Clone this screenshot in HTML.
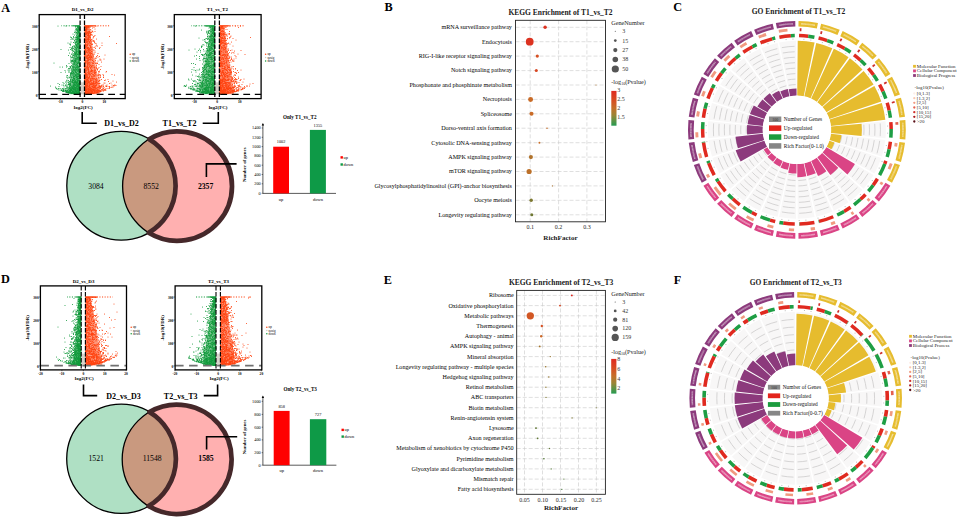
<!DOCTYPE html>
<html><head><meta charset="utf-8"><title>Figure</title>
<style>html,body{margin:0;padding:0;background:#fff}svg{display:block}text{font-family:"Liberation Serif",serif}</style></head>
<body>
<svg width="957" height="517" viewBox="0 0 957 517">
<rect x="0" y="0" width="957" height="517" fill="#fff"/>
<text transform="translate(1.2 12) scale(.93 1)" font-size="13.2" font-weight="bold">A</text>
<text transform="translate(384.4 11.3) scale(.93 1)" font-size="13.2" font-weight="bold">B</text>
<text transform="translate(673.3 11.1) scale(.93 1)" font-size="13.2" font-weight="bold">C</text>
<text transform="translate(0.9 282.7) scale(.93 1)" font-size="13.2" font-weight="bold">D</text>
<text transform="translate(383.8 283.6) scale(.93 1)" font-size="13.2" font-weight="bold">E</text>
<text transform="translate(673.8 283.6) scale(.93 1)" font-size="13.2" font-weight="bold">F</text>
<path transform="scale(.5)" d="M150 112h0M153 164h0M155 80h0M156 94h0M156 56h0M155 52h0M160 185h0M159 73h0M154 120h0M156 52h0M159 146h0M150 134h0M160 131h0M160 125h0M140 186h0M146 128h0M155 184h0M157 174h0M146 165h0M145 160h0M155 79h0M133 154h0M159 106h0M148 183h0M159 173h0M153 57h0M159 70h0M153 155h0M156 60h0M133 131h0M157 52h0M158 157h0M159 186h0M158 72h0M160 143h0M157 181h0M150 174h0M154 99h0M157 170h0M127 181h0M155 54h0M156 88h0M155 63h0M146 132h0M153 110h0M149 178h0M159 68h0M149 129h0M140 164h0M156 167h0M160 63h0M158 161h0M143 98h0M149 162h0M156 63h0M149 187h0M156 72h0M122 178h0M147 179h0M156 54h0M157 187h0M153 188h0M157 157h0M158 103h0M159 57h0M150 186h0M146 183h0M151 85h0M149 65h0M141 178h0M137 137h0M150 125h0M151 166h0M143 147h0M158 115h0M149 141h0M117 177h0M141 182h0M133 183h0M158 121h0M146 185h0M159 117h0M141 146h0M142 154h0M156 110h0M140 185h0M155 134h0M140 180h0M152 132h0M154 179h0M157 124h0M151 171h0M159 52h0M149 181h0M147 165h0M147 175h0M151 179h0M159 101h0M156 105h0M157 65h0M151 142h0M101 172h0M138 156h0M150 168h0M156 56h0M154 95h0M139 185h0M155 185h0M158 53h0M158 126h0M143 178h0M160 52h0M137 164h0M152 186h0M154 52h0M150 103h0M141 120h0M159 87h0M140 133h0M151 84h0M141 179h0M147 157h0M151 143h0M155 52h0M159 84h0M160 154h0M155 185h0M157 114h0M146 111h0M160 173h0M158 52h0M156 177h0M147 136h0M150 183h0M147 187h0M150 136h0M120 177h0M158 123h0M137 176h0M156 77h0M150 171h0M157 172h0M159 127h0M146 116h0M160 88h0M156 103h0M141 168h0M152 163h0M159 63h0M157 179h0M154 175h0M158 102h0M147 160h0M137 184h0M150 160h0M155 170h0M159 175h0M122 181h0M136 174h0M158 179h0M152 178h0M134 183h0M155 187h0M153 64h0M155 147h0M147 155h0M147 181h0M156 80h0M153 112h0M134 184h0M155 56h0M150 81h0M155 165h0M156 164h0M158 185h0M140 182h0M143 121h0M156 133h0M156 72h0M144 101h0M154 79h0M158 53h0M148 185h0M154 182h0M159 82h0M158 64h0M158 185h0M150 158h0M160 186h0M151 123h0M156 63h0M145 159h0M154 79h0M153 104h0M144 185h0M158 168h0M146 184h0M148 153h0M133 162h0M160 178h0M142 176h0M159 71h0M156 132h0M157 175h0M156 156h0M147 178h0M148 168h0M156 75h0M155 52h0M108 126h0M156 172h0M145 182h0M153 154h0M145 112h0M154 157h0M158 92h0M155 156h0M156 187h0M146 143h0M157 76h0M144 179h0M160 81h0M153 187h0M147 181h0M157 76h0M156 114h0M150 170h0M141 74h0M159 103h0M157 93h0M154 139h0M159 146h0M158 112h0M139 106h0M152 149h0M154 164h0M139 184h0M119 169h0M159 173h0M158 170h0M149 165h0M159 170h0M140 169h0M155 171h0M136 86h0M157 133h0M153 65h0M158 145h0M159 65h0M139 173h0M144 178h0M160 117h0M160 180h0M157 98h0M158 78h0M134 176h0M160 175h0M160 182h0M155 77h0M113 177h0M157 55h0M160 66h0M153 140h0M159 161h0M154 150h0M158 147h0M148 171h0M123 180h0M158 186h0M138 169h0M150 158h0M127 170h0M146 129h0M157 150h0M154 177h0M134 175h0M155 53h0M157 141h0M151 174h0M152 118h0M140 95h0M155 166h0M156 179h0M132 177h0M146 121h0M158 69h0M142 186h0M160 179h0M158 114h0M148 186h0M155 153h0M156 184h0M160 75h0M154 185h0M153 52h0M158 178h0M160 52h0M125 183h0M153 52h0M160 184h0M146 178h0M157 105h0M147 170h0M157 108h0M154 135h0M147 181h0M157 167h0M149 178h0M158 70h0M148 139h0M159 52h0M154 91h0M145 186h0M143 187h0M158 144h0M140 184h0M147 173h0M158 170h0M156 165h0M153 166h0M158 152h0M127 180h0M146 148h0M143 97h0M156 157h0M155 188h0M158 177h0M151 166h0M150 187h0M153 93h0M148 186h0M150 186h0M160 144h0M158 111h0M140 164h0M156 173h0M153 103h0M150 157h0M153 145h0M158 181h0M157 185h0M154 52h0M136 184h0M160 112h0M145 143h0M146 94h0M155 76h0M146 138h0M160 116h0M148 176h0M139 185h0M150 123h0M156 70h0M157 135h0M154 166h0M155 75h0M149 92h0M139 181h0M138 185h0M158 171h0M131 171h0M154 52h0M154 188h0M133 184h0M150 182h0M132 172h0M155 136h0M140 186h0M153 155h0M160 52h0M159 171h0M148 184h0M158 148h0M159 52h0M143 123h0M145 175h0M135 151h0M155 74h0M156 188h0M154 147h0M132 52h0M141 88h0M158 75h0M125 134h0M143 145h0M157 181h0M153 139h0M151 145h0M154 164h0M136 165h0M158 181h0M159 182h0M151 161h0M154 109h0M141 159h0M147 168h0M128 182h0M124 170h0M155 67h0M143 173h0M154 127h0M146 172h0M147 185h0M156 61h0M160 53h0M150 134h0M153 105h0M160 60h0M156 119h0M160 155h0M156 115h0M152 179h0M159 122h0M142 114h0M156 168h0M155 152h0M135 181h0M148 108h0M160 69h0M149 187h0M156 171h0M137 185h0M138 186h0M156 94h0M152 182h0M158 76h0M151 120h0M155 173h0M148 150h0M146 136h0M149 127h0M158 58h0M160 97h0M146 155h0M149 158h0M146 148h0M156 181h0M127 182h0M152 146h0M155 53h0M151 100h0M120 134h0M158 105h0M146 164h0M142 170h0M151 89h0M128 178h0M157 186h0M146 116h0M142 172h0M146 187h0M159 188h0M141 112h0M153 168h0M142 133h0M138 183h0M154 182h0M154 73h0M160 188h0M152 177h0M155 59h0M152 183h0M143 181h0M155 127h0M140 181h0M156 187h0M157 177h0M153 52h0M124 181h0M137 183h0M144 146h0M160 187h0M134 160h0M147 168h0M157 75h0M153 101h0M145 183h0M145 186h0M144 109h0M160 54h0M137 161h0M153 129h0M154 165h0M158 114h0M140 182h0M154 179h0M137 184h0M151 121h0M141 162h0M145 161h0M143 181h0M156 73h0M150 123h0M158 184h0M136 154h0M152 130h0M156 55h0M151 164h0M139 155h0M156 143h0M159 84h0M153 185h0M158 173h0M149 94h0M156 90h0M132 184h0M147 187h0M159 176h0M149 153h0M149 116h0M160 83h0M155 161h0M156 138h0M130 141h0M139 174h0M152 175h0M153 107h0M130 180h0M159 72h0M143 164h0M152 177h0M136 178h0M158 55h0M157 167h0M151 58h0M156 52h0M151 95h0M146 176h0M153 52h0M116 52h0M157 109h0M148 75h0M132 181h0M159 117h0M158 127h0M126 180h0M153 184h0M151 151h0M147 183h0M146 115h0M157 156h0M143 181h0M146 136h0M141 161h0M159 173h0M155 52h0M152 188h0M159 57h0M148 140h0M139 182h0M155 59h0M157 138h0M147 181h0M156 175h0M142 84h0M153 188h0M157 62h0M160 149h0M143 126h0M146 136h0M160 52h0M143 186h0M154 186h0M144 187h0M143 138h0M157 150h0M146 175h0M157 139h0M116 167h0M158 166h0M148 168h0M157 141h0M134 184h0M159 126h0M142 123h0M127 178h0M157 157h0M152 131h0M151 122h0M159 142h0M147 156h0M142 79h0M154 79h0M133 182h0M153 64h0M151 174h0M152 146h0M147 103h0M141 181h0M148 111h0M152 122h0M151 170h0M157 118h0M154 95h0M151 141h0M158 57h0M141 183h0M159 116h0M154 155h0M139 185h0M157 59h0M147 177h0M149 179h0M152 60h0M141 175h0M160 181h0M156 152h0M146 100h0M150 130h0M149 181h0M153 167h0M159 87h0M158 95h0M157 188h0M156 52h0M155 133h0M149 108h0M116 178h0M151 180h0M154 128h0M154 127h0M141 162h0M155 68h0M158 81h0M157 87h0M147 97h0M158 158h0M138 166h0M157 172h0M147 144h0M157 76h0M154 84h0M155 155h0M141 170h0M149 165h0M158 121h0M158 66h0M149 169h0M147 116h0M159 163h0M150 168h0M131 181h0M156 52h0M146 151h0M155 186h0M156 153h0M146 185h0M145 93h0M148 159h0M159 111h0M157 158h0M143 142h0M152 75h0M149 167h0M159 69h0M145 183h0M142 155h0M159 52h0M158 107h0M159 52h0M147 183h0M142 149h0M160 181h0M157 52h0M140 152h0M143 146h0M153 104h0M139 180h0M142 116h0M154 188h0M159 104h0M155 95h0M149 127h0M156 63h0M140 184h0M157 153h0M158 179h0M160 170h0M152 60h0M150 165h0M158 96h0M143 173h0M159 52h0M139 163h0M149 112h0M153 90h0M157 188h0M152 177h0M155 184h0M157 60h0M156 137h0M149 177h0M138 183h0M148 184h0M148 93h0M157 166h0M145 177h0M157 52h0M147 182h0M143 176h0M160 111h0M150 185h0M159 87h0M136 169h0M151 52h0M154 188h0M158 63h0M158 187h0M151 166h0M143 174h0M139 177h0M154 187h0M152 175h0M158 138h0M157 184h0M153 93h0M143 180h0M150 87h0M128 172h0M158 52h0M157 57h0M148 161h0M152 151h0M153 71h0M157 181h0M151 174h0M160 52h0M160 102h0M158 166h0M154 61h0M150 180h0M137 168h0M154 161h0M153 185h0M157 96h0M160 52h0M144 95h0M148 187h0M145 175h0M144 187h0M153 68h0M158 55h0M159 102h0M160 172h0M145 181h0M153 80h0M157 120h0M149 134h0M156 52h0M156 168h0M159 106h0M146 149h0M156 52h0M150 149h0M156 169h0M147 139h0M157 161h0M159 65h0M145 183h0M150 170h0M157 59h0M156 80h0M124 170h0M149 174h0M159 164h0M153 89h0M145 185h0M133 181h0M150 106h0M152 83h0M154 56h0M147 181h0M143 181h0M142 136h0M136 182h0M143 180h0M155 171h0M156 158h0M156 177h0M126 165h0M155 185h0M156 187h0M147 145h0M157 140h0M148 110h0M140 176h0M138 180h0M160 100h0M154 97h0M152 91h0M159 81h0M158 52h0M146 147h0M154 162h0M151 79h0M160 180h0M155 108h0M146 178h0M153 175h0M152 185h0M139 186h0M144 77h0M154 187h0M153 124h0M144 184h0M146 126h0M150 178h0M138 169h0M154 181h0M143 186h0M152 173h0M146 187h0M156 80h0M158 88h0M138 140h0M158 63h0M153 60h0M118 173h0M158 74h0M154 119h0M125 180h0M141 184h0M155 184h0M159 134h0M153 187h0M146 187h0M157 188h0M155 117h0M150 121h0M151 74h0M150 96h0M158 76h0M145 164h0M156 52h0M152 135h0M148 122h0M151 150h0M160 82h0M160 167h0M154 185h0M130 183h0M137 169h0M143 180h0M159 61h0M160 158h0M146 141h0M150 185h0M159 52h0M151 161h0M158 56h0M159 86h0M150 98h0M150 169h0M160 58h0M157 72h0M153 74h0M154 52h0M157 53h0M157 98h0M148 147h0M157 126h0M139 186h0M148 179h0M151 52h0M155 89h0M151 169h0M156 64h0M152 77h0M142 185h0M144 185h0M150 108h0M152 66h0M158 52h0M146 183h0M153 183h0M158 79h0M144 162h0M158 177h0M147 175h0M157 83h0M160 70h0M158 74h0M141 167h0M154 126h0M157 117h0M156 185h0M146 145h0M150 62h0M155 177h0M157 172h0M159 185h0M123 181h0M150 96h0M144 162h0M158 176h0M148 162h0M132 183h0M154 186h0M153 104h0M134 184h0M153 146h0M155 52h0M157 182h0M155 89h0M138 127h0M141 181h0M127 183h0M151 181h0M158 104h0M154 179h0M160 157h0M156 52h0M148 91h0M152 177h0M154 177h0M148 139h0M153 136h0M154 185h0M148 124h0M145 173h0M157 75h0M149 185h0M145 78h0M159 78h0M158 188h0M142 179h0M148 85h0M135 180h0M152 120h0M144 178h0M155 87h0M147 161h0M154 186h0M159 179h0M152 105h0M147 156h0M154 102h0M159 59h0M144 187h0M118 180h0M157 52h0M158 86h0M160 149h0M156 66h0M160 109h0M135 185h0M145 162h0M144 140h0M151 54h0M142 145h0M143 155h0M133 184h0M146 114h0M159 112h0M127 183h0M152 118h0M151 161h0M154 185h0M147 166h0M150 105h0M157 94h0M145 104h0M150 150h0M149 164h0M145 121h0M160 186h0M149 81h0M154 114h0M149 177h0M145 123h0M147 140h0M133 166h0M159 177h0M159 128h0M150 167h0M147 175h0M155 80h0M153 152h0M149 183h0M145 184h0M159 106h0M151 79h0M156 114h0M155 95h0M150 153h0M152 117h0M160 58h0M158 52h0M152 151h0M158 186h0M157 52h0M158 100h0M158 64h0M150 174h0M134 162h0M159 177h0M156 176h0M155 86h0M151 86h0M155 170h0M155 52h0M151 162h0M139 168h0M160 93h0M159 155h0M153 164h0M139 137h0M155 83h0M139 186h0M136 140h0M140 184h0M158 180h0M155 130h0M145 175h0M142 183h0M154 171h0M124 181h0M159 52h0M160 183h0M157 84h0M153 79h0M148 185h0M151 126h0M146 155h0M156 54h0M139 155h0M147 155h0M149 156h0M158 67h0M153 102h0M157 78h0M137 100h0M147 132h0M158 52h0M153 58h0M114 178h0M153 97h0M133 176h0M158 77h0M136 184h0M143 131h0M151 164h0M146 107h0M156 125h0M153 103h0M149 125h0M132 169h0M154 147h0M150 150h0M154 134h0M152 165h0M147 181h0M156 187h0M156 55h0M147 73h0M141 180h0M134 171h0M159 122h0M155 169h0M153 132h0M145 182h0M158 97h0M157 182h0M142 176h0M155 183h0M157 52h0M140 167h0M146 177h0M117 177h0M158 179h0M123 181h0M151 106h0M138 170h0M151 187h0M157 150h0M140 186h0M146 68h0M150 175h0M154 133h0M148 177h0M159 182h0M153 52h0M153 83h0M157 186h0M157 174h0M128 178h0M149 105h0M159 185h0M137 184h0M145 134h0M156 126h0M149 186h0M148 134h0M154 125h0M141 147h0M149 173h0M145 160h0M145 165h0M153 52h0M143 184h0M160 161h0M159 132h0M159 165h0M156 56h0M159 178h0M145 120h0M147 128h0M142 152h0M143 142h0M158 112h0M152 166h0M145 181h0M138 145h0M156 81h0M151 178h0M152 52h0M142 187h0M151 117h0M144 186h0M159 151h0M155 164h0M147 116h0M157 80h0M150 186h0M141 136h0M146 182h0M160 152h0M158 162h0M112 176h0M156 188h0M155 60h0M154 119h0M158 111h0M154 149h0M160 52h0M153 159h0M156 134h0M153 172h0M137 179h0M133 185h0M157 115h0M139 182h0M155 165h0M141 159h0M150 178h0M159 101h0M160 172h0M159 78h0M142 182h0M149 157h0M154 188h0M157 169h0M148 188h0M149 187h0M149 142h0M149 164h0M155 164h0M153 166h0M148 78h0M150 87h0M154 107h0M146 148h0M149 146h0M139 168h0M154 168h0M160 105h0M157 53h0M155 78h0M157 185h0M131 177h0M143 108h0M141 149h0M150 149h0M128 176h0M160 58h0M147 184h0M138 186h0M157 54h0M146 78h0M156 142h0M140 181h0M148 185h0M158 112h0M158 89h0M147 182h0M153 170h0M155 63h0M151 107h0M157 58h0M148 158h0M153 187h0M155 162h0M147 171h0M146 178h0M158 62h0M150 139h0M151 179h0M151 109h0M146 166h0M151 182h0M159 184h0M154 95h0M152 185h0M159 188h0M159 52h0M153 182h0M150 174h0M158 91h0M145 120h0M159 52h0M149 70h0M160 105h0M155 131h0M153 52h0M144 162h0M158 74h0M152 165h0M148 185h0M158 181h0M132 179h0M135 181h0M152 154h0M152 144h0M158 171h0M155 140h0M135 182h0M154 59h0M151 185h0M138 143h0M155 92h0M156 102h0M153 177h0M151 64h0M125 177h0M148 175h0M151 175h0M155 102h0M158 105h0M157 133h0M158 146h0M160 148h0M154 142h0M149 171h0M154 125h0M160 70h0M149 187h0M159 68h0M142 152h0M156 60h0M142 182h0M149 187h0M142 125h0M156 181h0M141 99h0M138 183h0M160 103h0M157 183h0M136 176h0M160 97h0M157 52h0M159 52h0M155 159h0M133 134h0M152 150h0M158 62h0M156 65h0M158 81h0M137 111h0M143 123h0M111 174h0M159 52h0M155 80h0M157 174h0M156 53h0M156 87h0M153 75h0M158 52h0M147 85h0M154 170h0M154 156h0M128 167h0M149 184h0M122 145h0M153 173h0M135 156h0M159 184h0M156 52h0M159 71h0M158 140h0M143 131h0M152 94h0M150 163h0M141 134h0M143 138h0M153 58h0M160 165h0M159 96h0M152 129h0M158 56h0M128 181h0M116 178h0M154 186h0M148 133h0M160 183h0M134 173h0M157 104h0M155 165h0M147 153h0M146 186h0M158 108h0M160 138h0M142 158h0M154 64h0M141 149h0M143 75h0M151 108h0M154 75h0M131 164h0M144 120h0M140 136h0M147 176h0M159 183h0M145 174h0M147 135h0M160 161h0M131 144h0M155 172h0M155 115h0M158 82h0M146 101h0M155 178h0M150 177h0M160 168h0M136 185h0M154 155h0M157 175h0M159 129h0M158 138h0M144 181h0M158 125h0M146 110h0M151 137h0M151 179h0M154 175h0M147 179h0M155 60h0M145 98h0M132 180h0M147 74h0M159 167h0M144 147h0M131 184h0M145 176h0M153 99h0M152 184h0M156 54h0M138 176h0M160 108h0M154 146h0M160 87h0M158 167h0M143 147h0M155 94h0M155 187h0M157 184h0M152 68h0M153 52h0M145 133h0M160 107h0M148 119h0M158 118h0M157 107h0M156 123h0M153 114h0M151 112h0M157 178h0M136 181h0M157 146h0M158 149h0M156 52h0M159 94h0M141 151h0M160 73h0M146 123h0M134 133h0M149 82h0M122 99h0M156 56h0M153 182h0M157 169h0M149 99h0M139 182h0M141 90h0M160 84h0M159 184h0M154 133h0M157 141h0M146 165h0M148 172h0M154 134h0M151 171h0M144 186h0M160 86h0M145 170h0M156 149h0M155 188h0M153 183h0M159 184h0M142 178h0M144 162h0M134 151h0M154 64h0M150 116h0M152 76h0M158 90h0M155 52h0M159 133h0M143 123h0M156 86h0M156 52h0M153 181h0M140 179h0M156 90h0M136 186h0M145 134h0M149 177h0M152 109h0M154 185h0M156 70h0M157 64h0M145 96h0M140 140h0M153 154h0M153 183h0M156 162h0M122 181h0M142 164h0M159 183h0M139 88h0M140 171h0M159 119h0M154 79h0M149 125h0M155 176h0M158 73h0M154 134h0M159 53h0M139 182h0M155 181h0M158 113h0M152 139h0M160 103h0M144 115h0M157 178h0M158 184h0M156 183h0M153 91h0M157 52h0M157 186h0M151 177h0M142 176h0M156 148h0M149 121h0M154 57h0M159 79h0M150 186h0M151 183h0M156 160h0M159 95h0M149 184h0M144 179h0M151 119h0M160 185h0M152 186h0M158 99h0M152 111h0M156 171h0M135 184h0M156 52h0M141 185h0M155 109h0M160 52h0M157 101h0M159 152h0M158 174h0M158 185h0M157 52h0M158 143h0M153 85h0M156 103h0M160 125h0M152 154h0M159 100h0M151 126h0M152 155h0M159 71h0M154 179h0M150 175h0M153 117h0M154 58h0" stroke="#129a3c" stroke-width="2.1" stroke-linecap="round" fill="none"/>
<polygon points="80.1,25.8 78.1,25.8 68.2,92.8 69.1,94.3 80.1,94.3" fill="#129a3c" opacity="0.55"/>
<path d="M80.1 25.8H72.4" stroke="#129a3c" stroke-width="1.1" fill="none"/>
<path d="M72.4 25.8H61.4" stroke="#129a3c" stroke-width="1.0" stroke-dasharray="1.1 1.5" fill="none"/>
<path transform="scale(.5)" d="M171 176h0M179 99h0M187 100h0M175 90h0M183 179h0M171 185h0M189 167h0M182 180h0M177 82h0M176 186h0M170 141h0M175 183h0M193 113h0M175 52h0M188 124h0M219 167h0M184 186h0M171 173h0M184 185h0M176 114h0M191 171h0M188 100h0M170 91h0M172 188h0M170 128h0M173 181h0M174 52h0M171 178h0M175 161h0M205 179h0M170 57h0M198 170h0M188 168h0M190 152h0M174 58h0M200 167h0M172 67h0M191 121h0M183 152h0M174 85h0M177 53h0M181 135h0M186 171h0M198 167h0M178 140h0M170 78h0M183 113h0M193 126h0M176 184h0M185 183h0M186 145h0M178 187h0M171 52h0M184 111h0M173 183h0M193 186h0M173 57h0M175 150h0M184 182h0M171 89h0M187 181h0M169 52h0M212 177h0M175 128h0M174 173h0M171 62h0M181 93h0M171 59h0M208 175h0M188 181h0M180 98h0M175 52h0M172 89h0M177 104h0M174 185h0M189 140h0M194 52h0M175 71h0M180 52h0M205 180h0M174 94h0M176 116h0M170 186h0M184 152h0M170 60h0M187 186h0M192 159h0M170 62h0M178 164h0M171 186h0M182 81h0M169 179h0M182 178h0M170 98h0M175 177h0M170 63h0M174 186h0M180 54h0M170 112h0M191 52h0M176 185h0M172 150h0M175 136h0M181 94h0M170 54h0M171 52h0M177 95h0M180 79h0M184 103h0M179 165h0M176 56h0M182 106h0M184 114h0M174 77h0M176 188h0M172 85h0M182 140h0M170 172h0M182 165h0M170 109h0M170 98h0M190 52h0M184 157h0M172 188h0M172 186h0M179 172h0M193 182h0M185 166h0M192 159h0M175 118h0M175 111h0M172 52h0M172 157h0M172 183h0M173 159h0M170 145h0M188 152h0M178 186h0M175 52h0M170 166h0M176 108h0M199 113h0M191 116h0M175 132h0M170 61h0M178 66h0M178 112h0M183 184h0M189 147h0M180 91h0M173 52h0M196 114h0M180 73h0M198 145h0M173 66h0M176 181h0M190 134h0M182 141h0M172 172h0M178 110h0M200 177h0M176 167h0M175 129h0M170 52h0M177 103h0M192 165h0M214 170h0M174 188h0M171 116h0M173 163h0M188 83h0M172 171h0M181 107h0M172 55h0M192 174h0M226 162h0M184 172h0M175 65h0M187 127h0M171 185h0M175 177h0M174 141h0M171 186h0M193 78h0M182 134h0M173 178h0M172 147h0M170 102h0M181 76h0M182 141h0M209 180h0M169 161h0M172 52h0M185 180h0M173 154h0M175 188h0M180 63h0M172 85h0M185 167h0M171 175h0M179 52h0M183 98h0M169 180h0M198 154h0M178 79h0M179 85h0M178 145h0M170 185h0M176 99h0M196 168h0M227 171h0M172 184h0M177 99h0M189 72h0M181 116h0M198 143h0M173 146h0M173 151h0M174 86h0M181 81h0M184 177h0M181 68h0M176 152h0M170 153h0M189 185h0M228 171h0M170 107h0M174 54h0M174 171h0M184 136h0M198 155h0M189 181h0M170 182h0M176 71h0M173 81h0M186 109h0M188 164h0M178 67h0M175 117h0M171 137h0M208 118h0M197 181h0M184 112h0M179 114h0M180 125h0M188 183h0M172 180h0M184 184h0M179 155h0M181 181h0M175 129h0M172 102h0M198 149h0M177 115h0M192 176h0M177 155h0M169 67h0M188 176h0M185 157h0M184 175h0M175 184h0M176 119h0M183 143h0M200 172h0M180 102h0M183 187h0M171 52h0M171 95h0M176 128h0M188 181h0M174 56h0M178 166h0M177 164h0M193 144h0M176 95h0M174 124h0M190 169h0M200 184h0M182 183h0M200 181h0M175 126h0M182 180h0M178 145h0M176 101h0M172 187h0M219 173h0M172 52h0M203 159h0M171 163h0M171 130h0M180 180h0M173 183h0M177 55h0M172 133h0M207 151h0M186 120h0M177 180h0M180 174h0M173 167h0M203 173h0M169 111h0M180 176h0M199 161h0M181 184h0M177 136h0M184 183h0M190 86h0M212 180h0M229 170h0M176 151h0M170 148h0M169 160h0M172 66h0M186 180h0M175 52h0M187 166h0M176 145h0M197 163h0M182 144h0M177 69h0M175 122h0M198 160h0M233 87h0M191 172h0M187 81h0M200 118h0M184 52h0M203 171h0M172 160h0M170 93h0M172 164h0M181 184h0M185 187h0M179 188h0M169 52h0M179 168h0M173 177h0M180 163h0M181 131h0M174 92h0M171 107h0M190 183h0M184 106h0M188 182h0M195 181h0M181 114h0M179 144h0M179 64h0M190 174h0M204 182h0M179 179h0M186 160h0M179 155h0M184 130h0M184 63h0M172 89h0M172 140h0M184 184h0M191 186h0M189 184h0M180 177h0M193 160h0M195 176h0M181 52h0M192 87h0M177 80h0M181 161h0M184 186h0M185 141h0M179 75h0M184 107h0M179 182h0M173 183h0M173 79h0M179 64h0M181 186h0M178 170h0M169 174h0M173 102h0M170 81h0M173 187h0M189 136h0M180 124h0M189 179h0M176 110h0M174 95h0M174 138h0M182 71h0M173 52h0M175 78h0M184 186h0M184 88h0M172 133h0M193 184h0M169 77h0M181 163h0M189 180h0M195 183h0M173 183h0M172 99h0M180 62h0M173 55h0M190 172h0M170 156h0M170 111h0M183 186h0M184 133h0M184 175h0M192 181h0M180 116h0M192 92h0M176 62h0M196 179h0M177 78h0M183 69h0M177 73h0M198 173h0M183 185h0M181 186h0M190 171h0M178 86h0M191 178h0M200 120h0M190 159h0M181 178h0M173 182h0M172 75h0M187 179h0M200 95h0M170 107h0M196 152h0M181 101h0M185 173h0M183 180h0M197 175h0M184 182h0M193 126h0M177 177h0M183 141h0M189 175h0M191 145h0M194 162h0M180 86h0M180 184h0M170 102h0M192 182h0M174 65h0M178 147h0M172 133h0M186 143h0M171 171h0M180 110h0M195 126h0M170 180h0M171 82h0M171 52h0M170 162h0M175 159h0M180 84h0M174 161h0M170 123h0M180 120h0M176 139h0M180 176h0M177 74h0M183 107h0M179 185h0M201 155h0M175 135h0M219 177h0M171 144h0M175 172h0M186 76h0M188 171h0M174 155h0M172 54h0M200 183h0M191 167h0M188 186h0M177 156h0M183 114h0M191 183h0M179 153h0M177 182h0M181 80h0M194 138h0M179 175h0M178 158h0M170 69h0M171 148h0M174 175h0M195 138h0M199 166h0M179 90h0M181 187h0M170 181h0M170 181h0M182 172h0M184 186h0M201 183h0M177 109h0M179 85h0M193 177h0M182 160h0M170 52h0M173 64h0M185 80h0M171 155h0M190 86h0M172 91h0M172 166h0M187 158h0M181 69h0M171 154h0M188 153h0M171 95h0M208 178h0M169 97h0M177 173h0M182 169h0M208 166h0M181 159h0M174 187h0M171 91h0M188 171h0M170 52h0M199 162h0M169 94h0M197 180h0M174 52h0M179 152h0M177 127h0M188 135h0M183 84h0M179 101h0M172 175h0M182 168h0M190 105h0M177 67h0M178 186h0M178 112h0M198 181h0M171 165h0M172 161h0M178 52h0M176 182h0M178 86h0M170 152h0M184 165h0M185 184h0M174 165h0M183 182h0M180 117h0M174 73h0M186 178h0M172 108h0M174 54h0M176 87h0M169 100h0M170 157h0M186 154h0M201 175h0M177 130h0M232 171h0M179 76h0M176 64h0M177 134h0M187 74h0M173 64h0M179 184h0M176 122h0M170 147h0M191 127h0M183 184h0M169 157h0M187 150h0M183 140h0M197 143h0M170 108h0M172 61h0M180 71h0M211 180h0M179 58h0M191 172h0M224 174h0M177 161h0M184 183h0M187 186h0M176 52h0M183 167h0M171 177h0M190 58h0M207 177h0M171 142h0M171 179h0M180 97h0M176 178h0M179 125h0M179 52h0M183 185h0M175 127h0M170 184h0M181 163h0M200 160h0M176 176h0M172 175h0M180 80h0M226 174h0M193 116h0M173 67h0M187 170h0M193 165h0M180 126h0M173 182h0M212 180h0M216 159h0M176 188h0M185 166h0M177 138h0M177 63h0M219 73h0M183 179h0M185 182h0M179 178h0M175 136h0M187 149h0M182 185h0M190 118h0M200 175h0M195 175h0M180 114h0M177 176h0M170 107h0M186 168h0M173 168h0M179 119h0M178 143h0M199 178h0M185 116h0M171 52h0M173 112h0M176 155h0M176 162h0M177 178h0M182 113h0M181 179h0M180 160h0M171 73h0M179 62h0M173 184h0M172 114h0M186 186h0M176 76h0M176 138h0M186 52h0M182 157h0M170 179h0M174 172h0M171 141h0M171 168h0M196 181h0M184 130h0M172 69h0M192 179h0M177 120h0M171 185h0M224 170h0M179 52h0M211 179h0M198 150h0M188 187h0M172 186h0M185 62h0M172 173h0M171 55h0M173 66h0M187 167h0M184 186h0M189 135h0M207 154h0M211 160h0M172 52h0M176 157h0M173 52h0M178 180h0M170 77h0M186 126h0M198 176h0M204 170h0M171 108h0M192 178h0M192 167h0M179 174h0M173 59h0M169 175h0M171 170h0M176 179h0M171 58h0M181 120h0M170 64h0M175 171h0M191 171h0M171 126h0M179 102h0M191 148h0M174 84h0M184 169h0M206 180h0M184 107h0M185 70h0M170 154h0M185 187h0M179 52h0M181 52h0M171 188h0M186 160h0M169 52h0M190 71h0M172 188h0M176 188h0M196 185h0M196 166h0M173 52h0M178 72h0M172 116h0M183 186h0M206 149h0M201 139h0M195 140h0M171 146h0M171 188h0M177 118h0M190 146h0M171 125h0M175 52h0M180 99h0M172 62h0M181 180h0M181 65h0M195 185h0M170 169h0M182 95h0M178 176h0M172 85h0M179 90h0M186 182h0M172 188h0M169 142h0M183 103h0M178 64h0M180 63h0M189 82h0M174 68h0M187 186h0M172 67h0M193 135h0M171 179h0M175 96h0M181 149h0M183 187h0M172 52h0M172 182h0M190 173h0M188 150h0M210 181h0M169 185h0M173 182h0M178 68h0M177 173h0M169 113h0M186 144h0M178 149h0M180 65h0M176 84h0M171 79h0M173 183h0M195 127h0M183 184h0M181 109h0M171 187h0M170 155h0M187 162h0M170 57h0M169 118h0M193 184h0M171 88h0M170 147h0M189 146h0M174 180h0M173 52h0M170 169h0M184 120h0M181 186h0M177 143h0M170 52h0M177 66h0M177 188h0M173 59h0M169 188h0M180 97h0M175 52h0M184 99h0M183 139h0M185 56h0M178 188h0M175 153h0M191 165h0M189 172h0M175 162h0M177 186h0M170 52h0M171 67h0M185 183h0M177 77h0M207 182h0M195 92h0M190 139h0M171 181h0M174 180h0M175 90h0M181 183h0M192 158h0M191 144h0M212 144h0M179 115h0M183 69h0M177 125h0M189 140h0M199 170h0M194 185h0M174 75h0M198 172h0M193 90h0M170 169h0M175 130h0M181 143h0M188 166h0M188 178h0M169 188h0M178 182h0M180 167h0M186 172h0M213 173h0M172 139h0M207 181h0M175 182h0M183 79h0M190 102h0M197 181h0M178 185h0M188 55h0M176 80h0M171 74h0M178 187h0M201 181h0M173 52h0M200 184h0M181 52h0M189 186h0M180 175h0M201 173h0M211 172h0M189 185h0M183 115h0M172 164h0M176 134h0M189 186h0M175 82h0M171 181h0M199 173h0M202 183h0M193 181h0M176 170h0M172 179h0M184 173h0M175 161h0M175 170h0M169 135h0M183 52h0M175 54h0M169 158h0M197 181h0M175 158h0M184 142h0M198 183h0M190 162h0M182 65h0M169 187h0M183 162h0M170 184h0M174 156h0M186 131h0M194 166h0M174 186h0M182 66h0M181 160h0M175 112h0M174 70h0M172 180h0M175 52h0M174 83h0M170 138h0M186 169h0M177 184h0M170 179h0M176 188h0M186 64h0M171 156h0M228 172h0M172 165h0M185 62h0M188 183h0M186 185h0M171 182h0M206 170h0M172 52h0M176 159h0M185 173h0M173 112h0M173 53h0M230 170h0M172 112h0M183 132h0M174 149h0M173 52h0M172 52h0M179 101h0M171 65h0M177 147h0M169 52h0M191 141h0M193 137h0M176 157h0M170 135h0M196 181h0M171 73h0M181 59h0M207 173h0M177 52h0M197 180h0M202 133h0M185 116h0M173 179h0M173 122h0M172 80h0M173 178h0M188 132h0M180 85h0M177 139h0M172 188h0M209 179h0M172 152h0M194 160h0M171 181h0M192 182h0M192 162h0M177 55h0M171 80h0M180 187h0M183 52h0M186 187h0M172 72h0M175 172h0M176 148h0M203 124h0M174 52h0M175 52h0M171 124h0M180 55h0M173 134h0M175 100h0M188 179h0M174 52h0M204 91h0M174 159h0M178 97h0M183 140h0M183 118h0M186 149h0M171 180h0M173 170h0M178 73h0M190 158h0M184 187h0M183 118h0M177 52h0M205 180h0M197 184h0M176 124h0M180 52h0M191 176h0M190 162h0M176 161h0M181 175h0M175 127h0M175 164h0M170 52h0M174 146h0M196 122h0M169 185h0M178 185h0M193 164h0M171 157h0M184 152h0M213 172h0M176 163h0M177 186h0M188 174h0M180 167h0M183 65h0M200 149h0M181 90h0M179 52h0M196 184h0M169 52h0M177 79h0M188 186h0M188 180h0M169 129h0M205 176h0M199 142h0M229 150h0M171 162h0M188 182h0M210 110h0M185 174h0M209 161h0M185 180h0M177 165h0M173 153h0M181 137h0M186 187h0M169 126h0M172 104h0M180 151h0M178 63h0M171 60h0M181 111h0M172 171h0M170 52h0M189 157h0M178 71h0M175 188h0M175 91h0M197 180h0M194 181h0M180 150h0M175 169h0M171 122h0M222 175h0M175 188h0M191 185h0M171 188h0M172 54h0M181 180h0M193 130h0M197 183h0M180 130h0M184 108h0M182 181h0M176 168h0M180 132h0M211 172h0M185 156h0M173 175h0M184 94h0M191 97h0M170 99h0M173 180h0M199 97h0M186 149h0M173 163h0M184 177h0M170 167h0M186 179h0M174 111h0M180 115h0M169 173h0M177 141h0M172 102h0M178 54h0M201 182h0M170 169h0M172 78h0M189 144h0M174 116h0M219 175h0M198 135h0M173 159h0M170 59h0M171 130h0M172 125h0M177 111h0M195 139h0M169 116h0M179 114h0M206 173h0M178 130h0M174 58h0M214 173h0M178 163h0M174 95h0M182 82h0M175 112h0M187 175h0M183 181h0M171 59h0M184 159h0M183 133h0M171 182h0M183 184h0M181 87h0M197 148h0M180 120h0M207 170h0M177 115h0M175 133h0M184 153h0M171 101h0M173 149h0M184 179h0M190 150h0M170 112h0M183 142h0M190 94h0M175 52h0M171 98h0M173 161h0M194 150h0M195 111h0M181 69h0M181 68h0M193 157h0M171 169h0M184 135h0M192 185h0M180 85h0M174 138h0M173 162h0M171 93h0M177 78h0M169 188h0M192 171h0M174 52h0M204 86h0M188 176h0M183 187h0M183 182h0M175 64h0M173 56h0M187 100h0M179 187h0M203 174h0M178 184h0M183 52h0M184 161h0M198 129h0M183 186h0M177 139h0M175 78h0M182 147h0M172 178h0M197 184h0M176 177h0M172 158h0M192 127h0M188 151h0M179 128h0M201 152h0M170 158h0M170 72h0M180 126h0M186 174h0M171 94h0M185 121h0M202 183h0M172 155h0M180 102h0M193 171h0M184 172h0M179 148h0M172 58h0M179 174h0M192 180h0M171 179h0M176 68h0M173 136h0M169 172h0M171 95h0M176 144h0M195 182h0M224 149h0M202 120h0M189 108h0M181 187h0M178 180h0M174 117h0M173 154h0M177 109h0M170 104h0M176 89h0M176 97h0M185 148h0M222 166h0M179 147h0M172 94h0M184 100h0M208 179h0M195 166h0M172 185h0M197 155h0M176 174h0M188 180h0M180 96h0M172 54h0M218 173h0M191 176h0M175 177h0M175 182h0M177 134h0M187 157h0M194 184h0M192 162h0M172 166h0M184 183h0M184 161h0M190 145h0M213 143h0M181 135h0M183 181h0M186 52h0M183 182h0M192 181h0M210 166h0M185 178h0M182 60h0M192 160h0M180 170h0M177 66h0M194 165h0M180 157h0M190 63h0M178 72h0M191 124h0M171 163h0M177 98h0M175 121h0M190 174h0M189 182h0M201 177h0M192 184h0M169 91h0M191 144h0M179 133h0M187 123h0M186 186h0M181 52h0M190 117h0M172 161h0M198 160h0M179 171h0M193 157h0M170 134h0M183 147h0M169 52h0M194 166h0M174 154h0M188 186h0M170 52h0M183 154h0M173 62h0M179 107h0M189 174h0M178 176h0M196 148h0M174 83h0M179 83h0M200 182h0M175 97h0M181 75h0M179 105h0M173 56h0M178 176h0M170 171h0M196 137h0M184 87h0M189 142h0M196 107h0M172 186h0M171 157h0M175 179h0M171 138h0M201 151h0M180 175h0M172 100h0M174 114h0M193 169h0M174 89h0M198 175h0M174 121h0M205 180h0M182 52h0M190 152h0M173 92h0M184 132h0M188 124h0M171 52h0M176 187h0M182 177h0M174 77h0M179 171h0M171 90h0M170 184h0M198 182h0M175 52h0M172 169h0M171 86h0M177 76h0M198 167h0M199 181h0M176 170h0M213 172h0M193 164h0M201 183h0M172 179h0M180 112h0M181 52h0M180 144h0M195 183h0M198 151h0M173 83h0M171 181h0M182 144h0M181 178h0M172 97h0M185 127h0M170 182h0M180 118h0M190 163h0M181 187h0M175 67h0M186 160h0M176 55h0M201 172h0M195 181h0M184 180h0M180 66h0M176 162h0M193 132h0M172 127h0M173 171h0M187 163h0M176 52h0M180 188h0M197 166h0M185 169h0M233 164h0M190 52h0M172 164h0M176 128h0M174 91h0M172 52h0M174 96h0M173 52h0M203 179h0M170 177h0M177 187h0M176 157h0M216 177h0M181 118h0M172 183h0M171 73h0M189 176h0M170 164h0M195 179h0M176 106h0M176 107h0M175 105h0M197 162h0M172 132h0M207 155h0M171 152h0M178 172h0M171 150h0M195 184h0M186 141h0M173 52h0M172 100h0M171 105h0M178 135h0M188 180h0M170 82h0M187 112h0M173 187h0M176 104h0M177 80h0M188 185h0M183 89h0M178 74h0M187 164h0M173 142h0M188 185h0M174 103h0M171 69h0M217 163h0M171 149h0M187 178h0M175 187h0M176 183h0M181 168h0M180 104h0M172 52h0M177 161h0M184 177h0M200 178h0M182 167h0M180 128h0M188 172h0M173 61h0M180 182h0M203 180h0M170 111h0M198 175h0M188 168h0M177 101h0M170 109h0M172 186h0M171 120h0M178 79h0M177 69h0M179 187h0M182 187h0M184 181h0M181 105h0M170 171h0M170 59h0M183 168h0M192 185h0M181 187h0M172 61h0M185 184h0M172 69h0M174 58h0M174 83h0M179 52h0M174 67h0M188 95h0M182 114h0M185 185h0M175 79h0M196 151h0M196 158h0M186 83h0M189 85h0M173 172h0M183 160h0M184 125h0M185 141h0M179 110h0M192 181h0M185 89h0M188 182h0M173 62h0M188 167h0M173 105h0M180 157h0M176 152h0M206 180h0M182 83h0M174 52h0M177 121h0M176 59h0M187 73h0M183 177h0M180 187h0M178 179h0M171 184h0M171 133h0M191 181h0M172 58h0M178 74h0M171 133h0M175 166h0M184 98h0M198 157h0M177 117h0M174 70h0M170 188h0M170 92h0M174 52h0M170 164h0M177 71h0M170 91h0M184 185h0M173 159h0M170 174h0M201 175h0M174 167h0M178 180h0M181 169h0" stroke="#ff4310" stroke-width="2.1" stroke-linecap="round" fill="none"/>
<polygon points="84.5,25.8 89.1,25.8 100.0,92.8 99.2,94.3 84.5,94.3" fill="#ff4310" opacity="0.55"/>
<path d="M84.5 25.8H95.0" stroke="#ff4310" stroke-width="1.1" fill="none"/>
<path d="M95.0 25.8H110.0" stroke="#ff4310" stroke-width="1.0" stroke-dasharray="1.1 1.5" fill="none"/>
<rect x="80.1" y="82.3" width="4.4" height="12" fill="#d8d4cc"/>
<path d="M39.2 94.3H125.2" stroke="#000" stroke-width="1.25"  stroke-dasharray="6.8 4.7" fill="none"/>
<path d="M80.1 14.6V98.6M84.5 14.6V98.6" stroke="#000" stroke-width="1.25" stroke-dasharray="4.5 1.5" fill="none"/>
<rect x="39.2" y="14.6" width="86.0" height="84.0" fill="none" stroke="#000" stroke-width="1.3"/>
<text x="82.60" y="11.20" font-size="5.0" font-weight="bold" text-anchor="middle" fill="#000">D1_vs_D2</text>
<text x="83.30" y="109.00" font-size="5.0" font-weight="bold" text-anchor="middle" fill="#000">log2(FC)</text>
<text x="28.60" y="56.60" font-size="4.8" font-weight="bold" text-anchor="middle" fill="#000" transform="rotate(-90 28.60 56.60)">-log10(FDR)</text>
<text x="37.50" y="96.70" font-size="3.6" font-weight="bold" text-anchor="end" fill="#000">0</text>
<path d="M37.7 94.6h1.5" stroke="#000" stroke-width=".5"/>
<text x="37.50" y="73.77" font-size="3.6" font-weight="bold" text-anchor="end" fill="#000">100</text>
<path d="M37.7 71.7h1.5" stroke="#000" stroke-width=".5"/>
<text x="37.50" y="50.83" font-size="3.6" font-weight="bold" text-anchor="end" fill="#000">200</text>
<path d="M37.7 48.7h1.5" stroke="#000" stroke-width=".5"/>
<text x="37.50" y="27.90" font-size="3.6" font-weight="bold" text-anchor="end" fill="#000">300</text>
<path d="M37.7 25.8h1.5" stroke="#000" stroke-width=".5"/>
<text x="60.30" y="103.30" font-size="3.6" font-weight="bold" text-anchor="middle" fill="#000">-10</text>
<path d="M60.3 98.6v1.3" stroke="#000" stroke-width=".5"/>
<text x="82.30" y="103.30" font-size="3.6" font-weight="bold" text-anchor="middle" fill="#000">0</text>
<path d="M82.3 98.6v1.3" stroke="#000" stroke-width=".5"/>
<text x="104.30" y="103.30" font-size="3.6" font-weight="bold" text-anchor="middle" fill="#000">10</text>
<path d="M104.3 98.6v1.3" stroke="#000" stroke-width=".5"/>
<circle cx="130.2" cy="54.3" r=".75" fill="#ff4310"/>
<text x="132.00" y="55.30" font-size="3.2" text-anchor="start" fill="#000">up</text>
<circle cx="130.2" cy="57.6" r=".75" fill="#cfcac0"/>
<text x="132.00" y="58.60" font-size="3.2" text-anchor="start" fill="#000">nosig</text>
<circle cx="130.2" cy="60.9" r=".75" fill="#129a3c"/>
<text x="132.00" y="61.90" font-size="3.2" text-anchor="start" fill="#000">down</text>
<path transform="scale(.5)" d="M409 183h0M424 106h0M419 169h0M426 158h0M426 143h0M408 177h0M420 174h0M425 167h0M421 186h0M416 124h0M427 52h0M388 140h0M424 96h0M425 78h0M427 52h0M410 179h0M418 175h0M429 52h0M409 171h0M422 177h0M422 58h0M392 164h0M429 52h0M393 181h0M428 52h0M430 75h0M402 175h0M428 66h0M422 151h0M405 92h0M416 184h0M408 131h0M421 54h0M425 85h0M427 65h0M405 165h0M426 52h0M414 64h0M418 137h0M424 94h0M400 172h0M423 180h0M415 170h0M424 98h0M406 184h0M428 184h0M418 187h0M419 143h0M404 167h0M424 178h0M400 158h0M425 98h0M419 96h0M409 140h0M414 185h0M426 150h0M406 136h0M400 170h0M419 81h0M415 180h0M424 159h0M422 117h0M426 69h0M411 186h0M427 160h0M429 52h0M426 166h0M419 153h0M409 168h0M427 79h0M420 125h0M422 91h0M416 122h0M412 130h0M427 85h0M420 188h0M430 52h0M426 56h0M425 59h0M427 161h0M426 114h0M425 58h0M426 61h0M417 185h0M425 85h0M418 122h0M423 115h0M419 172h0M430 87h0M417 102h0M419 107h0M426 79h0M423 126h0M411 181h0M417 148h0M415 100h0M430 175h0M395 166h0M428 155h0M421 108h0M416 126h0M422 166h0M426 176h0M417 91h0M400 178h0M408 168h0M429 146h0M407 186h0M414 156h0M414 169h0M421 64h0M421 145h0M429 80h0M405 172h0M403 184h0M416 143h0M421 73h0M418 138h0M428 52h0M408 159h0M413 86h0M427 100h0M425 188h0M426 172h0M419 116h0M399 158h0M405 150h0M423 86h0M428 130h0M426 187h0M406 182h0M426 65h0M424 146h0M428 98h0M422 187h0M429 76h0M410 82h0M417 130h0M427 123h0M416 177h0M423 118h0M423 54h0M423 108h0M409 185h0M402 171h0M391 129h0M411 129h0M415 175h0M423 173h0M425 67h0M411 138h0M416 119h0M426 169h0M408 153h0M389 180h0M426 52h0M391 182h0M413 187h0M385 178h0M412 186h0M423 63h0M427 188h0M428 153h0M420 173h0M415 129h0M429 52h0M419 167h0M419 188h0M416 140h0M395 167h0M421 176h0M426 87h0M429 183h0M423 180h0M425 165h0M405 185h0M415 187h0M424 141h0M429 77h0M422 95h0M422 160h0M429 104h0M417 164h0M411 177h0M420 186h0M426 182h0M424 92h0M426 188h0M421 52h0M427 148h0M421 109h0M418 114h0M410 108h0M418 157h0M424 89h0M425 166h0M426 130h0M404 165h0M410 112h0M429 186h0M427 135h0M419 127h0M429 99h0M429 70h0M416 169h0M390 172h0M394 182h0M421 135h0M427 101h0M403 184h0M396 177h0M424 103h0M399 174h0M415 180h0M422 97h0M425 173h0M428 185h0M413 124h0M378 100h0M423 106h0M429 176h0M424 73h0M413 158h0M411 175h0M398 155h0M405 163h0M404 183h0M402 166h0M425 168h0M408 109h0M385 174h0M416 96h0M404 179h0M422 72h0M421 153h0M388 178h0M398 164h0M414 103h0M419 81h0M418 88h0M417 77h0M418 145h0M412 148h0M413 165h0M421 142h0M429 139h0M428 104h0M423 147h0M417 180h0M424 130h0M419 187h0M420 105h0M416 173h0M414 130h0M409 171h0M429 184h0M399 148h0M414 157h0M421 58h0M381 178h0M412 176h0M398 140h0M424 65h0M422 52h0M423 52h0M418 176h0M412 185h0M422 52h0M428 117h0M421 78h0M388 135h0M409 139h0M399 183h0M416 172h0M421 162h0M428 52h0M414 109h0M398 155h0M425 103h0M408 166h0M409 177h0M408 116h0M414 104h0M428 157h0M418 149h0M406 185h0M407 184h0M421 181h0M368 172h0M412 144h0M408 172h0M429 65h0M415 187h0M404 184h0M428 161h0M410 183h0M407 124h0M423 95h0M427 145h0M423 81h0M406 173h0M429 177h0M413 184h0M429 62h0M423 69h0M423 71h0M415 180h0M412 173h0M425 145h0M426 92h0M420 141h0M413 143h0M403 172h0M386 179h0M401 173h0M424 58h0M422 180h0M422 170h0M409 183h0M403 176h0M423 98h0M430 119h0M427 75h0M415 176h0M426 52h0M426 71h0M429 148h0M410 117h0M429 61h0M409 182h0M407 186h0M423 164h0M423 143h0M429 162h0M393 182h0M429 85h0M427 181h0M425 118h0M429 145h0M399 168h0M428 145h0M406 183h0M425 86h0M423 88h0M405 185h0M394 171h0M417 181h0M427 184h0M419 123h0M408 182h0M423 112h0M417 183h0M405 143h0M399 168h0M424 158h0M428 173h0M425 52h0M419 185h0M393 118h0M399 183h0M397 160h0M414 169h0M430 52h0M426 77h0M412 155h0M423 152h0M425 142h0M418 52h0M424 54h0M390 161h0M429 112h0M405 170h0M429 52h0M412 149h0M423 185h0M412 185h0M414 181h0M426 60h0M422 185h0M427 138h0M411 186h0M422 57h0M428 137h0M401 155h0M429 59h0M396 174h0M429 175h0M398 181h0M399 117h0M415 183h0M427 52h0M413 175h0M416 128h0M405 171h0M420 170h0M424 157h0M398 182h0M413 160h0M421 158h0M423 180h0M424 83h0M422 134h0M417 156h0M424 67h0M403 176h0M383 178h0M422 68h0M418 137h0M425 132h0M415 182h0M400 179h0M405 183h0M420 73h0M427 68h0M428 82h0M427 143h0M427 129h0M403 60h0M415 161h0M413 90h0M425 107h0M425 145h0M424 144h0M419 152h0M419 98h0M400 172h0M422 72h0M420 74h0M408 178h0M427 62h0M426 52h0M370 172h0M425 56h0M421 131h0M413 111h0M429 52h0M420 134h0M424 177h0M418 56h0M424 160h0M421 140h0M421 170h0M416 183h0M423 52h0M424 177h0M421 182h0M427 83h0M401 180h0M426 187h0M418 162h0M426 90h0M419 185h0M428 179h0M423 52h0M416 127h0M410 186h0M418 143h0M428 67h0M406 161h0M410 186h0M419 73h0M420 156h0M420 83h0M412 184h0M429 52h0M408 183h0M422 184h0M410 181h0M413 176h0M411 186h0M406 168h0M429 188h0M419 175h0M426 52h0M426 167h0M398 172h0M404 156h0M419 74h0M426 162h0M425 111h0M408 145h0M415 133h0M404 185h0M405 138h0M403 109h0M413 187h0M418 180h0M430 170h0M415 156h0M418 100h0M430 94h0M412 128h0M406 89h0M395 168h0M420 183h0M424 185h0M413 180h0M418 153h0M423 117h0M383 158h0M419 149h0M405 135h0M426 76h0M427 66h0M392 182h0M423 185h0M427 185h0M421 180h0M414 87h0M425 111h0M419 88h0M410 168h0M427 158h0M416 182h0M407 161h0M415 174h0M409 154h0M395 177h0M418 164h0M428 59h0M420 97h0M406 111h0M416 172h0M424 178h0M421 176h0M429 52h0M414 187h0M406 171h0M425 61h0M428 102h0M413 136h0M422 84h0M428 141h0M426 157h0M428 88h0M407 186h0M421 55h0M407 141h0M416 144h0M418 61h0M428 75h0M399 184h0M416 100h0M417 94h0M421 188h0M426 52h0M421 180h0M422 71h0M426 63h0M427 169h0M417 167h0M421 161h0M424 134h0M418 62h0M426 52h0M393 111h0M427 69h0M428 188h0M413 147h0M414 170h0M427 93h0M408 155h0M414 77h0M418 175h0M402 184h0M422 72h0M406 128h0M424 153h0M383 127h0M404 169h0M409 185h0M425 173h0M426 91h0M423 72h0M385 167h0M414 116h0M391 169h0M419 111h0M426 90h0M418 83h0M420 132h0M428 59h0M409 186h0M428 171h0M428 187h0M410 152h0M425 61h0M405 184h0M421 164h0M430 164h0M421 183h0M424 185h0M426 155h0M421 180h0M417 149h0M419 186h0M429 82h0M412 184h0M427 52h0M421 88h0M413 127h0M416 112h0M417 92h0M427 54h0M420 52h0M414 171h0M415 85h0M405 181h0M417 62h0M414 87h0M416 154h0M422 153h0M401 178h0M426 188h0M428 107h0M427 161h0M424 107h0M428 144h0M413 178h0M413 168h0M425 54h0M428 140h0M400 165h0M429 104h0M424 52h0M429 114h0M425 103h0M392 168h0M424 124h0M429 70h0M417 131h0M408 112h0M416 52h0M399 98h0M420 165h0M413 64h0M426 52h0M380 177h0M422 74h0M425 52h0M409 134h0M411 155h0M427 183h0M408 90h0M420 83h0M425 71h0M406 80h0M423 175h0M423 139h0M422 60h0M387 163h0M411 183h0M429 79h0M414 97h0M425 123h0M427 167h0M412 181h0M428 84h0M425 180h0M423 157h0M423 188h0M389 112h0M424 172h0M422 79h0M420 135h0M429 159h0M423 152h0M424 88h0M414 132h0M413 135h0M412 183h0M427 128h0M429 171h0M423 153h0M429 72h0M422 97h0M423 188h0M420 134h0M427 142h0M423 89h0M425 186h0M425 97h0M403 145h0M422 114h0M419 144h0M421 153h0M386 180h0M416 175h0M419 184h0M425 156h0M422 81h0M424 159h0M429 65h0M412 129h0M412 102h0M412 186h0M420 174h0M415 129h0M418 162h0M410 79h0M422 85h0M420 114h0M409 79h0M409 150h0M429 52h0M397 183h0M429 52h0M429 52h0M428 124h0M427 175h0M425 60h0M428 179h0M419 96h0M384 139h0M408 140h0M383 144h0M421 105h0M419 170h0M399 171h0M426 153h0M411 161h0M411 149h0M422 188h0M423 71h0M413 123h0M425 175h0M427 129h0M407 160h0M417 184h0M427 81h0M424 114h0M421 188h0M427 52h0M423 78h0M420 135h0M427 160h0M426 76h0M427 52h0M410 178h0M412 165h0M410 185h0M413 140h0M408 102h0M421 179h0M427 181h0M418 129h0M422 74h0M420 119h0M423 155h0M390 178h0M412 123h0M411 139h0M405 150h0M428 52h0M413 186h0M387 176h0M429 70h0M424 138h0M417 151h0M427 59h0M426 163h0M399 177h0M426 88h0M418 187h0M425 52h0M412 185h0M411 180h0M417 114h0M426 52h0M426 80h0M395 159h0M428 110h0M428 94h0M430 188h0M404 168h0M419 100h0M417 110h0M428 59h0M427 52h0M419 142h0M422 175h0M424 52h0M425 59h0M426 188h0M426 162h0M425 57h0M416 185h0M420 100h0M407 99h0M413 179h0M426 82h0M419 159h0M411 168h0M420 81h0M418 160h0M420 73h0M421 164h0M402 184h0M429 82h0M429 161h0M424 52h0M409 117h0M425 138h0M422 144h0M419 132h0M419 133h0M420 52h0M410 175h0M395 153h0M425 53h0M411 107h0M410 182h0M417 111h0M429 78h0M401 164h0M402 184h0M412 52h0M408 144h0M429 144h0M424 52h0M425 183h0M422 123h0M411 186h0M429 52h0M410 134h0M429 76h0M414 52h0M417 177h0M403 92h0M392 182h0M416 121h0M428 186h0M421 185h0M415 171h0M426 102h0M428 167h0M422 185h0M415 119h0M422 153h0M425 146h0M422 186h0M408 133h0M428 52h0M426 169h0M425 149h0M417 64h0M414 116h0M411 185h0M425 119h0M422 81h0M422 76h0M427 61h0M420 70h0M427 179h0M426 52h0M410 122h0M418 64h0M418 123h0M423 119h0M423 168h0M426 52h0M421 115h0M425 179h0M414 129h0M386 172h0M422 94h0M422 169h0M422 108h0M406 178h0M425 81h0M428 144h0M425 82h0M428 90h0M417 150h0M426 183h0M429 146h0M410 177h0M398 179h0M407 149h0M430 53h0M404 174h0M408 115h0M419 166h0M410 130h0M404 155h0M421 170h0M411 176h0M426 52h0M423 158h0M429 127h0M423 78h0M410 83h0M419 167h0M377 176h0M425 145h0M426 52h0M430 69h0M428 57h0M413 178h0M413 159h0M418 86h0M429 140h0M396 182h0M429 177h0M414 185h0M426 52h0M418 108h0M426 62h0M388 180h0M406 186h0M420 182h0M417 177h0M428 180h0M425 172h0M419 110h0M419 167h0M421 174h0M426 78h0M415 149h0M424 73h0M422 106h0M429 87h0M422 119h0M411 164h0M424 188h0M425 76h0M414 187h0M397 101h0M425 52h0M421 153h0M418 78h0M423 181h0M414 101h0M427 131h0M429 78h0M429 145h0M403 167h0M424 152h0M419 169h0M417 114h0M415 146h0M411 106h0M422 187h0M394 176h0M429 186h0M414 62h0M396 183h0M413 187h0M429 52h0M426 116h0M417 162h0M420 127h0M420 150h0M428 102h0M421 156h0M413 144h0M406 119h0M410 182h0M419 187h0M426 57h0M425 52h0M422 175h0M425 181h0M423 183h0M421 188h0M427 187h0M377 158h0M412 160h0M412 77h0M406 140h0M420 97h0M413 176h0M411 85h0M427 187h0M385 178h0M428 174h0M424 52h0M409 183h0M417 133h0M423 187h0M418 104h0M427 52h0M413 158h0M419 136h0M415 119h0M420 84h0M410 162h0M418 187h0M416 52h0M424 183h0M415 187h0M425 184h0M427 144h0M428 64h0M408 118h0M427 157h0M429 163h0M414 143h0M417 141h0M425 157h0M369 171h0M427 52h0M426 85h0M426 62h0M413 183h0M420 165h0M424 52h0M420 183h0M409 131h0M425 170h0M424 129h0M381 178h0M424 136h0M418 128h0M430 113h0M382 174h0M429 73h0M398 153h0M415 72h0M427 116h0M393 173h0M420 168h0M396 172h0M423 87h0M413 154h0M428 185h0M411 159h0M419 98h0M410 109h0M403 152h0M410 162h0M428 171h0M429 113h0M429 53h0M424 161h0M425 188h0M401 101h0M424 121h0M424 174h0M425 183h0M414 182h0M413 134h0M429 186h0M418 170h0M428 164h0M429 186h0M394 104h0M427 166h0M413 142h0M421 176h0M417 116h0M420 83h0M425 143h0M407 143h0M420 158h0M415 79h0M383 178h0M423 133h0M417 156h0M420 182h0M406 176h0M411 149h0M422 136h0M414 184h0M430 135h0M410 136h0M416 150h0M404 179h0M412 161h0M414 106h0M427 54h0M428 75h0M428 100h0M424 72h0M424 153h0M405 128h0M421 110h0M429 185h0M399 138h0M418 176h0M411 123h0M414 119h0M400 184h0M427 180h0M423 118h0M429 126h0M426 88h0M415 146h0M428 98h0M421 188h0M429 178h0M406 180h0M415 118h0M390 98h0M415 181h0M428 60h0M407 185h0M428 76h0M419 108h0M372 172h0M413 147h0M418 141h0M418 93h0M429 153h0M427 52h0M378 160h0M406 135h0M418 151h0M428 76h0M420 110h0M414 187h0M422 162h0M411 158h0M400 152h0M391 52h0M416 183h0M420 175h0M387 179h0M410 186h0M424 94h0M415 101h0M422 131h0M398 168h0M428 177h0M427 52h0M426 66h0M405 173h0M389 178h0M427 52h0M419 54h0M416 88h0M392 172h0M429 179h0M413 85h0M387 127h0M415 73h0M428 164h0M392 144h0M400 182h0M421 156h0M416 120h0M429 184h0M392 182h0M406 179h0M425 154h0M416 179h0M413 97h0M409 179h0M428 127h0M392 173h0M429 178h0M425 181h0M407 157h0M414 122h0M416 127h0M413 173h0M406 180h0M419 79h0M422 101h0M416 160h0M405 183h0M412 160h0M417 109h0M420 107h0M412 178h0M429 123h0M420 178h0M412 122h0M430 180h0M405 109h0M425 155h0M429 89h0M409 155h0M428 65h0M414 119h0M386 161h0M412 173h0M417 126h0M413 166h0M429 61h0M422 169h0M378 174h0M404 154h0M392 163h0M423 149h0M409 134h0M416 76h0M416 111h0M422 52h0M427 121h0M403 185h0M412 175h0M418 111h0M426 160h0M423 179h0M417 182h0M407 160h0M429 168h0M414 93h0M428 122h0M371 173h0M429 60h0M428 99h0M428 136h0M426 67h0M418 184h0M422 160h0M402 168h0M427 111h0M395 178h0M415 163h0M426 183h0M420 175h0M388 177h0M415 126h0M426 61h0M389 162h0M417 90h0M426 177h0M401 181h0M423 104h0M425 143h0M401 161h0M423 76h0M406 140h0M421 153h0M428 91h0M428 171h0M417 65h0M419 93h0M429 188h0M426 63h0M428 157h0M416 146h0M422 156h0M412 121h0M401 104h0M422 76h0M403 93h0M422 181h0M427 73h0M405 185h0M422 105h0M423 169h0M410 132h0M420 165h0M426 73h0M425 170h0M424 91h0M420 94h0M417 183h0M427 126h0M429 52h0M409 135h0M381 173h0M408 152h0M418 130h0M397 167h0M422 147h0M410 134h0M395 181h0M429 174h0M426 183h0M425 171h0M430 153h0M421 92h0M420 125h0M417 90h0M409 139h0M424 186h0M406 174h0M422 119h0M423 72h0M428 157h0M409 179h0M429 66h0M427 90h0M406 153h0M426 164h0M426 177h0M425 185h0M417 72h0M406 166h0M430 66h0M428 171h0M428 52h0M421 135h0M425 153h0M397 152h0M428 169h0M428 67h0M427 79h0M429 104h0M400 121h0M429 174h0M422 153h0M429 119h0M418 180h0M422 148h0M420 163h0M385 178h0M421 98h0M409 171h0M424 173h0M416 180h0M422 176h0M394 178h0M405 111h0M406 146h0M416 162h0M406 181h0M417 179h0M381 177h0M400 160h0M406 170h0M423 178h0M399 113h0M406 120h0M424 156h0M424 72h0M427 68h0M422 84h0M425 52h0M413 116h0M427 170h0M421 101h0M425 78h0M383 177h0M423 154h0M400 171h0M388 178h0M422 74h0M423 187h0M423 168h0M413 174h0M419 186h0M423 184h0M407 137h0M413 159h0M429 61h0M427 74h0M417 66h0M404 185h0M424 97h0M422 61h0M424 52h0M416 75h0M392 152h0M423 52h0M428 162h0M384 172h0M427 123h0M424 168h0M427 60h0M422 176h0M399 161h0M424 52h0M430 108h0M414 110h0M424 97h0M429 185h0M403 95h0M419 61h0M423 52h0M428 102h0M373 170h0M427 52h0M430 52h0M413 149h0M424 52h0M413 163h0M414 178h0M418 138h0M410 164h0M420 186h0M426 79h0M426 52h0M417 94h0M423 183h0M428 52h0M415 175h0M421 62h0M429 101h0M410 185h0M408 122h0M419 67h0M427 182h0M416 67h0M427 78h0M425 146h0M427 103h0M423 182h0M428 181h0M424 171h0M422 170h0M397 177h0M425 178h0M427 54h0M414 153h0M429 158h0M419 67h0M428 185h0M418 181h0M425 159h0M414 166h0M429 128h0M430 71h0M428 134h0M427 133h0M428 112h0M411 187h0M423 52h0M417 141h0M415 187h0M424 64h0M385 150h0M422 175h0M391 141h0M428 52h0M422 185h0M420 184h0M412 179h0M405 148h0M417 175h0M414 66h0M412 171h0M407 117h0M412 117h0M423 185h0M422 112h0M420 157h0M418 144h0M422 162h0M424 122h0M421 140h0M426 151h0M412 175h0M414 182h0M429 52h0M427 171h0M402 174h0M422 184h0M426 136h0M427 74h0M398 76h0M429 188h0M429 183h0M384 178h0M409 176h0M427 170h0M422 58h0M393 182h0M429 118h0M413 109h0M418 172h0M411 171h0M422 166h0M422 108h0M418 183h0M389 169h0M430 105h0M411 187h0M414 98h0M423 187h0M418 184h0M415 69h0M408 182h0M410 186h0M423 91h0M424 99h0M411 179h0M400 178h0M426 179h0M427 52h0M422 61h0M421 182h0M429 92h0M414 186h0M413 141h0M429 166h0M409 140h0M428 186h0M425 66h0M426 175h0M392 180h0M418 183h0M421 167h0M422 162h0M414 168h0M417 174h0M394 140h0M422 94h0M403 185h0M427 63h0M403 149h0M408 134h0M400 182h0M419 102h0M394 183h0M417 78h0" stroke="#129a3c" stroke-width="2.1" stroke-linecap="round" fill="none"/>
<polygon points="214.8,25.8 211.5,25.8 199.0,92.8 199.9,94.3 214.8,94.3" fill="#129a3c" opacity="0.55"/>
<path d="M214.8 25.8H204.9" stroke="#129a3c" stroke-width="1.1" fill="none"/>
<path d="M204.9 25.8H191.3" stroke="#129a3c" stroke-width="1.0" stroke-dasharray="1.1 1.5" fill="none"/>
<path transform="scale(.5)" d="M444 67h0M451 187h0M449 187h0M450 149h0M455 174h0M440 69h0M445 188h0M448 179h0M450 154h0M443 184h0M469 159h0M462 179h0M477 179h0M468 106h0M459 178h0M442 74h0M458 67h0M450 132h0M444 53h0M447 118h0M465 185h0M461 180h0M455 182h0M458 145h0M441 167h0M442 75h0M458 181h0M444 144h0M443 52h0M439 79h0M440 52h0M466 181h0M442 104h0M446 76h0M444 110h0M441 116h0M490 109h0M449 66h0M456 178h0M440 82h0M443 87h0M448 91h0M459 176h0M439 182h0M449 98h0M440 105h0M447 163h0M442 84h0M448 167h0M464 180h0M473 146h0M446 144h0M444 52h0M450 80h0M445 168h0M469 155h0M440 126h0M446 161h0M449 84h0M466 160h0M443 176h0M443 52h0M461 185h0M483 179h0M442 123h0M441 173h0M448 73h0M443 53h0M444 177h0M448 182h0M467 152h0M453 165h0M452 176h0M458 159h0M452 162h0M447 185h0M451 66h0M450 69h0M455 133h0M457 158h0M459 184h0M447 181h0M478 171h0M458 146h0M441 151h0M453 92h0M469 167h0M439 141h0M454 166h0M446 170h0M455 178h0M441 109h0M442 151h0M455 103h0M442 146h0M445 141h0M440 90h0M442 66h0M439 109h0M444 80h0M440 172h0M451 187h0M454 124h0M458 184h0M476 108h0M452 69h0M449 122h0M445 85h0M444 188h0M465 163h0M486 178h0M463 156h0M440 52h0M454 130h0M457 122h0M442 144h0M444 75h0M448 187h0M448 129h0M468 175h0M455 110h0M452 55h0M482 180h0M442 52h0M484 178h0M442 78h0M449 182h0M444 97h0M442 97h0M465 185h0M462 146h0M451 152h0M461 180h0M463 161h0M464 154h0M441 181h0M459 114h0M454 170h0M457 107h0M458 112h0M447 166h0M460 178h0M440 187h0M448 140h0M446 188h0M444 161h0M445 187h0M474 166h0M452 112h0M450 116h0M449 81h0M441 106h0M459 185h0M447 86h0M448 98h0M449 185h0M446 116h0M439 98h0M441 64h0M456 111h0M459 166h0M448 177h0M450 82h0M441 83h0M440 101h0M442 188h0M439 52h0M456 187h0M439 54h0M441 52h0M464 133h0M473 183h0M444 185h0M446 172h0M445 53h0M485 177h0M448 139h0M443 149h0M439 117h0M451 138h0M453 146h0M441 73h0M441 64h0M439 150h0M439 174h0M454 122h0M460 176h0M457 167h0M466 157h0M446 120h0M445 144h0M453 170h0M473 167h0M441 59h0M440 180h0M449 150h0M480 161h0M447 163h0M447 52h0M444 187h0M457 172h0M466 121h0M440 73h0M448 137h0M439 133h0M466 77h0M475 141h0M449 184h0M439 138h0M442 52h0M459 150h0M448 140h0M450 75h0M450 99h0M445 110h0M443 178h0M469 179h0M446 168h0M462 185h0M446 124h0M443 151h0M447 148h0M449 151h0M472 162h0M448 110h0M446 173h0M463 117h0M458 134h0M445 52h0M457 168h0M445 133h0M445 64h0M448 183h0M445 136h0M444 103h0M443 181h0M448 66h0M457 168h0M439 84h0M449 90h0M439 52h0M450 111h0M457 168h0M451 182h0M445 185h0M456 160h0M442 187h0M446 155h0M485 177h0M442 74h0M462 181h0M450 52h0M441 143h0M449 133h0M451 172h0M440 164h0M445 161h0M443 162h0M461 183h0M454 186h0M462 145h0M442 103h0M459 158h0M445 52h0M440 177h0M455 140h0M449 185h0M482 180h0M440 171h0M470 149h0M443 88h0M446 174h0M444 142h0M439 184h0M442 69h0M466 181h0M450 89h0M442 166h0M447 174h0M444 110h0M449 81h0M448 122h0M457 176h0M456 121h0M459 105h0M450 187h0M452 172h0M446 85h0M446 109h0M465 183h0M441 115h0M453 177h0M446 68h0M447 58h0M471 52h0M439 106h0M451 160h0M448 179h0M440 171h0M488 158h0M445 171h0M443 171h0M439 165h0M447 146h0M446 183h0M445 165h0M450 87h0M448 67h0M448 186h0M444 154h0M469 175h0M445 63h0M443 175h0M443 81h0M450 149h0M443 52h0M441 81h0M455 77h0M443 126h0M441 52h0M447 158h0M450 178h0M442 74h0M446 69h0M448 184h0M444 168h0M452 167h0M446 137h0M450 117h0M446 168h0M451 52h0M450 187h0M447 158h0M440 116h0M451 87h0M458 144h0M445 52h0M447 182h0M449 87h0M456 187h0M482 140h0M441 126h0M477 182h0M441 58h0M442 147h0M442 107h0M444 60h0M463 177h0M456 154h0M469 183h0M462 185h0M452 126h0M441 84h0M447 149h0M445 95h0M459 186h0M455 137h0M450 174h0M444 56h0M453 169h0M440 183h0M440 52h0M443 76h0M443 76h0M453 70h0M468 167h0M450 164h0M439 54h0M453 104h0M476 171h0M463 160h0M441 52h0M445 171h0M444 160h0M447 178h0M444 52h0M448 182h0M440 72h0M451 185h0M473 176h0M448 176h0M440 52h0M449 108h0M451 185h0M445 187h0M439 92h0M451 112h0M441 100h0M458 176h0M451 149h0M452 85h0M454 78h0M443 179h0M449 56h0M455 72h0M456 150h0M440 153h0M446 187h0M440 176h0M471 137h0M441 57h0M453 161h0M443 151h0M454 154h0M449 126h0M448 171h0M443 52h0M459 175h0M449 164h0M440 111h0M444 143h0M447 148h0M459 165h0M457 86h0M482 159h0M481 160h0M442 167h0M466 180h0M445 170h0M451 97h0M449 180h0M448 160h0M440 112h0M454 179h0M440 163h0M461 175h0M443 88h0M454 186h0M441 184h0M453 52h0M448 83h0M441 52h0M444 173h0M451 179h0M447 71h0M482 180h0M448 102h0M445 141h0M440 52h0M455 52h0M446 109h0M441 172h0M465 163h0M445 159h0M440 171h0M449 162h0M449 127h0M447 180h0M459 130h0M442 183h0M441 178h0M465 158h0M445 146h0M451 102h0M444 118h0M461 177h0M445 145h0M477 154h0M456 165h0M450 77h0M471 163h0M444 184h0M456 179h0M477 55h0M446 182h0M447 160h0M442 110h0M443 116h0M447 111h0M441 65h0M443 182h0M448 186h0M470 182h0M448 127h0M456 185h0M452 125h0M441 183h0M444 71h0M456 175h0M441 182h0M450 81h0M446 77h0M460 88h0M455 151h0M442 112h0M468 178h0M459 63h0M467 184h0M449 187h0M457 161h0M447 144h0M453 148h0M444 76h0M445 140h0M469 150h0M486 164h0M446 108h0M455 134h0M448 168h0M444 123h0M442 139h0M453 81h0M448 52h0M469 170h0M453 185h0M453 125h0M459 68h0M457 175h0M442 133h0M443 52h0M445 161h0M442 62h0M440 186h0M468 180h0M448 98h0M458 185h0M446 180h0M445 181h0M448 79h0M460 166h0M451 52h0M446 108h0M443 63h0M449 181h0M462 148h0M463 145h0M469 102h0M450 54h0M454 52h0M455 151h0M440 85h0M470 184h0M455 185h0M440 172h0M445 162h0M446 183h0M452 167h0M451 76h0M451 164h0M456 132h0M450 124h0M440 52h0M470 111h0M443 82h0M452 131h0M451 145h0M456 133h0M457 168h0M442 161h0M450 187h0M450 59h0M444 182h0M477 172h0M441 177h0M441 142h0M448 175h0M442 58h0M440 52h0M471 138h0M473 183h0M469 173h0M447 187h0M449 136h0M448 151h0M445 69h0M452 181h0M461 168h0M455 159h0M474 179h0M440 181h0M453 116h0M461 178h0M443 131h0M449 174h0M440 85h0M461 101h0M440 129h0M473 183h0M452 185h0M445 74h0M442 147h0M449 177h0M442 159h0M444 57h0M442 184h0M451 158h0M461 180h0M461 141h0M463 114h0M465 183h0M460 114h0M440 59h0M446 111h0M439 187h0M439 73h0M450 171h0M439 60h0M443 66h0M441 67h0M454 171h0M452 167h0M452 148h0M446 157h0M457 135h0M447 123h0M442 85h0M448 52h0M439 153h0M451 165h0M441 69h0M452 153h0M442 88h0M459 140h0M444 52h0M450 166h0M459 168h0M446 119h0M446 184h0M444 52h0M445 145h0M446 155h0M454 147h0M464 176h0M499 172h0M461 160h0M459 141h0M455 153h0M468 118h0M445 188h0M441 162h0M442 63h0M484 169h0M452 102h0M452 179h0M442 161h0M466 183h0M448 158h0M440 125h0M451 172h0M441 188h0M473 164h0M449 178h0M444 52h0M449 147h0M459 165h0M467 138h0M451 166h0M460 169h0M451 183h0M462 185h0M443 70h0M455 165h0M474 159h0M447 184h0M447 52h0M447 52h0M445 188h0M452 116h0M459 166h0M446 57h0M460 172h0M440 176h0M450 161h0M444 63h0M445 52h0M473 181h0M439 109h0M449 179h0M447 172h0M447 81h0M441 159h0M466 174h0M451 178h0M444 112h0M453 167h0M448 57h0M447 188h0M453 174h0M442 112h0M446 176h0M444 74h0M457 187h0M445 188h0M446 100h0M446 162h0M462 153h0M448 182h0M466 183h0M472 163h0M470 183h0M456 182h0M452 168h0M443 103h0M462 172h0M444 52h0M450 137h0M444 154h0M445 146h0M454 171h0M478 180h0M447 52h0M450 167h0M446 181h0M458 177h0M448 168h0M444 62h0M445 172h0M446 187h0M444 117h0M477 145h0M443 93h0M446 52h0M468 122h0M442 126h0M439 164h0M445 181h0M452 109h0M444 57h0M455 144h0M446 180h0M477 157h0M477 179h0M441 131h0M442 170h0M450 109h0M444 52h0M460 138h0M477 145h0M445 182h0M455 143h0M468 163h0M460 121h0M439 92h0M447 147h0M458 178h0M448 149h0M443 56h0M454 155h0M439 126h0M453 176h0M444 69h0M442 55h0M446 159h0M445 188h0M487 176h0M449 113h0M442 170h0M456 185h0M449 92h0M455 187h0M449 180h0M445 172h0M441 176h0M463 184h0M441 64h0M452 126h0M443 54h0M444 179h0M442 110h0M444 180h0M463 163h0M461 184h0M444 86h0M450 175h0M457 150h0M442 145h0M441 169h0M442 162h0M440 188h0M443 136h0M473 159h0M443 136h0M440 161h0M454 165h0M447 183h0M444 184h0M506 167h0M441 183h0M456 154h0M446 187h0M457 184h0M454 59h0M440 83h0M452 183h0M461 180h0M445 86h0M459 125h0M442 167h0M471 163h0M447 188h0M449 162h0M445 128h0M495 172h0M473 147h0M445 77h0M463 84h0M442 180h0M443 95h0M447 117h0M439 107h0M460 146h0M441 73h0M442 144h0M452 153h0M448 181h0M442 103h0M446 91h0M441 171h0M442 98h0M446 126h0M450 52h0M456 134h0M477 180h0M457 108h0M446 167h0M446 75h0M440 142h0M449 159h0M440 188h0M445 84h0M471 151h0M440 52h0M444 180h0M480 173h0M439 88h0M443 78h0M455 104h0M451 182h0M441 174h0M440 133h0M439 69h0M452 141h0M446 172h0M448 52h0M441 165h0M444 54h0M450 187h0M465 169h0M462 176h0M445 186h0M441 87h0M441 127h0M468 181h0M454 87h0M450 186h0M442 71h0M459 149h0M456 87h0M441 132h0M451 105h0M469 182h0M443 53h0M444 158h0M444 127h0M445 151h0M442 94h0M448 154h0M454 119h0M442 106h0M449 178h0M484 179h0M462 171h0M456 130h0M452 187h0M444 183h0M450 52h0M450 88h0M448 175h0M444 83h0M454 128h0M468 165h0M460 149h0M450 187h0M467 163h0M443 70h0M441 121h0M444 76h0M457 179h0M448 94h0M444 180h0M459 116h0M441 126h0M441 66h0M440 131h0M443 52h0M462 139h0M460 130h0M452 103h0M451 159h0M454 136h0M441 89h0M443 81h0M478 173h0M440 134h0M472 176h0M446 67h0M459 135h0M470 171h0M457 101h0M474 164h0M459 177h0M442 82h0M440 118h0M473 176h0M448 178h0M461 141h0M452 101h0M457 159h0M446 154h0M439 183h0M439 143h0M444 142h0M442 158h0M447 157h0M442 161h0M462 176h0M449 183h0M440 167h0M442 140h0M444 164h0M442 128h0M441 133h0M456 132h0M443 125h0M482 180h0M440 52h0M444 57h0M451 135h0M461 186h0M446 105h0M445 153h0M442 180h0M444 164h0M500 168h0M445 61h0M449 62h0M457 168h0M442 160h0M458 153h0M463 156h0M456 145h0M454 112h0M455 161h0M447 145h0M450 128h0M453 126h0M444 171h0M450 72h0M471 159h0M440 188h0M453 186h0M457 98h0M441 175h0M444 52h0M468 167h0M440 187h0M452 96h0M452 168h0M442 52h0M444 115h0M447 137h0M452 106h0M458 185h0M440 68h0M451 77h0M446 98h0M467 175h0M443 168h0M453 114h0M446 187h0M469 180h0M443 132h0M456 173h0M442 186h0M439 170h0M455 186h0M448 181h0M442 164h0M455 116h0M464 136h0M447 117h0M462 139h0M449 126h0M446 77h0M457 121h0M466 172h0M447 85h0M470 183h0M439 52h0M460 186h0M452 86h0M489 173h0M441 132h0M445 86h0M448 188h0M442 81h0M455 151h0M451 96h0M443 151h0M452 72h0M445 185h0M454 92h0M440 169h0M443 130h0M441 61h0M446 84h0M448 157h0M467 184h0M449 137h0M466 175h0M458 182h0M445 116h0M452 173h0M482 174h0M448 62h0M449 180h0M448 184h0M447 62h0M445 171h0M458 69h0M442 177h0M441 180h0M441 57h0M454 170h0M440 134h0M443 84h0M454 174h0M462 186h0M463 184h0M441 127h0M445 187h0M456 187h0M442 52h0M445 183h0M440 168h0M447 108h0M446 163h0M453 120h0M463 142h0M456 150h0M457 173h0M441 175h0M448 68h0M442 133h0M468 174h0M446 156h0M439 97h0M442 152h0M446 181h0M474 179h0M469 160h0M474 175h0M461 164h0M464 159h0M459 134h0M443 165h0M450 138h0M458 117h0M446 181h0M475 180h0M473 176h0M443 63h0M458 172h0M454 167h0M441 102h0M454 172h0M442 83h0M442 86h0M450 88h0M440 115h0M445 132h0M453 126h0M439 52h0M446 93h0M446 186h0M458 117h0M457 168h0M475 180h0M467 161h0M478 178h0M448 104h0M441 124h0M451 153h0M457 185h0M441 52h0M462 183h0M479 170h0M445 184h0M441 52h0M474 175h0M464 100h0M467 183h0M445 137h0M440 142h0M450 179h0M452 151h0M461 175h0M465 175h0M444 57h0M449 163h0M443 67h0M443 132h0M446 142h0M461 177h0M440 52h0M461 186h0M474 182h0M459 76h0M440 158h0M451 170h0M459 75h0M441 188h0M441 55h0M442 178h0M454 185h0M501 75h0M455 143h0M448 144h0M439 120h0M448 95h0M467 133h0M471 162h0M461 74h0M441 90h0M454 68h0M443 78h0M449 95h0M449 175h0M452 165h0M460 52h0M454 151h0M488 176h0M450 185h0M442 52h0M452 132h0M449 134h0M446 56h0M464 177h0M442 55h0M455 187h0M442 52h0M465 155h0M450 159h0M448 178h0M456 156h0M459 185h0M439 52h0M476 175h0M441 67h0M469 179h0M440 67h0M471 173h0M441 187h0M460 154h0M446 143h0M458 181h0M464 154h0M442 174h0M442 146h0M447 186h0M446 52h0M440 174h0M441 187h0M443 119h0M439 135h0M442 74h0M440 173h0M459 181h0M440 166h0M457 171h0M446 186h0M445 181h0M462 136h0M456 117h0M457 139h0M451 182h0M445 64h0M447 63h0M445 165h0M450 188h0M449 178h0M442 120h0M440 88h0M439 52h0M440 152h0M448 90h0M446 157h0M455 153h0M484 178h0M481 52h0M446 179h0M463 148h0M467 176h0M457 165h0M439 135h0M468 163h0M439 52h0M450 117h0M448 56h0M452 168h0M441 174h0M444 146h0M459 177h0M470 184h0M445 150h0M441 188h0M478 165h0M482 101h0M444 142h0M443 174h0M453 52h0M439 66h0M482 179h0M440 174h0M466 184h0M443 52h0M471 164h0M453 170h0M440 120h0M472 178h0M445 52h0M441 66h0M439 59h0M439 82h0M467 181h0M443 182h0M440 102h0M448 184h0M449 186h0M458 135h0M445 52h0M442 172h0M447 141h0M443 150h0M453 175h0M441 160h0M464 183h0M452 158h0M441 91h0M444 143h0M447 160h0M454 140h0M442 80h0M465 181h0M448 182h0M445 158h0M448 115h0M446 57h0M480 176h0M451 180h0M440 52h0M464 175h0M444 95h0M456 177h0M440 116h0M442 185h0M442 171h0M461 164h0M454 89h0M444 102h0M454 110h0M452 159h0M440 52h0M443 52h0M441 52h0M460 149h0M449 163h0M441 59h0M489 177h0M439 166h0M443 146h0M439 123h0M439 52h0M462 124h0M490 175h0M451 82h0M450 188h0M445 131h0M454 161h0M446 128h0M461 184h0M471 145h0M462 160h0M442 182h0M443 52h0M466 123h0M449 152h0M470 184h0M442 152h0M455 52h0M448 100h0M463 106h0M451 111h0M453 139h0M452 117h0M459 171h0M450 152h0M472 158h0M464 179h0M445 160h0M454 177h0M448 188h0M441 52h0M444 175h0M465 185h0M447 145h0M442 127h0M439 81h0M448 181h0M460 186h0M456 183h0M447 66h0M448 166h0M450 155h0M440 188h0M440 75h0M445 81h0M459 67h0M439 185h0M443 102h0M463 144h0M447 119h0M443 129h0M439 55h0M457 165h0M460 175h0M441 140h0M451 185h0M444 55h0M454 172h0M443 148h0M473 183h0M449 180h0M453 186h0M475 181h0M462 185h0M465 120h0M442 177h0M487 176h0M472 116h0M443 171h0M451 179h0M450 144h0M494 172h0M493 172h0M443 182h0M455 170h0M449 174h0M466 92h0M450 82h0M452 184h0M462 72h0M453 182h0M445 168h0M441 92h0M446 84h0M441 170h0M461 144h0M442 161h0M440 184h0M456 183h0M448 183h0M453 141h0M445 126h0M455 147h0M477 176h0M442 133h0M442 52h0M471 183h0M444 52h0M440 189h0M451 139h0M440 159h0M439 52h0M446 90h0M460 140h0M440 166h0M483 179h0M440 170h0M456 152h0M449 164h0M455 176h0M455 165h0M441 172h0M463 119h0M442 184h0M440 85h0M480 176h0M446 170h0M439 168h0M447 96h0M449 76h0M458 177h0M440 78h0M447 52h0M456 98h0M454 141h0M445 163h0M466 174h0M451 98h0M451 76h0M455 181h0M465 157h0M455 108h0M485 178h0M454 174h0M441 108h0M446 145h0M449 157h0M449 95h0M439 124h0M449 164h0M446 180h0M442 188h0M468 183h0M470 145h0M449 182h0M439 129h0M452 184h0M443 136h0M453 180h0M441 73h0M446 87h0M451 169h0M466 105h0M442 69h0M439 131h0M447 172h0M451 120h0M469 164h0M476 180h0M447 146h0M452 147h0M471 157h0M445 188h0M450 187h0M462 142h0M456 165h0M443 52h0M440 188h0M444 166h0M454 174h0M441 78h0M447 132h0M443 98h0M446 55h0M445 111h0M449 154h0M452 89h0M451 94h0M455 169h0M440 177h0M445 74h0M461 120h0M449 74h0M450 65h0M444 62h0M442 186h0M472 113h0M440 188h0M443 52h0M464 181h0M448 69h0M455 151h0M485 176h0M459 177h0M442 128h0M449 133h0M447 77h0M445 145h0M455 183h0M448 56h0M451 144h0M463 184h0M453 52h0M440 91h0M450 181h0M467 143h0M453 123h0M442 103h0M440 131h0M452 168h0M447 63h0M449 52h0M472 80h0M449 140h0M450 120h0M458 185h0M439 160h0M474 183h0M440 89h0M444 130h0M448 73h0M441 74h0M445 115h0M452 69h0M441 89h0M451 187h0M451 81h0M444 154h0" stroke="#ff4310" stroke-width="2.1" stroke-linecap="round" fill="none"/>
<polygon points="219.4,25.8 223.7,25.8 234.3,92.8 233.4,94.3 219.4,94.3" fill="#ff4310" opacity="0.55"/>
<path d="M219.4 25.8H229.5" stroke="#ff4310" stroke-width="1.1" fill="none"/>
<path d="M229.5 25.8H244.2" stroke="#ff4310" stroke-width="1.0" stroke-dasharray="1.1 1.5" fill="none"/>
<rect x="214.8" y="82.3" width="4.5" height="12" fill="#d8d4cc"/>
<path d="M174.3 94.3H261.1" stroke="#000" stroke-width="1.25"  stroke-dasharray="6.8 4.7" fill="none"/>
<path d="M214.8 14.6V98.6M219.4 14.6V98.6" stroke="#000" stroke-width="1.25" stroke-dasharray="4.5 1.5" fill="none"/>
<rect x="174.3" y="14.6" width="86.8" height="84.0" fill="none" stroke="#000" stroke-width="1.3"/>
<text x="217.40" y="11.20" font-size="5.0" font-weight="bold" text-anchor="middle" fill="#000">T1_vs_T2</text>
<text x="218.10" y="109.00" font-size="5.0" font-weight="bold" text-anchor="middle" fill="#000">log2(FC)</text>
<text x="163.60" y="56.60" font-size="4.8" font-weight="bold" text-anchor="middle" fill="#000" transform="rotate(-90 163.60 56.60)">-log10(FDR)</text>
<text x="172.60" y="96.70" font-size="3.6" font-weight="bold" text-anchor="end" fill="#000">0</text>
<path d="M172.8 94.6h1.5" stroke="#000" stroke-width=".5"/>
<text x="172.60" y="73.77" font-size="3.6" font-weight="bold" text-anchor="end" fill="#000">100</text>
<path d="M172.8 71.7h1.5" stroke="#000" stroke-width=".5"/>
<text x="172.60" y="50.83" font-size="3.6" font-weight="bold" text-anchor="end" fill="#000">200</text>
<path d="M172.8 48.7h1.5" stroke="#000" stroke-width=".5"/>
<text x="172.60" y="27.90" font-size="3.6" font-weight="bold" text-anchor="end" fill="#000">300</text>
<path d="M172.8 25.8h1.5" stroke="#000" stroke-width=".5"/>
<text x="194.50" y="103.30" font-size="3.6" font-weight="bold" text-anchor="middle" fill="#000">-10</text>
<path d="M194.5 98.6v1.3" stroke="#000" stroke-width=".5"/>
<text x="217.10" y="103.30" font-size="3.6" font-weight="bold" text-anchor="middle" fill="#000">0</text>
<path d="M217.1 98.6v1.3" stroke="#000" stroke-width=".5"/>
<text x="239.70" y="103.30" font-size="3.6" font-weight="bold" text-anchor="middle" fill="#000">10</text>
<path d="M239.7 98.6v1.3" stroke="#000" stroke-width=".5"/>
<circle cx="265.6" cy="54.3" r=".75" fill="#ff4310"/>
<text x="267.40" y="55.30" font-size="3.2" text-anchor="start" fill="#000">up</text>
<circle cx="265.6" cy="57.6" r=".75" fill="#cfcac0"/>
<text x="267.40" y="58.60" font-size="3.2" text-anchor="start" fill="#000">nosig</text>
<circle cx="265.6" cy="60.9" r=".75" fill="#129a3c"/>
<text x="267.40" y="61.90" font-size="3.2" text-anchor="start" fill="#000">down</text>
<circle cx="121.2" cy="185.8" r="54.4" fill="#afe0c4"/>
<circle cx="177.3" cy="186.1" r="54.7" fill="#ffb0b0"/>
<clipPath id="clip121_185"><circle cx="121.2" cy="185.8" r="54.4"/></clipPath>
<circle cx="177.3" cy="186.1" r="54.7" fill="#c9997f" clip-path="url(#clip121_185)"/>
<circle cx="121.2" cy="185.8" r="54.4" fill="none" stroke="#000" stroke-width="1.3"/>
<circle cx="177.3" cy="186.1" r="54.7" fill="none" stroke="#000" stroke-width="1.3"/>
<path d="M149.21 139.16A54.7 54.7 0 1 1 148.71 232.73A54.4 54.4 0 0 0 149.21 139.16Z" fill="none" stroke="#45282a" stroke-width="4.7" stroke-linejoin="round"/>
<text x="121.50" y="126.20" font-size="8" font-weight="bold" text-anchor="middle" fill="#000">D1_vs_D2</text>
<text x="179.50" y="126.20" font-size="8" font-weight="bold" text-anchor="middle" fill="#000">T1_vs_T2</text>
<text x="96.00" y="188.80" font-size="7.7" text-anchor="middle" fill="#000">3084</text>
<text x="151.20" y="188.80" font-size="7.7" text-anchor="middle" fill="#000">8552</text>
<text x="205.60" y="188.80" font-size="7.7" font-weight="bold" text-anchor="middle" fill="#000">2357</text>
<path d="M82.2 111.9V123.2H96.8" stroke="#000" stroke-width="1.6" fill="none"/>
<path d="M218.3 111.9V123.2H202.7" stroke="#000" stroke-width="1.6" fill="none"/>
<path d="M206.4 177V163.9H236.6" stroke="#000" stroke-width="1.6" fill="none"/>
<path d="M262.9 193.4V123.9M262.9 193.4H336" stroke="#000" stroke-width=".65" fill="none"/>
<path d="M261.7 125.4L262.9 122.9L264.09999999999997 125.4Z" fill="#000"/>
<text x="299.80" y="119.30" font-size="5.1" font-weight="bold" text-anchor="middle" fill="#000">Only T1_vs_T2</text>
<text x="260.70" y="129.30" font-size="4.3" text-anchor="end" fill="#000">1400</text>
<path d="M261.7 128h1.2" stroke="#000" stroke-width=".5"/>
<text x="260.70" y="138.60" font-size="4.3" text-anchor="end" fill="#000">1200</text>
<path d="M261.7 137.3h1.2" stroke="#000" stroke-width=".5"/>
<text x="260.70" y="147.90" font-size="4.3" text-anchor="end" fill="#000">1000</text>
<path d="M261.7 146.6h1.2" stroke="#000" stroke-width=".5"/>
<text x="260.70" y="157.20" font-size="4.3" text-anchor="end" fill="#000">800</text>
<path d="M261.7 155.9h1.2" stroke="#000" stroke-width=".5"/>
<text x="260.70" y="166.50" font-size="4.3" text-anchor="end" fill="#000">600</text>
<path d="M261.7 165.2h1.2" stroke="#000" stroke-width=".5"/>
<text x="260.70" y="175.80" font-size="4.3" text-anchor="end" fill="#000">400</text>
<path d="M261.7 174.5h1.2" stroke="#000" stroke-width=".5"/>
<text x="260.70" y="185.10" font-size="4.3" text-anchor="end" fill="#000">200</text>
<path d="M261.7 183.8h1.2" stroke="#000" stroke-width=".5"/>
<text x="260.70" y="194.60" font-size="4.3" text-anchor="end" fill="#000">0</text>
<path d="M261.7 193.3h1.2" stroke="#000" stroke-width=".5"/>
<rect x="273.2" y="146.7" width="15.8" height="46.7" fill="#ff0000"/>
<text x="281.10" y="143.40" font-size="4.3" text-anchor="middle" fill="#000">1002</text>
<text x="281.10" y="200.50" font-size="4.5" text-anchor="middle" fill="#000">up</text>
<rect x="309.9" y="129.9" width="16.0" height="63.5" fill="#0e9a47"/>
<text x="317.90" y="126.60" font-size="4.3" text-anchor="middle" fill="#000">1355</text>
<text x="317.90" y="200.50" font-size="4.5" text-anchor="middle" fill="#000">down</text>
<text x="245.80" y="164.75" font-size="4.8" font-weight="bold" text-anchor="middle" fill="#000" transform="rotate(-90 245.80 164.75)">Number of genes</text>
<rect x="340.5" y="156.20000000000002" width="2.4" height="2.4" fill="#ff0000"/>
<text x="343.50" y="158.70" font-size="4.4" text-anchor="start" fill="#000">up</text>
<rect x="340.5" y="163.3" width="2.4" height="2.4" fill="#0e9a47"/>
<text x="343.50" y="165.80" font-size="4.4" text-anchor="start" fill="#000">down</text>
<path transform="scale(.5)" d="M153 711h0M140 726h0M160 718h0M148 726h0M159 621h0M147 696h0M157 628h0M158 689h0M155 622h0M161 713h0M158 707h0M154 648h0M162 719h0M153 730h0M158 678h0M138 702h0M143 710h0M151 704h0M143 709h0M140 703h0M155 650h0M146 728h0M146 727h0M155 726h0M117 721h0M162 715h0M162 681h0M162 598h0M162 640h0M161 630h0M162 615h0M146 726h0M158 729h0M162 594h0M152 720h0M159 713h0M161 700h0M160 594h0M136 721h0M138 714h0M150 691h0M161 720h0M158 702h0M150 660h0M152 653h0M146 729h0M156 658h0M125 722h0M161 594h0M157 633h0M148 717h0M128 704h0M160 594h0M161 698h0M147 674h0M161 720h0M153 705h0M152 727h0M153 730h0M159 660h0M155 707h0M160 594h0M160 698h0M159 696h0M161 698h0M162 685h0M140 710h0M153 687h0M159 617h0M147 696h0M153 650h0M160 625h0M148 701h0M162 671h0M147 711h0M153 720h0M157 624h0M162 628h0M157 729h0M155 682h0M159 664h0M159 723h0M161 730h0M160 641h0M161 622h0M159 660h0M159 708h0M150 726h0M161 607h0M145 710h0M160 697h0M154 721h0M152 652h0M117 721h0M158 619h0M161 594h0M160 729h0M162 629h0M150 654h0M153 626h0M122 722h0M154 717h0M151 650h0M159 628h0M157 609h0M157 721h0M150 726h0M147 710h0M155 654h0M160 654h0M161 594h0M153 676h0M143 673h0M157 603h0M157 724h0M146 722h0M147 668h0M159 663h0M162 703h0M160 710h0M158 664h0M157 708h0M130 707h0M162 638h0M158 714h0M157 718h0M152 653h0M154 714h0M162 721h0M157 711h0M155 708h0M162 621h0M162 594h0M147 721h0M152 729h0M153 717h0M159 640h0M159 667h0M157 633h0M160 692h0M154 611h0M145 722h0M158 693h0M151 716h0M160 594h0M140 673h0M152 703h0M159 594h0M161 594h0M158 629h0M159 713h0M162 626h0M155 695h0M162 724h0M153 691h0M157 594h0M159 678h0M161 730h0M159 691h0M162 613h0M159 717h0M152 712h0M149 719h0M153 674h0M158 722h0M153 722h0M156 683h0M148 716h0M160 602h0M160 620h0M147 709h0M152 660h0M158 613h0M158 726h0M160 680h0M151 728h0M160 729h0M144 725h0M159 594h0M149 730h0M151 701h0M161 706h0M152 686h0M160 648h0M157 670h0M142 689h0M154 667h0M149 705h0M158 612h0M160 729h0M159 720h0M157 627h0M158 601h0M155 662h0M157 628h0M141 722h0M160 727h0M160 594h0M141 727h0M146 725h0M161 670h0M161 606h0M160 610h0M162 685h0M160 594h0M160 683h0M157 687h0M159 704h0M160 600h0M161 636h0M151 718h0M132 725h0M154 723h0M151 728h0M159 615h0M156 632h0M150 717h0M157 682h0M157 629h0M162 595h0M161 687h0M161 637h0M156 675h0M160 660h0M160 725h0M149 721h0M151 711h0M159 661h0M157 643h0M161 625h0M157 688h0M158 611h0M151 709h0M159 605h0M149 719h0M157 731h0M134 726h0M161 596h0M156 729h0M159 655h0M145 728h0M157 654h0M158 721h0M159 697h0M144 692h0M160 731h0M150 712h0M148 642h0M152 702h0M159 673h0M144 663h0M154 717h0M132 723h0M160 662h0M158 606h0M156 604h0M146 728h0M162 594h0M161 665h0M155 693h0M141 684h0M158 598h0M158 682h0M157 715h0M151 707h0M156 712h0M160 690h0M161 594h0M147 658h0M158 727h0M127 716h0M162 718h0M160 708h0M156 720h0M162 598h0M159 625h0M143 691h0M151 729h0M159 599h0M150 680h0M158 610h0M162 716h0M160 719h0M152 645h0M121 721h0M138 728h0M159 720h0M153 682h0M161 594h0M158 610h0M159 637h0M156 659h0M144 724h0M153 702h0M162 594h0M157 657h0M159 629h0M154 726h0M160 702h0M159 690h0M150 679h0M158 621h0M160 724h0M148 726h0M160 598h0M145 729h0M161 710h0M161 676h0M160 636h0M150 663h0M153 723h0M158 603h0M161 618h0M161 643h0M161 680h0M152 669h0M162 596h0M148 717h0M145 722h0M154 716h0M162 713h0M150 691h0M156 600h0M161 646h0M159 726h0M145 728h0M157 712h0M159 682h0M158 699h0M153 729h0M149 726h0M160 594h0M151 710h0M153 712h0M158 680h0M159 603h0M162 599h0M161 724h0M162 729h0M162 708h0M162 594h0M156 638h0M159 724h0M161 671h0M161 712h0M158 708h0M158 723h0M161 600h0M162 644h0M157 599h0M149 709h0M162 611h0M155 716h0M155 680h0M162 613h0M153 663h0M151 716h0M159 619h0M150 712h0M150 665h0M152 636h0M159 707h0M156 637h0M155 691h0M154 690h0M158 679h0M156 724h0M144 701h0M140 722h0M160 594h0M152 657h0M148 656h0M157 704h0M147 701h0M160 610h0M158 718h0M162 600h0M161 625h0M155 692h0M160 616h0M155 727h0M155 670h0M149 729h0M160 727h0M160 710h0M159 707h0M149 698h0M155 638h0M160 604h0M159 607h0M154 629h0M149 659h0M161 608h0M155 719h0M157 693h0M145 711h0M145 676h0M153 698h0M142 711h0M160 598h0M160 603h0M157 611h0M154 719h0M157 720h0M159 594h0M158 626h0M160 637h0M157 615h0M154 639h0M156 647h0M159 671h0M157 609h0M162 604h0M159 668h0M160 617h0M159 718h0M158 719h0M160 649h0M154 707h0M157 666h0M161 644h0M152 729h0M160 607h0M146 710h0M153 730h0M157 727h0M157 714h0M147 709h0M157 636h0M160 730h0M161 604h0M151 629h0M145 714h0M149 700h0M154 650h0M158 697h0M153 717h0M143 729h0M162 693h0M152 729h0M155 663h0M155 620h0M148 723h0M161 597h0M160 699h0M161 637h0M161 669h0M158 612h0M162 636h0M150 730h0M157 724h0M151 706h0M161 656h0M158 598h0M147 666h0M157 632h0M153 694h0M155 717h0M159 713h0M162 594h0M158 720h0M156 634h0M157 709h0M143 715h0M151 721h0M160 645h0M162 689h0M147 723h0M157 695h0M153 730h0M154 723h0M147 687h0M162 653h0M152 688h0M160 603h0M157 626h0M154 709h0M161 662h0M151 640h0M161 594h0M162 594h0M156 642h0M156 722h0M136 727h0M161 637h0M137 723h0M149 656h0M156 594h0M160 714h0M146 714h0M149 730h0M160 594h0M160 691h0M152 728h0M151 707h0M143 722h0M153 727h0M157 613h0M160 696h0M160 679h0M162 705h0M156 692h0M151 669h0M160 594h0M158 717h0M158 714h0M156 696h0M161 676h0M159 608h0M156 687h0M149 693h0M158 638h0M156 648h0M161 613h0M141 724h0M161 619h0M130 611h0M161 611h0M152 730h0M144 726h0M151 699h0M162 663h0M148 686h0M161 671h0M157 645h0M152 729h0M159 726h0M152 729h0M161 594h0M160 650h0M160 602h0M161 633h0M160 641h0M156 598h0M155 685h0M157 594h0M135 713h0M156 701h0M151 699h0M161 596h0M157 730h0M137 707h0M162 705h0M156 689h0M147 720h0M160 626h0M162 603h0M154 664h0M161 720h0M159 640h0M161 594h0M134 727h0M157 659h0M157 610h0M157 640h0M162 606h0M151 696h0M154 683h0M147 646h0M152 688h0M155 615h0M155 674h0M157 717h0M161 679h0M154 680h0M162 673h0M160 724h0M156 729h0M151 670h0M159 612h0M148 723h0M162 624h0M152 680h0M162 687h0M140 727h0M161 729h0M160 729h0M153 672h0M157 599h0M146 624h0M159 729h0M156 629h0M156 660h0M161 599h0M161 729h0M156 702h0M113 714h0M154 635h0M152 707h0M155 714h0M144 716h0M155 622h0M160 601h0M152 730h0M152 704h0M162 729h0M160 660h0M146 722h0M157 726h0M159 730h0M154 669h0M157 726h0M152 665h0M142 726h0M156 665h0M149 730h0M161 706h0M139 711h0M139 727h0M144 729h0M156 613h0M158 653h0M158 594h0M157 614h0M156 725h0M148 724h0M162 682h0M160 689h0M161 674h0M151 729h0M153 703h0M162 728h0M161 686h0M160 718h0M161 595h0M152 706h0M150 705h0M151 709h0M154 644h0M149 724h0M152 723h0M149 703h0M155 729h0M162 594h0M157 690h0M162 600h0M149 639h0M140 725h0M162 632h0M156 645h0M160 603h0M159 615h0M161 689h0M160 643h0M162 600h0M157 614h0M150 710h0M162 638h0M156 622h0M149 692h0M161 720h0M161 603h0M161 720h0M139 725h0M158 657h0M156 638h0M156 711h0M159 633h0M160 594h0M156 725h0M150 730h0M154 693h0M162 633h0M156 594h0M152 709h0M156 724h0M160 594h0M156 658h0M145 725h0M160 702h0M158 654h0M154 648h0M162 607h0M159 706h0M160 702h0M154 631h0M156 676h0M155 615h0M160 729h0M150 688h0M160 606h0M147 724h0M154 725h0M155 728h0M162 730h0M146 726h0M157 713h0M153 729h0M149 708h0M146 728h0M156 652h0M160 713h0M153 730h0M144 697h0M162 598h0M156 603h0M137 727h0M130 723h0M162 703h0M155 669h0M158 698h0M150 715h0M128 725h0M159 726h0M157 636h0M161 711h0M157 697h0M146 632h0M143 728h0M162 717h0M146 718h0M159 730h0M158 607h0M159 687h0M160 711h0M156 684h0M148 727h0M152 721h0M144 726h0M159 728h0M156 727h0M156 645h0M159 611h0M162 672h0M150 703h0M149 730h0M155 686h0M135 710h0M157 674h0M159 612h0M150 719h0M160 727h0M161 714h0M161 682h0M142 717h0M157 727h0M152 728h0M156 729h0M150 727h0M143 703h0M151 659h0M148 688h0M152 714h0M157 700h0M160 668h0M147 724h0M157 598h0M161 625h0M161 604h0M158 696h0M147 700h0M154 711h0M150 656h0M161 607h0M150 703h0M150 730h0M154 631h0M161 694h0M156 707h0M148 715h0M156 725h0M159 724h0M160 730h0M162 630h0M154 620h0M159 629h0M158 731h0M161 731h0M158 627h0M155 729h0M162 615h0M159 718h0M158 659h0M144 728h0M160 615h0M152 711h0M148 597h0M160 622h0M157 729h0M159 627h0M143 679h0M157 716h0M153 714h0M149 698h0M161 594h0M155 730h0M157 692h0M159 602h0M160 635h0M156 729h0M158 601h0M156 699h0M153 629h0M153 719h0M160 595h0M155 701h0M161 602h0M159 727h0M155 700h0M158 728h0M157 701h0M160 720h0M150 681h0M152 701h0M149 724h0M158 727h0M161 594h0M149 714h0M152 630h0M156 713h0M156 667h0M143 677h0M161 724h0M154 716h0M160 730h0M162 683h0M159 620h0M160 728h0M157 721h0M162 731h0M146 694h0M153 730h0M154 729h0M161 683h0M159 594h0M159 696h0M161 672h0M161 594h0M153 726h0M146 723h0M159 649h0M161 639h0M156 656h0M162 704h0M151 712h0M160 606h0M148 674h0M157 692h0M160 596h0M162 642h0M159 596h0M159 615h0M146 722h0M157 608h0M158 731h0M158 730h0M157 594h0M141 713h0M160 594h0M160 709h0M147 622h0M159 645h0M157 629h0M162 727h0M152 703h0M161 597h0M156 697h0M161 665h0M162 723h0M160 634h0M159 594h0M137 724h0M162 594h0M154 721h0M132 695h0M162 730h0M158 725h0M151 686h0M155 633h0M155 717h0M154 709h0M158 714h0M158 721h0M142 717h0M159 710h0M159 655h0M151 728h0M153 639h0M152 705h0M148 712h0M161 594h0M156 594h0M162 598h0M150 682h0M159 594h0M155 723h0M154 721h0M161 610h0M158 594h0M161 595h0M154 679h0M154 678h0M153 719h0M139 725h0M161 681h0M153 690h0M158 640h0M159 695h0M148 727h0M161 722h0M150 726h0M161 677h0M161 616h0M149 724h0M145 711h0M159 683h0M158 641h0M162 650h0M154 710h0M154 717h0M160 598h0M152 729h0M152 714h0M160 614h0M150 629h0M149 723h0M158 643h0M161 607h0M153 729h0M132 707h0M150 688h0M159 700h0M159 714h0M161 715h0M161 664h0M160 705h0M162 724h0M158 692h0M157 702h0M158 730h0M161 725h0M162 679h0M152 697h0M161 634h0M145 699h0M153 664h0M160 606h0M159 617h0M156 719h0M160 605h0M150 715h0M162 730h0M156 696h0M159 708h0M159 698h0M145 725h0M153 681h0M160 663h0M160 632h0M161 644h0M160 684h0M152 705h0M154 709h0M144 729h0M148 700h0M162 666h0M140 727h0M149 687h0M157 657h0M161 601h0M146 727h0M146 688h0M157 657h0M154 625h0M154 697h0M161 609h0M151 708h0M116 718h0M159 727h0M153 714h0M151 721h0M162 594h0M159 594h0M155 653h0M157 697h0M157 602h0M145 707h0M147 727h0M150 687h0M151 626h0M132 726h0M154 610h0M162 717h0M147 729h0M148 713h0M135 706h0M156 594h0M155 642h0M161 648h0M156 695h0M158 703h0M150 726h0M160 724h0M145 678h0M162 701h0M130 684h0M160 722h0M129 699h0M151 712h0M161 609h0M162 730h0M148 661h0M161 671h0M161 626h0M162 687h0M156 716h0M148 728h0M160 594h0M143 673h0M148 689h0M160 594h0M157 722h0M158 605h0M160 615h0M151 729h0M157 626h0M161 701h0M146 729h0M156 617h0M145 609h0M161 642h0M160 700h0M157 610h0M157 715h0M157 694h0M149 654h0M154 682h0M152 727h0M154 728h0M159 665h0M137 726h0M158 618h0M116 654h0M162 667h0M158 700h0M154 606h0M143 684h0M160 627h0M158 644h0M146 724h0M148 696h0M162 625h0M156 699h0M161 677h0M158 728h0M160 693h0M149 648h0M160 701h0M154 725h0M162 594h0M157 699h0M158 699h0M160 600h0M161 654h0M154 694h0M158 627h0M162 594h0M140 704h0M156 638h0M159 594h0M156 702h0M156 665h0M152 693h0M147 705h0M160 672h0M160 648h0M157 727h0M156 692h0M158 619h0M140 727h0M154 696h0M161 709h0M160 594h0M158 662h0M156 696h0M159 725h0M157 699h0M153 691h0M156 622h0M159 604h0M158 701h0M156 620h0M157 677h0M161 712h0M157 660h0M138 724h0M155 650h0M142 721h0M160 594h0M156 715h0M159 606h0M154 667h0M158 622h0M146 714h0M160 673h0M153 701h0M151 730h0M155 692h0M148 730h0M154 719h0M159 594h0M159 711h0M160 690h0M159 620h0M146 677h0M161 664h0M162 701h0M160 731h0M160 715h0M150 620h0M159 639h0M159 703h0M157 726h0M155 717h0M156 690h0M151 666h0M158 730h0M153 623h0M158 701h0M157 613h0M156 632h0M161 620h0M154 657h0M158 727h0M138 706h0M144 707h0M159 720h0M159 642h0M152 727h0M144 701h0M162 699h0M158 626h0M155 653h0M159 725h0M159 722h0M158 616h0M144 729h0M158 703h0M158 643h0M155 704h0M161 729h0M146 725h0M156 692h0M154 670h0M160 729h0M161 607h0M161 621h0M159 729h0M157 639h0M156 602h0M142 726h0M148 673h0M162 720h0M146 676h0M148 699h0M159 667h0M156 594h0M153 725h0M160 605h0M144 729h0M148 717h0M160 594h0M156 726h0M153 705h0M141 728h0M160 619h0M156 719h0M161 730h0M152 729h0M161 659h0M158 646h0M162 683h0M152 725h0M161 722h0M158 726h0M159 594h0M160 594h0M146 729h0M161 594h0M158 707h0M162 689h0M133 641h0M147 727h0M152 730h0M162 671h0M162 726h0M162 730h0M152 623h0M161 721h0M147 729h0M157 690h0M162 629h0M130 716h0M157 712h0M156 712h0M160 711h0M162 594h0M157 641h0M119 719h0M161 701h0M144 666h0M160 698h0M146 705h0M151 655h0M142 728h0M154 655h0M155 707h0M160 640h0M143 714h0M159 731h0M148 729h0M159 594h0M158 644h0M134 725h0M162 724h0M160 618h0M161 667h0M155 621h0M157 674h0M155 669h0M161 729h0M150 727h0M153 730h0M129 676h0M157 676h0M134 706h0M147 669h0M153 727h0M162 726h0M156 705h0M161 633h0M160 689h0M133 721h0M159 611h0M137 702h0M154 689h0M162 601h0M153 667h0M157 639h0M150 683h0M160 710h0M161 595h0M149 723h0M159 706h0M159 680h0M153 693h0M152 694h0M144 722h0M154 689h0M161 692h0M152 719h0M142 722h0M161 724h0M141 714h0M155 728h0M161 601h0M156 704h0M158 702h0M161 617h0M152 703h0M139 725h0M161 615h0M140 715h0M148 705h0M148 709h0M159 707h0M160 713h0M160 660h0M151 691h0M154 709h0M162 621h0M159 713h0M162 729h0M158 615h0M161 594h0M144 724h0M149 729h0M146 724h0M162 648h0M149 724h0M158 594h0M153 715h0M159 683h0M160 731h0M142 704h0M150 715h0M139 716h0M140 700h0M161 717h0M161 728h0M150 711h0M157 720h0M154 693h0M161 665h0M161 639h0M160 611h0M158 688h0M156 650h0M162 594h0M152 711h0M158 628h0M162 730h0M157 620h0M149 706h0M161 600h0M154 682h0M142 697h0M155 682h0M156 729h0M161 666h0M160 717h0M161 647h0M157 609h0M151 703h0M153 665h0M161 725h0M144 726h0M152 678h0M157 730h0M138 716h0M161 610h0M162 615h0M156 698h0M159 680h0M147 721h0M156 687h0M155 706h0M152 655h0M161 685h0M150 724h0M146 685h0M161 722h0M161 638h0M149 725h0M140 689h0M154 667h0M160 618h0M153 659h0M151 676h0M139 696h0M158 620h0M148 722h0M159 693h0M154 638h0M141 695h0M160 725h0M151 651h0M139 670h0M158 727h0M143 677h0M157 723h0M162 596h0M159 668h0M161 708h0M160 672h0M162 727h0M139 720h0M160 721h0M160 635h0M157 706h0M161 631h0M159 594h0M161 677h0M156 679h0M154 681h0M151 675h0M152 705h0M146 641h0M158 596h0M157 657h0M143 693h0M155 684h0M161 630h0M160 625h0M162 716h0M146 721h0M159 619h0M162 685h0M160 651h0M157 663h0M149 696h0M162 719h0M161 689h0M159 646h0M155 717h0M159 594h0M159 643h0M162 689h0M159 628h0M154 726h0M153 728h0M156 607h0M154 725h0M156 689h0M161 692h0M157 661h0M158 728h0M162 601h0M158 601h0M147 714h0M161 609h0M148 689h0M152 727h0M157 646h0M161 691h0M159 600h0M150 712h0M161 594h0M161 655h0M149 729h0M153 727h0M156 648h0M159 698h0M152 717h0M160 682h0M160 594h0M158 657h0M142 720h0M160 727h0M161 691h0M159 647h0M137 727h0M160 714h0M152 729h0M153 713h0M156 718h0M154 730h0M156 594h0M159 639h0M162 729h0M155 689h0M160 614h0M161 616h0M155 657h0M157 702h0M147 685h0M150 721h0M149 680h0M157 683h0M159 716h0M156 676h0M158 617h0M157 726h0M154 724h0M152 717h0M156 707h0M161 719h0M160 642h0M162 717h0M158 719h0M150 661h0M157 609h0M149 728h0M143 728h0M148 683h0M141 718h0M155 708h0M156 688h0M161 594h0M160 603h0M156 680h0M134 705h0M162 594h0M158 682h0M156 700h0M160 597h0M143 729h0M162 685h0M158 641h0M162 621h0M161 648h0M162 636h0M152 705h0M149 716h0M161 602h0M159 634h0M161 701h0M159 652h0M144 643h0M156 639h0M158 652h0M150 688h0M157 667h0M151 695h0M155 656h0M155 688h0M158 702h0M147 722h0M158 681h0M153 709h0M157 728h0M154 722h0M154 731h0M161 726h0M158 731h0M153 708h0M160 717h0M161 714h0M157 691h0M162 680h0" stroke="#129a3c" stroke-width="2.1" stroke-linecap="round" fill="none"/>
<polygon points="81.2,297.0 80.4,297.0 73.0,364.1 73.9,365.6 81.2,365.6" fill="#129a3c" opacity="0.55"/>
<path d="M81.2 297.0H75.6" stroke="#129a3c" stroke-width="1.1" fill="none"/>
<path d="M75.6 297.0H67.0" stroke="#129a3c" stroke-width="1.0" stroke-dasharray="1.1 1.5" fill="none"/>
<path transform="scale(.5)" d="M172 676h0M193 650h0M195 689h0M181 678h0M180 722h0M183 727h0M224 674h0M176 599h0M172 597h0M188 712h0M192 682h0M187 704h0M183 594h0M175 680h0M181 609h0M199 722h0M175 599h0M176 660h0M182 683h0M184 676h0M176 594h0M228 608h0M199 724h0M184 613h0M183 724h0M177 619h0M187 713h0M211 720h0M194 628h0M186 701h0M190 725h0M172 619h0M206 705h0M186 646h0M195 727h0M177 728h0M218 719h0M184 690h0M177 603h0M171 703h0M196 727h0M173 718h0M208 711h0M175 594h0M202 703h0M171 688h0M190 727h0M183 725h0M185 677h0M174 715h0M211 710h0M207 707h0M173 729h0M174 664h0M172 709h0M186 706h0M202 677h0M180 631h0M172 640h0M174 645h0M175 618h0M218 720h0M172 594h0M184 730h0M180 678h0M214 721h0M179 622h0M210 718h0M187 729h0M184 621h0M234 710h0M186 626h0M184 667h0M199 716h0M175 594h0M174 727h0M178 687h0M180 697h0M177 707h0M180 628h0M173 594h0M211 718h0M183 706h0M205 691h0M188 724h0M171 723h0M216 720h0M176 723h0M176 665h0M180 728h0M222 718h0M194 692h0M192 706h0M175 721h0M173 615h0M190 726h0M178 730h0M178 594h0M177 627h0M177 594h0M186 657h0M191 672h0M186 729h0M172 594h0M183 697h0M175 642h0M178 656h0M185 613h0M179 626h0M186 704h0M177 684h0M172 696h0M181 631h0M185 684h0M178 716h0M212 721h0M199 724h0M201 718h0M180 727h0M194 717h0M189 698h0M213 720h0M199 682h0M186 728h0M198 700h0M171 597h0M182 632h0M174 628h0M180 602h0M202 672h0M196 699h0M182 717h0M178 727h0M213 712h0M177 613h0M180 723h0M177 594h0M234 624h0M178 694h0M174 667h0M191 661h0M180 683h0M176 708h0M186 622h0M191 612h0M172 665h0M181 651h0M181 609h0M177 595h0M179 655h0M178 690h0M231 711h0M175 594h0M198 708h0M182 730h0M203 725h0M207 705h0M178 701h0M197 708h0M178 610h0M175 604h0M185 660h0M172 679h0M181 610h0M193 696h0M223 712h0M175 693h0M212 722h0M178 724h0M185 671h0M181 730h0M183 614h0M175 688h0M174 706h0M173 634h0M199 723h0M179 645h0M177 723h0M174 618h0M191 692h0M193 712h0M184 723h0M203 717h0M180 662h0M174 616h0M178 594h0M178 671h0M177 717h0M183 662h0M186 704h0M185 616h0M181 729h0M181 697h0M186 709h0M173 700h0M180 622h0M194 720h0M191 690h0M182 728h0M209 628h0M174 595h0M185 726h0M174 703h0M178 636h0M197 675h0M210 712h0M202 713h0M187 647h0M209 724h0M176 727h0M174 673h0M202 686h0M197 718h0M180 657h0M183 714h0M177 594h0M183 702h0M181 673h0M181 687h0M181 728h0M185 615h0M174 727h0M189 698h0M178 694h0M194 654h0M178 644h0M175 650h0M180 619h0M199 701h0M177 721h0M197 692h0M185 633h0M187 685h0M213 713h0M173 652h0M187 643h0M186 650h0M173 594h0M178 615h0M192 710h0M176 724h0M189 710h0M179 723h0M178 637h0M190 669h0M198 670h0M220 656h0M205 668h0M174 729h0M193 715h0M196 633h0M171 686h0M198 686h0M178 667h0M185 674h0M176 645h0M176 629h0M185 655h0M185 650h0M193 721h0M173 653h0M178 724h0M179 725h0M190 661h0M191 700h0M219 720h0M176 728h0M177 672h0M196 714h0M200 716h0M187 725h0M189 679h0M172 658h0M185 659h0M193 713h0M198 714h0M188 674h0M173 634h0M180 640h0M173 636h0M221 718h0M211 722h0M182 723h0M191 709h0M177 630h0M175 674h0M188 715h0M220 718h0M178 721h0M183 611h0M179 727h0M194 713h0M183 646h0M201 718h0M185 643h0M172 594h0M178 607h0M173 653h0M179 702h0M178 624h0M182 656h0M179 727h0M187 698h0M183 663h0M172 594h0M209 721h0M188 717h0M181 723h0M176 599h0M177 594h0M172 643h0M180 730h0M182 730h0M171 619h0M176 650h0M178 666h0M185 720h0M184 661h0M199 725h0M220 717h0M214 719h0M181 703h0M173 594h0M175 605h0M171 724h0M187 640h0M184 724h0M175 683h0M193 712h0M186 728h0M199 696h0M173 714h0M175 594h0M179 716h0M187 659h0M172 672h0M177 716h0M176 718h0M190 705h0M171 718h0M221 718h0M178 594h0M174 658h0M181 645h0M173 605h0M172 609h0M189 690h0M176 686h0M182 722h0M192 652h0M172 625h0M180 661h0M200 723h0M172 710h0M194 708h0M176 594h0M180 643h0M193 714h0M185 635h0M172 614h0M171 702h0M173 692h0M191 701h0M217 692h0M175 684h0M201 703h0M172 627h0M209 723h0M193 708h0M171 698h0M189 670h0M176 604h0M181 611h0M175 728h0M174 722h0M177 704h0M186 728h0M174 594h0M173 614h0M188 669h0M190 665h0M186 706h0M174 610h0M172 727h0M173 644h0M175 615h0M179 649h0M193 716h0M174 594h0M213 663h0M174 714h0M183 723h0M203 724h0M195 726h0M184 728h0M171 673h0M183 701h0M173 657h0M176 627h0M178 607h0M193 712h0M171 708h0M197 688h0M174 682h0M192 641h0M188 659h0M180 647h0M176 652h0M183 619h0M181 594h0M178 636h0M171 652h0M187 728h0M182 729h0M179 607h0M176 729h0M197 697h0M215 718h0M185 699h0M172 714h0M210 723h0M173 610h0M183 661h0M175 700h0M180 715h0M173 710h0M232 703h0M179 705h0M174 718h0M193 602h0M180 622h0M181 700h0M186 668h0M205 661h0M172 717h0M172 719h0M178 661h0M173 611h0M180 727h0M220 715h0M177 691h0M172 702h0M173 708h0M187 652h0M199 722h0M181 594h0M172 669h0M188 729h0M181 726h0M187 702h0M176 660h0M201 680h0M197 709h0M201 706h0M194 722h0M180 673h0M174 720h0M179 718h0M187 630h0M172 667h0M192 727h0M177 720h0M174 701h0M196 705h0M173 641h0M175 605h0M174 626h0M188 708h0M215 692h0M180 730h0M174 594h0M184 622h0M190 606h0M186 651h0M173 672h0M195 712h0M175 594h0M205 674h0M177 602h0M171 663h0M181 705h0M186 614h0M193 648h0M211 667h0M212 720h0M177 648h0M172 712h0M173 621h0M181 632h0M182 702h0M183 628h0M180 688h0M188 714h0M172 660h0M175 711h0M189 718h0M198 713h0M180 703h0M182 617h0M173 730h0M186 714h0M172 712h0M198 723h0M178 601h0M194 720h0M178 652h0M196 722h0M184 720h0M195 715h0M181 631h0M187 724h0M177 637h0M181 730h0M200 725h0M177 713h0M191 712h0M177 719h0M189 725h0M189 702h0M179 600h0M176 636h0M172 688h0M175 617h0M193 718h0M183 715h0M190 720h0M206 725h0M191 724h0M172 730h0M172 716h0M230 639h0M175 623h0M197 680h0M183 651h0M208 722h0M193 728h0M199 726h0M183 639h0M185 672h0M178 728h0M171 729h0M180 646h0M222 718h0M197 697h0M183 713h0M192 725h0M172 693h0M181 631h0M181 651h0M175 713h0M175 725h0M180 726h0M190 645h0M190 710h0M181 719h0M189 699h0M177 658h0M187 717h0M174 700h0M230 712h0M172 715h0M171 594h0M173 704h0M214 719h0M218 718h0M181 598h0M181 706h0M187 693h0M176 674h0M210 723h0M190 692h0M210 723h0M183 666h0M178 716h0M187 722h0M235 706h0M187 659h0M175 685h0M189 715h0M172 598h0M179 597h0M193 727h0M205 706h0M179 654h0M194 594h0M177 679h0M187 722h0M195 724h0M180 715h0M221 718h0M172 644h0M212 697h0M171 689h0M172 719h0M189 621h0M172 662h0M192 618h0M173 712h0M201 724h0M188 724h0M187 707h0M197 728h0M184 602h0M172 670h0M172 645h0M181 649h0M176 683h0M178 629h0M178 727h0M178 716h0M205 719h0M193 675h0M187 698h0M182 723h0M179 691h0M177 594h0M193 679h0M185 728h0M180 634h0M182 729h0M209 697h0M206 723h0M173 729h0M173 717h0M177 620h0M178 703h0M172 598h0M182 729h0M202 677h0M176 614h0M179 656h0M174 604h0M178 730h0M176 675h0M192 726h0M176 721h0M186 710h0M184 669h0M184 637h0M214 717h0M195 654h0M193 712h0M177 713h0M174 631h0M174 622h0M180 661h0M192 720h0M187 656h0M175 603h0M172 699h0M186 724h0M204 723h0M174 615h0M171 683h0M180 607h0M181 723h0M173 614h0M190 729h0M178 721h0M216 708h0M189 631h0M185 710h0M171 669h0M193 713h0M193 661h0M181 720h0M186 667h0M177 708h0M186 677h0M192 723h0M175 594h0M172 620h0M177 619h0M179 602h0M206 679h0M178 659h0M174 665h0M177 703h0M180 693h0M191 649h0M193 631h0M177 644h0M190 728h0M204 700h0M176 729h0M174 657h0M194 646h0M184 665h0M177 716h0M178 617h0M181 668h0M172 684h0M180 713h0M179 612h0M208 685h0M190 670h0M176 696h0M177 689h0M213 691h0M196 727h0M172 594h0M176 604h0M216 720h0M174 663h0M185 720h0M175 649h0M180 648h0M180 723h0M189 669h0M175 653h0M186 615h0M199 701h0M174 664h0M171 594h0M207 681h0M178 639h0M183 692h0M199 726h0M196 704h0M174 594h0M181 724h0M175 596h0M178 722h0M182 624h0M184 594h0M184 696h0M177 718h0M179 719h0M171 731h0M171 709h0M176 655h0M179 730h0M183 684h0M193 728h0M197 727h0M176 615h0M196 714h0M184 595h0M173 662h0M171 727h0M173 710h0M180 640h0M182 724h0M172 668h0M175 652h0M173 628h0M172 594h0M186 729h0M183 594h0M180 669h0M219 635h0M175 607h0M198 712h0M216 666h0M182 630h0M210 723h0M182 730h0M178 615h0M179 654h0M183 594h0M177 689h0M192 653h0M189 714h0M176 626h0M176 719h0M178 601h0M184 695h0M173 678h0M190 708h0M177 606h0M178 679h0M196 709h0M172 602h0M172 730h0M213 721h0M171 600h0M171 594h0M176 723h0M191 662h0M191 727h0M184 594h0M203 719h0M172 699h0M183 687h0M180 729h0M184 722h0M201 705h0M196 720h0M187 667h0M194 693h0M187 642h0M217 720h0M188 621h0M223 717h0M171 608h0M171 616h0M190 659h0M174 622h0M182 594h0M190 677h0M194 703h0M183 669h0M174 594h0M177 640h0M192 663h0M171 720h0M184 643h0M176 729h0M175 652h0M172 623h0M203 721h0M192 710h0M171 612h0M179 722h0M192 726h0M188 708h0M173 651h0M181 658h0M185 707h0M178 729h0M185 708h0M187 594h0M183 668h0M187 670h0M226 715h0M171 703h0M172 689h0M179 597h0M180 601h0M179 619h0M191 726h0M178 725h0M174 730h0M194 711h0M172 595h0M192 711h0M174 631h0M186 707h0M181 616h0M186 715h0M182 709h0M205 710h0M179 703h0M178 594h0M188 726h0M193 720h0M181 607h0M199 727h0M173 727h0M177 715h0M172 640h0M189 644h0M185 682h0M174 728h0M198 727h0M180 620h0M204 683h0M192 698h0M192 667h0M183 730h0M185 635h0M174 633h0M179 639h0M184 715h0M183 647h0M190 615h0M186 675h0M179 687h0M209 648h0M190 689h0M178 730h0M181 594h0M182 722h0M188 689h0M174 705h0M177 594h0M196 727h0M204 713h0M186 726h0M185 729h0M180 704h0M179 704h0M174 594h0M183 613h0M190 728h0M176 656h0M196 720h0M195 725h0M175 596h0M191 618h0M179 694h0M176 642h0M216 674h0M176 594h0M184 727h0M176 693h0M177 616h0M209 668h0M175 638h0M177 722h0M207 714h0M185 621h0M189 678h0M176 610h0M186 722h0M181 600h0M192 666h0M175 600h0M187 680h0M174 605h0M193 728h0M174 693h0M191 722h0M184 687h0M188 724h0M198 709h0M179 713h0M199 701h0M181 727h0M179 706h0M174 594h0M195 643h0M196 668h0M182 660h0M192 728h0M205 724h0M180 629h0M194 727h0M233 712h0M172 639h0M184 642h0M173 674h0M178 720h0M178 655h0M190 653h0M172 715h0M204 725h0M191 721h0M191 674h0M188 729h0M177 725h0M176 717h0M188 724h0M197 705h0M184 715h0M177 719h0M189 726h0M176 649h0M183 680h0M209 696h0M183 699h0M210 721h0M171 623h0M181 687h0M173 602h0M180 706h0M185 727h0M203 703h0M188 661h0M191 722h0M218 719h0M195 656h0M201 725h0M210 723h0M171 729h0M182 607h0M172 722h0M187 615h0M197 701h0M187 704h0M216 706h0M174 710h0M179 703h0M182 724h0M203 679h0M208 717h0M193 726h0M174 594h0M188 691h0M171 594h0M178 685h0M175 596h0M181 605h0M178 715h0M191 725h0M189 729h0M203 710h0M180 681h0M197 722h0M188 684h0M178 666h0M176 620h0M192 668h0M226 714h0M173 725h0M202 715h0M225 708h0M183 594h0M205 724h0M192 680h0M187 727h0M184 687h0M180 725h0M190 646h0M190 631h0M173 727h0M180 636h0M182 594h0M173 696h0M173 631h0M209 715h0M174 596h0M180 642h0M192 637h0M174 710h0M185 720h0M176 676h0M190 595h0M175 651h0M194 725h0M192 650h0M189 594h0M196 719h0M192 715h0M181 720h0M175 609h0M174 661h0M173 608h0M176 598h0M175 716h0M183 703h0M175 729h0M174 599h0M182 723h0M172 679h0M178 677h0M183 671h0M171 630h0M176 643h0M201 724h0M204 724h0M186 679h0M183 660h0M172 600h0M172 686h0M183 611h0M179 613h0M180 713h0M176 702h0M190 703h0M209 695h0M216 719h0M185 729h0M175 714h0M173 731h0M174 660h0M176 611h0M193 727h0M182 622h0M187 725h0M184 679h0M176 625h0M187 679h0M228 655h0M180 600h0M171 711h0M182 594h0M180 719h0M196 722h0M206 717h0M173 670h0M193 641h0M192 649h0M175 702h0M185 679h0M179 594h0M191 699h0M177 696h0M181 721h0M174 728h0M182 594h0M174 730h0M187 633h0M171 722h0M186 716h0M174 594h0M178 606h0M180 594h0M181 625h0M174 634h0M199 684h0M200 719h0M188 675h0M174 594h0M201 725h0M172 625h0M185 674h0M179 723h0M187 651h0M182 700h0M183 684h0M198 724h0M187 622h0M177 722h0M188 711h0M173 661h0M176 641h0M176 717h0M201 723h0M174 721h0M174 657h0M176 726h0M185 628h0M173 662h0M178 726h0M179 633h0M177 669h0M209 723h0M185 691h0M173 618h0M178 703h0M186 713h0M176 731h0M171 648h0M183 640h0M182 724h0M175 627h0M191 727h0M171 698h0M175 594h0M176 707h0M176 700h0M174 622h0M185 594h0M172 723h0M205 718h0M181 724h0M174 613h0M180 626h0M183 709h0M174 633h0M182 728h0M189 714h0M174 661h0M189 708h0M199 696h0M181 718h0M223 640h0M194 691h0M179 695h0M211 681h0M193 675h0M175 649h0M175 718h0M174 594h0M199 661h0M178 727h0M180 622h0M198 727h0M185 666h0M174 728h0M180 694h0M208 723h0M179 640h0M182 598h0M180 633h0M189 712h0M172 697h0M193 690h0M182 632h0M172 638h0M195 673h0M174 677h0M190 726h0M180 700h0M185 695h0M176 729h0M180 602h0M180 723h0M181 726h0M178 645h0M180 659h0M178 665h0M186 729h0M187 642h0M196 716h0M177 692h0M203 689h0M181 678h0M173 670h0M179 700h0M171 619h0M184 709h0M178 728h0M208 724h0M201 721h0M197 726h0M175 625h0M178 715h0M171 691h0M191 594h0M173 599h0M198 727h0M172 644h0M209 724h0M185 726h0M172 614h0M203 712h0M192 631h0M189 727h0M180 655h0M173 730h0M229 715h0M184 632h0M174 594h0M172 657h0M172 647h0M194 711h0M183 729h0M179 690h0M179 697h0M178 688h0M189 697h0M173 704h0M187 643h0M180 594h0M173 716h0M179 632h0M204 725h0M172 677h0M200 717h0M177 730h0M182 670h0M174 632h0M187 706h0M197 688h0M186 660h0M180 680h0M181 668h0M174 608h0M176 727h0M180 719h0M178 636h0M197 727h0M186 712h0M178 690h0M189 721h0M179 596h0M173 731h0M173 690h0M177 723h0M186 594h0M185 723h0M186 708h0M184 703h0M182 618h0M181 729h0M192 728h0M173 709h0M196 642h0M197 705h0M191 724h0M178 618h0M174 601h0M179 668h0M171 713h0M184 725h0M216 719h0M178 594h0M208 695h0M179 692h0M200 717h0M201 726h0M198 646h0M189 706h0M200 703h0M195 717h0M185 594h0M177 610h0M179 692h0M204 719h0M201 721h0M179 694h0M176 594h0M174 681h0M178 646h0M182 594h0M174 707h0M183 726h0M173 594h0M171 697h0M193 725h0M178 680h0M176 596h0M202 703h0M186 595h0M177 719h0M193 673h0M187 613h0M174 651h0M196 727h0M179 598h0M180 636h0M194 721h0M181 689h0M172 694h0M176 680h0M197 686h0M180 717h0M173 714h0M194 635h0M183 699h0M203 693h0M200 655h0M205 719h0M203 721h0M173 723h0M200 726h0M196 657h0M178 664h0M176 716h0M190 708h0M183 708h0M188 702h0M180 594h0M176 728h0M173 638h0M193 654h0M176 653h0M174 694h0M192 595h0M207 700h0M174 725h0M189 640h0M185 650h0M174 678h0M172 615h0M171 601h0M183 636h0M183 661h0M193 679h0M183 729h0M180 689h0M184 638h0M193 727h0M171 716h0M183 724h0M192 727h0M207 706h0M176 717h0M206 699h0M182 623h0M182 699h0M216 720h0M172 630h0M187 695h0M175 596h0M179 667h0M184 725h0M184 634h0M190 654h0M173 727h0M191 604h0M188 642h0M211 680h0M171 723h0M177 703h0M207 718h0M176 628h0M211 691h0M186 629h0M180 728h0M180 707h0M171 715h0M192 639h0M185 599h0M183 667h0M210 723h0M173 613h0M198 715h0M177 645h0M172 622h0M172 638h0M190 695h0M181 614h0M192 726h0M183 618h0M188 714h0M178 597h0M191 633h0M227 715h0M186 699h0M184 720h0M177 657h0M175 604h0M186 669h0M191 662h0M177 666h0M179 707h0M173 594h0M173 703h0M184 725h0M194 721h0M186 688h0M210 701h0M179 673h0M175 714h0M171 714h0M178 594h0M183 603h0M185 713h0M173 678h0M174 653h0M188 674h0M176 716h0M184 594h0M202 726h0M174 672h0M194 723h0M173 594h0M204 660h0M203 690h0M185 668h0M173 603h0M180 709h0M179 626h0M221 713h0M181 621h0M186 705h0M182 624h0M189 728h0M183 696h0M203 724h0M194 726h0M178 658h0M181 632h0M186 729h0M193 727h0M178 673h0M184 728h0M188 699h0M180 640h0M180 709h0M203 712h0M171 619h0M171 691h0M178 594h0M182 713h0M206 708h0M189 715h0M172 702h0M175 594h0M173 668h0M188 712h0M188 720h0M171 594h0M175 643h0M183 622h0M198 726h0M189 697h0M171 729h0M181 727h0M185 616h0M177 652h0M206 723h0M171 594h0M178 715h0M184 729h0M194 726h0M232 708h0M199 689h0M215 718h0M173 658h0M176 698h0M176 672h0M221 668h0M177 621h0M194 688h0M180 598h0M180 679h0M174 692h0M175 661h0M174 717h0M185 716h0M181 609h0M185 698h0M178 685h0M172 722h0M212 702h0M199 723h0M178 713h0M174 600h0M201 725h0M193 709h0M206 696h0M173 721h0M182 655h0M178 730h0" stroke="#ff4310" stroke-width="2.1" stroke-linecap="round" fill="none"/>
<polygon points="85.4,297.0 90.7,297.0 102.5,364.1 101.7,365.6 85.4,365.6" fill="#ff4310" opacity="0.55"/>
<path d="M85.4 297.0H96.8" stroke="#ff4310" stroke-width="1.1" fill="none"/>
<path d="M96.8 297.0H112.8" stroke="#ff4310" stroke-width="1.0" stroke-dasharray="1.1 1.5" fill="none"/>
<rect x="81.2" y="353.6" width="4.3" height="12" fill="#d8d4cc"/>
<path d="M40.4 365.6H126.5" stroke="#707070" stroke-width="1.9"  stroke-dasharray="8.5 5.5" fill="none"/>
<path d="M81.2 285.9V369.9M85.4 285.9V369.9" stroke="#000" stroke-width="1.1" stroke-dasharray="4.5 1.5" fill="none"/>
<rect x="40.4" y="285.9" width="86.1" height="84.0" fill="none" stroke="#000" stroke-width="1.3"/>
<text x="83.60" y="282.50" font-size="5.0" font-weight="bold" text-anchor="middle" fill="#000">D2_vs_D3</text>
<text x="84.30" y="380.30" font-size="5.0" font-weight="bold" text-anchor="middle" fill="#000">log2(FC)</text>
<text x="28.80" y="327.90" font-size="4.8" font-weight="bold" text-anchor="middle" fill="#000" transform="rotate(-90 28.80 327.90)">-log10(FDR)</text>
<text x="38.70" y="368.00" font-size="3.6" font-weight="bold" text-anchor="end" fill="#000">0</text>
<path d="M38.9 365.9h1.5" stroke="#000" stroke-width=".5"/>
<text x="38.70" y="345.03" font-size="3.6" font-weight="bold" text-anchor="end" fill="#000">100</text>
<path d="M38.9 342.9h1.5" stroke="#000" stroke-width=".5"/>
<text x="38.70" y="322.07" font-size="3.6" font-weight="bold" text-anchor="end" fill="#000">200</text>
<path d="M38.9 320.0h1.5" stroke="#000" stroke-width=".5"/>
<text x="38.70" y="299.10" font-size="3.6" font-weight="bold" text-anchor="end" fill="#000">300</text>
<path d="M38.9 297.0h1.5" stroke="#000" stroke-width=".5"/>
<text x="40.50" y="374.60" font-size="3.6" font-weight="bold" text-anchor="middle" fill="#000">-20</text>
<path d="M40.5 369.9v1.3" stroke="#000" stroke-width=".5"/>
<text x="61.90" y="374.60" font-size="3.6" font-weight="bold" text-anchor="middle" fill="#000">-10</text>
<path d="M61.9 369.9v1.3" stroke="#000" stroke-width=".5"/>
<text x="83.30" y="374.60" font-size="3.6" font-weight="bold" text-anchor="middle" fill="#000">0</text>
<path d="M83.3 369.9v1.3" stroke="#000" stroke-width=".5"/>
<text x="104.70" y="374.60" font-size="3.6" font-weight="bold" text-anchor="middle" fill="#000">10</text>
<path d="M104.7 369.9v1.3" stroke="#000" stroke-width=".5"/>
<text x="126.10" y="374.60" font-size="3.6" font-weight="bold" text-anchor="middle" fill="#000">20</text>
<path d="M126.1 369.9v1.3" stroke="#000" stroke-width=".5"/>
<circle cx="131.2" cy="327.2" r=".75" fill="#ff4310"/>
<text x="133.00" y="328.20" font-size="3.2" text-anchor="start" fill="#000">up</text>
<circle cx="131.2" cy="330.5" r=".75" fill="#cfcac0"/>
<text x="133.00" y="331.50" font-size="3.2" text-anchor="start" fill="#000">nosig</text>
<circle cx="131.2" cy="333.8" r=".75" fill="#129a3c"/>
<text x="133.00" y="334.80" font-size="3.2" text-anchor="start" fill="#000">down</text>
<path transform="scale(.5)" d="M409 710h0M400 707h0M409 711h0M417 689h0M426 702h0M425 709h0M421 724h0M429 646h0M431 612h0M425 707h0M428 661h0M420 663h0M431 719h0M428 718h0M422 637h0M430 650h0M408 699h0M403 709h0M429 594h0M392 716h0M422 725h0M416 723h0M419 693h0M430 594h0M422 727h0M429 605h0M415 681h0M426 662h0M410 723h0M428 686h0M420 682h0M429 728h0M410 726h0M426 696h0M430 714h0M423 712h0M418 641h0M398 725h0M400 720h0M427 603h0M394 695h0M425 603h0M423 690h0M428 594h0M422 664h0M430 711h0M428 594h0M432 608h0M425 721h0M414 635h0M417 617h0M424 652h0M422 638h0M431 594h0M425 678h0M431 726h0M397 723h0M420 673h0M430 646h0M424 679h0M426 628h0M414 728h0M427 696h0M395 718h0M415 644h0M398 725h0M420 715h0M427 648h0M419 697h0M416 672h0M430 728h0M424 723h0M406 704h0M422 700h0M426 715h0M411 718h0M430 645h0M426 717h0M413 717h0M429 712h0M426 690h0M427 624h0M431 594h0M431 727h0M416 624h0M419 671h0M396 700h0M417 711h0M430 636h0M423 672h0M429 713h0M420 728h0M422 690h0M428 701h0M429 594h0M421 670h0M428 594h0M428 597h0M423 662h0M424 728h0M428 722h0M416 729h0M404 671h0M418 722h0M413 692h0M431 665h0M431 603h0M419 667h0M403 723h0M430 632h0M430 640h0M400 684h0M431 612h0M427 726h0M427 703h0M426 730h0M422 693h0M404 724h0M428 594h0M429 594h0M404 725h0M426 687h0M424 619h0M430 624h0M430 663h0M416 686h0M421 659h0M414 656h0M431 595h0M432 706h0M425 648h0M420 729h0M425 680h0M425 645h0M424 607h0M432 684h0M419 717h0M421 720h0M431 694h0M428 628h0M423 725h0M431 637h0M399 719h0M427 725h0M416 726h0M418 719h0M419 711h0M429 718h0M423 717h0M431 594h0M427 611h0M427 709h0M418 677h0M427 708h0M420 723h0M411 726h0M395 721h0M392 715h0M430 729h0M408 702h0M414 672h0M420 730h0M418 704h0M430 719h0M430 672h0M428 598h0M403 724h0M430 667h0M432 602h0M428 640h0M407 692h0M429 594h0M431 594h0M431 638h0M430 729h0M429 619h0M405 614h0M413 718h0M431 693h0M426 649h0M425 675h0M428 723h0M381 717h0M413 729h0M429 701h0M423 703h0M408 709h0M412 720h0M385 688h0M397 724h0M427 728h0M415 714h0M411 728h0M425 721h0M418 702h0M396 720h0M388 720h0M428 665h0M423 730h0M428 671h0M419 697h0M413 718h0M425 665h0M429 661h0M429 657h0M428 594h0M413 694h0M430 718h0M415 691h0M432 729h0M406 727h0M413 661h0M430 613h0M418 727h0M419 633h0M430 697h0M429 679h0M408 720h0M431 619h0M427 597h0M424 714h0M422 627h0M413 690h0M429 626h0M430 685h0M416 679h0M402 700h0M429 730h0M398 725h0M424 730h0M423 717h0M414 671h0M421 711h0M429 724h0M426 594h0M427 711h0M424 702h0M432 610h0M431 639h0M421 722h0M422 724h0M402 717h0M420 707h0M411 726h0M423 721h0M414 724h0M419 661h0M430 605h0M422 614h0M411 622h0M425 594h0M397 697h0M423 656h0M431 721h0M409 721h0M424 721h0M411 637h0M424 610h0M429 641h0M408 705h0M415 696h0M428 629h0M429 610h0M412 719h0M432 597h0M423 686h0M428 684h0M426 689h0M423 623h0M424 719h0M407 728h0M408 662h0M432 653h0M432 595h0M408 711h0M420 711h0M432 621h0M431 729h0M416 693h0M429 711h0M409 687h0M429 601h0M416 683h0M418 663h0M382 628h0M431 725h0M431 729h0M422 723h0M429 695h0M417 710h0M427 725h0M412 671h0M428 644h0M425 719h0M423 629h0M413 713h0M429 637h0M432 598h0M426 654h0M428 731h0M429 704h0M425 724h0M404 724h0M425 720h0M418 729h0M411 671h0M427 594h0M425 634h0M426 730h0M405 698h0M430 724h0M431 645h0M432 708h0M394 724h0M427 701h0M420 626h0M417 655h0M428 726h0M413 719h0M426 703h0M422 669h0M428 728h0M399 725h0M431 628h0M428 694h0M427 696h0M403 711h0M420 676h0M431 597h0M419 721h0M408 726h0M412 724h0M423 686h0M425 727h0M417 658h0M402 711h0M419 726h0M431 701h0M416 705h0M406 699h0M430 723h0M424 729h0M408 635h0M425 644h0M419 613h0M432 690h0M406 727h0M419 722h0M422 638h0M423 718h0M427 610h0M426 616h0M417 640h0M421 729h0M431 594h0M410 666h0M417 664h0M428 677h0M397 722h0M419 656h0M430 644h0M419 668h0M378 714h0M419 722h0M426 612h0M419 727h0M395 642h0M399 706h0M428 650h0M430 643h0M425 716h0M425 643h0M425 730h0M430 632h0M425 594h0M406 677h0M419 647h0M431 594h0M424 725h0M429 667h0M429 594h0M427 624h0M415 617h0M416 708h0M411 707h0M426 640h0M417 705h0M398 725h0M414 674h0M426 686h0M415 726h0M428 615h0M409 716h0M424 726h0M430 676h0M421 715h0M419 708h0M414 729h0M421 719h0M424 614h0M421 653h0M406 723h0M427 730h0M431 703h0M429 611h0M431 688h0M422 664h0M414 729h0M431 594h0M428 729h0M429 622h0M414 646h0M430 594h0M417 693h0M431 668h0M425 685h0M432 603h0M426 695h0M421 714h0M426 667h0M431 647h0M408 697h0M432 595h0M409 715h0M421 616h0M425 678h0M427 632h0M426 729h0M416 681h0M412 727h0M421 715h0M403 717h0M425 720h0M410 721h0M431 722h0M427 717h0M406 727h0M415 719h0M400 725h0M400 713h0M428 706h0M424 665h0M422 725h0M416 720h0M418 727h0M427 656h0M408 728h0M432 594h0M419 725h0M421 602h0M426 731h0M428 675h0M429 594h0M409 696h0M411 637h0M409 719h0M425 693h0M419 710h0M428 701h0M428 615h0M416 729h0M420 607h0M428 677h0M412 623h0M427 725h0M409 727h0M431 617h0M413 727h0M432 594h0M428 608h0M426 645h0M426 618h0M413 672h0M429 719h0M430 594h0M426 705h0M420 724h0M427 612h0M423 727h0M429 620h0M424 726h0M416 721h0M416 676h0M431 681h0M421 716h0M431 721h0M431 717h0M421 726h0M421 594h0M428 594h0M429 609h0M432 696h0M425 662h0M425 726h0M402 726h0M425 680h0M414 639h0M418 709h0M431 603h0M427 729h0M424 665h0M414 707h0M424 707h0M428 606h0M430 726h0M430 619h0M427 632h0M430 594h0M420 726h0M425 691h0M387 719h0M431 610h0M427 603h0M427 716h0M427 697h0M413 710h0M417 693h0M422 688h0M429 601h0M432 599h0M420 642h0M431 673h0M426 619h0M392 711h0M429 700h0M416 623h0M385 719h0M424 686h0M423 728h0M411 723h0M425 642h0M398 670h0M398 718h0M430 684h0M428 718h0M425 594h0M422 718h0M414 717h0M414 729h0M426 729h0M428 724h0M406 700h0M420 715h0M408 713h0M432 594h0M427 594h0M428 728h0M432 610h0M432 608h0M415 700h0M424 609h0M424 594h0M410 677h0M420 622h0M427 614h0M405 718h0M422 659h0M423 595h0M386 720h0M419 694h0M428 680h0M403 722h0M421 724h0M426 708h0M428 673h0M423 662h0M411 684h0M413 716h0M431 717h0M421 729h0M423 680h0M418 730h0M432 654h0M427 723h0M431 714h0M427 724h0M424 684h0M418 700h0M408 726h0M420 650h0M430 710h0M428 601h0M430 664h0M424 656h0M431 691h0M422 728h0M424 696h0M428 610h0M394 723h0M420 692h0M420 718h0M432 597h0M431 697h0M411 681h0M396 723h0M426 728h0M421 670h0M392 702h0M429 604h0M426 627h0M425 646h0M424 653h0M429 720h0M420 663h0M431 669h0M428 720h0M430 662h0M395 719h0M420 694h0M430 595h0M424 595h0M379 712h0M417 725h0M431 728h0M404 709h0M416 724h0M423 662h0M417 729h0M423 621h0M415 683h0M431 603h0M407 709h0M428 594h0M409 704h0M421 680h0M423 729h0M429 610h0M432 700h0M420 693h0M426 594h0M419 710h0M413 712h0M421 711h0M420 707h0M413 702h0M428 594h0M420 719h0M422 684h0M426 629h0M412 720h0M429 649h0M415 707h0M427 633h0M414 728h0M406 727h0M410 721h0M400 659h0M424 627h0M414 696h0M423 666h0M430 608h0M419 722h0M419 726h0M418 718h0M421 648h0M403 724h0M425 627h0M421 704h0M423 706h0M427 662h0M411 678h0M424 710h0M419 671h0M416 623h0M421 729h0M426 632h0M411 717h0M427 630h0M408 724h0M431 668h0M432 712h0M416 724h0M431 594h0M423 694h0M423 719h0M430 633h0M429 635h0M432 685h0M432 594h0M409 697h0M413 722h0M423 611h0M415 717h0M431 685h0M422 664h0M425 704h0M411 711h0M427 594h0M428 722h0M431 625h0M427 656h0M431 594h0M424 722h0M424 717h0M426 639h0M427 709h0M426 721h0M423 655h0M424 633h0M412 696h0M413 703h0M422 619h0M430 729h0M404 723h0M401 724h0M416 664h0M426 609h0M420 616h0M410 716h0M416 672h0M425 633h0M401 706h0M424 660h0M393 722h0M414 726h0M421 681h0M422 677h0M419 636h0M428 636h0M421 718h0M408 708h0M426 594h0M425 709h0M431 616h0M408 722h0M417 668h0M396 708h0M432 600h0M405 710h0M428 601h0M429 685h0M429 721h0M426 730h0M426 624h0M429 696h0M419 726h0M416 717h0M428 609h0M430 605h0M412 713h0M428 594h0M412 721h0M416 725h0M425 668h0M418 663h0M409 693h0M426 668h0M432 639h0M429 659h0M428 654h0M430 719h0M416 720h0M425 714h0M427 730h0M425 673h0M417 701h0M431 599h0M429 613h0M428 641h0M431 655h0M409 719h0M401 716h0M410 728h0M416 646h0M427 606h0M410 715h0M388 711h0M430 727h0M432 721h0M419 726h0M428 630h0M427 608h0M426 629h0M427 598h0M431 594h0M424 686h0M423 599h0M413 716h0M402 707h0M430 606h0M417 702h0M432 629h0M427 718h0M421 705h0M428 724h0M431 601h0M403 725h0M425 648h0M417 698h0M423 678h0M427 714h0M413 675h0M426 618h0M429 600h0M404 720h0M427 613h0M429 671h0M432 694h0M428 707h0M428 661h0M425 708h0M410 678h0M416 643h0M424 725h0M425 702h0M420 687h0M425 686h0M430 630h0M420 695h0M409 706h0M428 717h0M394 724h0M425 674h0M413 728h0M424 710h0M418 700h0M429 719h0M414 723h0M418 728h0M430 602h0M422 721h0M397 716h0M431 724h0M431 595h0M421 729h0M385 720h0M422 644h0M427 727h0M427 626h0M430 724h0M422 626h0M427 610h0M406 658h0M422 720h0M428 640h0M430 685h0M424 709h0M424 618h0M421 714h0M426 617h0M417 727h0M432 636h0M430 706h0M425 701h0M419 648h0M430 713h0M430 638h0M428 594h0M422 626h0M414 726h0M427 640h0M431 723h0M427 700h0M431 594h0M430 597h0M426 718h0M427 645h0M414 631h0M424 723h0M428 688h0M414 720h0M418 644h0M429 679h0M422 594h0M413 728h0M413 724h0M421 654h0M425 698h0M388 721h0M405 715h0M427 710h0M422 711h0M425 633h0M426 615h0M421 712h0M428 641h0M416 725h0M431 639h0M412 718h0M414 696h0M398 722h0M429 689h0M416 717h0M417 727h0M412 728h0M413 685h0M431 619h0M426 643h0M400 723h0M424 640h0M424 664h0M423 705h0M431 671h0M432 608h0M419 681h0M425 728h0M431 620h0M429 597h0M425 728h0M418 666h0M432 660h0M422 721h0M427 729h0M413 710h0M389 722h0M424 720h0M420 727h0M421 619h0M425 613h0M422 603h0M423 730h0M431 703h0M425 619h0M418 682h0M396 714h0M432 715h0M380 695h0M428 659h0M402 726h0M413 728h0M431 729h0M411 705h0M424 603h0M414 651h0M416 719h0M431 695h0M427 731h0M418 711h0M421 687h0M403 719h0M430 609h0M423 654h0M427 594h0M405 727h0M422 644h0M431 682h0M421 650h0M431 730h0M428 640h0M428 642h0M409 701h0M419 727h0M430 721h0M409 704h0M413 713h0M417 727h0M429 731h0M421 726h0M427 646h0M414 691h0M431 723h0M423 709h0M410 696h0M427 594h0M430 594h0M421 676h0M430 713h0M427 724h0M404 695h0M426 683h0M427 720h0M419 723h0M420 638h0M428 653h0M415 704h0M425 692h0M428 728h0M416 681h0M424 721h0M423 722h0M403 726h0M422 671h0M419 645h0M388 704h0M421 672h0M427 714h0M425 607h0M431 620h0M424 729h0M421 724h0M432 614h0M428 598h0M429 686h0M400 725h0M427 602h0M431 603h0M432 602h0M407 643h0M419 725h0M430 635h0M416 724h0M387 718h0M425 668h0M423 711h0M423 686h0M416 693h0M416 694h0M427 663h0M406 705h0M410 722h0M425 706h0M430 677h0M427 729h0M432 690h0M412 712h0M420 625h0M392 713h0M426 712h0M428 700h0M407 703h0M414 710h0M420 659h0M423 662h0M430 600h0M431 719h0M431 720h0M416 618h0M431 643h0M411 674h0M411 729h0M425 657h0M402 704h0M422 654h0M421 644h0M416 705h0M430 716h0M415 725h0M400 724h0M426 707h0M426 614h0M427 687h0M431 594h0M426 646h0M411 723h0M425 597h0M390 722h0M407 716h0M408 689h0M425 657h0M412 723h0M379 716h0M431 622h0M431 612h0M421 711h0M392 723h0M420 729h0M432 720h0M427 604h0M425 594h0M428 729h0M430 594h0M431 594h0M432 728h0M428 713h0M409 685h0M409 707h0M427 697h0M425 710h0M416 723h0M429 718h0M431 612h0M424 633h0M423 617h0M429 687h0M429 604h0M428 609h0M430 594h0M430 655h0M398 695h0M428 625h0M403 725h0M404 714h0M415 729h0M428 686h0M418 621h0M429 730h0M416 723h0M419 672h0M424 619h0M415 690h0M415 676h0M424 729h0M421 632h0M418 725h0M425 627h0M404 690h0M422 633h0M406 726h0M429 605h0M429 690h0M419 695h0M421 695h0M384 673h0M429 602h0M409 694h0M384 718h0M431 720h0M432 666h0M422 717h0M426 680h0M431 731h0M421 701h0M420 708h0M420 687h0M432 696h0M421 707h0M411 666h0M429 698h0M413 728h0M416 635h0M432 731h0M422 716h0M429 718h0M430 629h0M426 619h0M428 594h0M422 637h0M425 686h0M420 658h0M432 612h0M428 730h0M428 709h0M423 716h0M394 719h0M426 613h0M431 615h0M413 725h0M413 673h0M431 693h0M413 707h0M404 686h0M429 594h0M404 724h0M413 613h0M427 690h0M428 725h0M428 706h0M411 726h0M398 696h0M426 594h0M432 728h0M417 683h0M422 725h0M414 710h0M427 672h0M416 722h0M430 596h0M424 689h0M405 680h0M426 681h0M422 724h0M421 703h0M418 645h0M425 693h0M428 627h0M404 661h0M397 698h0M425 720h0M418 728h0M412 728h0M431 594h0M409 727h0M424 621h0M420 720h0M429 647h0M418 730h0M421 704h0M430 670h0M415 683h0M427 594h0M427 649h0M427 613h0M425 666h0M423 724h0M421 711h0M430 712h0M429 606h0M407 694h0M425 713h0M429 676h0M415 690h0M419 723h0M424 704h0M431 671h0M427 594h0M421 608h0M429 723h0M414 721h0M424 729h0M419 712h0M426 680h0M417 715h0M422 687h0M422 712h0M432 697h0M418 691h0M411 711h0M417 671h0M428 621h0M430 594h0M415 729h0M415 720h0M431 663h0M431 594h0M429 726h0M432 719h0M429 601h0M416 725h0M423 714h0M403 722h0M412 684h0M414 716h0M429 674h0M430 595h0M420 700h0M413 716h0M424 727h0M426 730h0M423 678h0M427 601h0M424 606h0M428 629h0M431 594h0M387 704h0M429 622h0M430 656h0M399 682h0M419 695h0M410 708h0M407 721h0M431 712h0M428 594h0M420 694h0M401 722h0M414 715h0M429 726h0M418 716h0M432 594h0M422 694h0M422 711h0M426 705h0M432 660h0M416 687h0M428 594h0M423 665h0M427 594h0M430 599h0M426 629h0M421 611h0M414 701h0M427 627h0M429 713h0M424 725h0M430 665h0M431 715h0M426 611h0M414 713h0M424 700h0M425 639h0M425 717h0M416 695h0M427 698h0M431 615h0M431 597h0M431 597h0M428 728h0M429 690h0M422 670h0M408 701h0M431 705h0M431 713h0M423 638h0M431 678h0M403 721h0M414 677h0M423 647h0M422 725h0M425 601h0M425 656h0M428 594h0M409 712h0M431 594h0M398 725h0M421 722h0M427 690h0M409 670h0M424 646h0M425 630h0M415 720h0M426 731h0M431 690h0M431 697h0M423 643h0M423 709h0M421 623h0M402 725h0M409 697h0M430 640h0M413 727h0M425 723h0M421 727h0M427 626h0M421 634h0M420 694h0M423 669h0M428 594h0M399 721h0M416 721h0M421 720h0M428 612h0M430 602h0M411 729h0M431 604h0M430 594h0M423 706h0M417 682h0M419 715h0M380 717h0M418 627h0M426 594h0M417 730h0M413 664h0M413 699h0M424 694h0M431 670h0M418 725h0M430 714h0M393 718h0M429 714h0M424 689h0M421 635h0M420 728h0M418 690h0M415 724h0M423 696h0M421 719h0M429 642h0M426 677h0M429 603h0M427 713h0M431 724h0M427 656h0M394 720h0M428 664h0M412 687h0M402 712h0M432 663h0M430 730h0M431 603h0M426 595h0M428 646h0M428 627h0M415 727h0M427 724h0M416 717h0M423 670h0M431 654h0M419 697h0M422 625h0M411 719h0M412 705h0M420 716h0M412 708h0M428 731h0M412 699h0M427 678h0M418 611h0M428 594h0M411 662h0M426 728h0M428 715h0M431 594h0M422 618h0M415 662h0M426 623h0M421 723h0M417 702h0M419 651h0M426 707h0M431 714h0M404 722h0M422 719h0M427 650h0M425 609h0M428 716h0M414 650h0M420 674h0M426 603h0M423 711h0M421 602h0M410 663h0M429 628h0M430 594h0M429 624h0M417 727h0M430 729h0M428 637h0M430 600h0M421 692h0M413 670h0M430 607h0M404 679h0M377 716h0M432 662h0M430 689h0M420 722h0M432 602h0M423 720h0M385 720h0M428 694h0M429 724h0M429 722h0M425 602h0M422 599h0M424 727h0M421 672h0M412 725h0M420 642h0M431 692h0M415 729h0M410 726h0M424 701h0M430 728h0M421 729h0M426 594h0M430 642h0M420 700h0M417 647h0M431 728h0M411 708h0M422 730h0M426 685h0M430 595h0M429 594h0M428 632h0M422 594h0M423 646h0M431 694h0M425 668h0M415 696h0M424 723h0M429 722h0M416 664h0M419 653h0M428 598h0M429 647h0M409 727h0M403 718h0M429 710h0M430 731h0M429 601h0M428 652h0M398 716h0M406 718h0M425 689h0M419 712h0M429 606h0M421 631h0M416 666h0M431 730h0M416 640h0M407 715h0M403 724h0M425 594h0M403 724h0M425 594h0M418 727h0M407 688h0M431 618h0M431 594h0M431 717h0M413 728h0M430 712h0M417 686h0M396 712h0M421 594h0M431 654h0M429 726h0M427 687h0M431 700h0M415 721h0M413 704h0M400 659h0M431 619h0M427 658h0M428 595h0M410 724h0M409 716h0M431 599h0M426 602h0M410 700h0M423 612h0M426 611h0M418 687h0M407 708h0M429 709h0M417 708h0M410 705h0M428 699h0M426 611h0" stroke="#129a3c" stroke-width="2.1" stroke-linecap="round" fill="none"/>
<polygon points="216.0,297.0 213.5,297.0 202.6,364.1 203.5,365.6 216.0,365.6" fill="#129a3c" opacity="0.55"/>
<path d="M216.0 297.0H207.5" stroke="#129a3c" stroke-width="1.1" fill="none"/>
<path d="M207.5 297.0H195.6" stroke="#129a3c" stroke-width="1.0" stroke-dasharray="1.1 1.5" fill="none"/>
<path transform="scale(.5)" d="M461 724h0M480 708h0M462 702h0M442 595h0M447 597h0M468 684h0M444 640h0M458 724h0M458 663h0M451 594h0M469 725h0M441 673h0M493 647h0M442 721h0M449 658h0M447 641h0M451 668h0M459 729h0M441 690h0M461 702h0M449 594h0M452 692h0M450 670h0M457 701h0M461 708h0M445 640h0M449 721h0M451 727h0M443 618h0M448 620h0M461 729h0M444 675h0M471 704h0M447 730h0M471 675h0M443 718h0M443 679h0M445 714h0M455 681h0M453 715h0M453 730h0M443 645h0M443 598h0M444 600h0M458 631h0M451 689h0M449 722h0M442 691h0M461 722h0M446 726h0M445 704h0M444 617h0M449 706h0M455 683h0M473 670h0M442 702h0M447 664h0M454 689h0M445 594h0M452 648h0M456 633h0M462 643h0M457 663h0M450 705h0M461 708h0M460 726h0M453 630h0M457 704h0M469 714h0M470 697h0M472 697h0M445 722h0M446 694h0M457 628h0M453 594h0M457 696h0M446 730h0M448 594h0M443 670h0M460 673h0M451 703h0M457 720h0M454 695h0M442 594h0M443 699h0M441 661h0M462 643h0M455 609h0M443 622h0M468 698h0M450 603h0M498 715h0M442 617h0M456 730h0M465 630h0M450 659h0M463 670h0M453 723h0M447 616h0M457 713h0M452 640h0M449 726h0M452 664h0M451 673h0M469 683h0M458 721h0M444 685h0M451 729h0M466 674h0M450 594h0M481 723h0M463 723h0M447 662h0M456 709h0M449 723h0M450 640h0M464 715h0M453 695h0M451 612h0M443 719h0M465 657h0M446 727h0M449 603h0M463 715h0M453 657h0M445 624h0M451 693h0M456 727h0M478 723h0M449 594h0M452 666h0M452 697h0M453 617h0M447 669h0M443 679h0M441 730h0M481 723h0M457 648h0M442 662h0M448 729h0M452 655h0M454 649h0M456 730h0M451 726h0M472 692h0M449 638h0M460 674h0M445 730h0M450 707h0M443 677h0M448 680h0M462 716h0M458 728h0M466 725h0M464 721h0M455 719h0M442 712h0M442 637h0M443 638h0M448 724h0M445 690h0M453 693h0M441 702h0M448 635h0M448 613h0M457 624h0M451 624h0M441 617h0M449 696h0M458 713h0M448 711h0M445 722h0M448 697h0M443 594h0M479 703h0M453 642h0M466 724h0M449 675h0M441 690h0M443 600h0M454 628h0M455 712h0M458 723h0M441 683h0M450 726h0M458 716h0M446 680h0M471 709h0M458 729h0M443 597h0M456 727h0M443 714h0M443 594h0M443 714h0M444 677h0M452 695h0M453 640h0M446 630h0M472 725h0M448 704h0M448 613h0M476 721h0M452 690h0M479 721h0M456 676h0M464 654h0M458 707h0M442 685h0M474 698h0M465 722h0M444 594h0M455 642h0M444 703h0M459 668h0M453 649h0M452 699h0M463 621h0M450 728h0M451 701h0M446 693h0M465 708h0M448 727h0M474 713h0M451 716h0M478 715h0M450 641h0M463 691h0M450 684h0M497 716h0M449 604h0M453 655h0M449 700h0M459 726h0M449 703h0M450 727h0M451 594h0M491 710h0M443 675h0M472 706h0M450 644h0M441 712h0M441 659h0M453 617h0M452 726h0M450 631h0M442 720h0M448 616h0M449 706h0M446 727h0M446 669h0M451 629h0M448 722h0M466 723h0M460 698h0M451 679h0M456 653h0M474 700h0M443 720h0M460 669h0M445 623h0M462 728h0M450 599h0M461 687h0M445 713h0M452 719h0M447 679h0M456 632h0M449 594h0M442 681h0M470 711h0M444 720h0M460 724h0M449 683h0M450 710h0M442 639h0M465 726h0M441 638h0M464 716h0M462 654h0M447 667h0M448 683h0M464 718h0M498 594h0M449 670h0M453 645h0M442 600h0M466 719h0M464 671h0M460 698h0M444 631h0M448 607h0M447 707h0M444 643h0M487 721h0M441 612h0M444 594h0M444 716h0M443 594h0M453 712h0M459 729h0M447 637h0M448 594h0M449 696h0M466 700h0M457 626h0M451 598h0M451 722h0M455 640h0M459 617h0M455 637h0M444 625h0M443 668h0M481 717h0M454 717h0M448 646h0M448 603h0M444 712h0M443 725h0M448 620h0M475 724h0M441 723h0M454 666h0M441 728h0M451 721h0M464 680h0M453 730h0M441 623h0M468 713h0M464 694h0M449 618h0M449 602h0M445 604h0M448 616h0M458 724h0M448 594h0M447 727h0M454 642h0M448 698h0M443 610h0M468 716h0M445 699h0M447 641h0M450 697h0M449 725h0M448 724h0M475 716h0M479 721h0M445 665h0M445 693h0M459 729h0M467 716h0M450 701h0M464 728h0M442 600h0M446 682h0M462 638h0M449 730h0M447 599h0M453 723h0M453 704h0M447 632h0M449 693h0M446 730h0M454 688h0M445 672h0M444 664h0M467 708h0M459 727h0M473 723h0M451 690h0M444 729h0M452 712h0M446 726h0M470 666h0M457 660h0M486 688h0M443 596h0M461 688h0M449 680h0M443 640h0M458 729h0M442 728h0M501 594h0M455 702h0M478 723h0M445 598h0M444 724h0M456 710h0M458 700h0M442 672h0M453 663h0M443 668h0M443 684h0M456 727h0M449 632h0M442 713h0M458 703h0M443 638h0M472 679h0M472 706h0M446 594h0M459 696h0M445 642h0M449 678h0M444 653h0M447 623h0M450 656h0M443 651h0M444 695h0M453 594h0M448 637h0M444 594h0M450 711h0M446 603h0M461 715h0M445 669h0M453 697h0M452 715h0M473 700h0M464 635h0M444 594h0M448 594h0M470 724h0M465 727h0M441 626h0M458 717h0M471 726h0M458 715h0M453 698h0M464 704h0M452 661h0M447 594h0M449 686h0M446 610h0M446 633h0M488 720h0M450 646h0M441 713h0M453 726h0M467 711h0M443 671h0M441 608h0M445 687h0M466 700h0M455 677h0M452 636h0M462 728h0M446 610h0M446 605h0M476 722h0M441 704h0M453 615h0M443 663h0M452 644h0M477 724h0M449 636h0M441 594h0M446 686h0M455 713h0M444 594h0M454 634h0M476 723h0M446 669h0M451 714h0M448 653h0M444 715h0M444 721h0M466 686h0M463 709h0M459 714h0M449 725h0M452 611h0M450 719h0M483 711h0M449 629h0M473 603h0M475 725h0M443 662h0M444 599h0M452 717h0M451 598h0M492 666h0M443 677h0M443 712h0M486 715h0M448 595h0M450 718h0M449 727h0M467 726h0M442 731h0M466 723h0M443 594h0M464 728h0M447 692h0M453 594h0M471 722h0M465 698h0M457 644h0M446 719h0M444 594h0M452 603h0M500 594h0M442 630h0M445 707h0M467 714h0M457 708h0M453 622h0M450 621h0M447 615h0M450 723h0M477 717h0M445 594h0M490 715h0M470 691h0M477 724h0M461 688h0M446 717h0M464 643h0M452 594h0M454 619h0M451 630h0M473 711h0M444 613h0M446 717h0M467 693h0M453 683h0M443 642h0M447 718h0M443 724h0M441 713h0M448 730h0M441 613h0M447 594h0M446 712h0M457 686h0M458 701h0M443 606h0M441 728h0M456 709h0M444 665h0M444 633h0M476 723h0M452 619h0M443 649h0M446 642h0M450 730h0M445 679h0M451 730h0M446 727h0M453 636h0M454 674h0M444 660h0M453 712h0M443 719h0M448 620h0M467 686h0M464 685h0M446 673h0M454 728h0M446 664h0M479 705h0M456 623h0M445 696h0M446 660h0M446 724h0M451 721h0M467 672h0M447 677h0M445 723h0M465 704h0M441 611h0M466 685h0M447 680h0M453 677h0M476 718h0M474 670h0M456 719h0M446 697h0M447 669h0M450 624h0M446 724h0M448 632h0M455 709h0M443 606h0M442 707h0M456 648h0M442 621h0M448 728h0M450 639h0M449 594h0M449 596h0M451 664h0M460 725h0M452 717h0M444 664h0M445 605h0M443 729h0M451 640h0M445 716h0M464 719h0M444 676h0M445 729h0M457 594h0M452 714h0M479 722h0M446 728h0M465 707h0M446 725h0M448 627h0M447 605h0M450 629h0M442 718h0M441 614h0M483 702h0M469 697h0M460 727h0M455 720h0M459 656h0M446 723h0M459 717h0M441 595h0M449 638h0M465 727h0M463 716h0M448 697h0M453 610h0M441 618h0M448 668h0M451 716h0M441 640h0M453 692h0M448 596h0M452 725h0M496 689h0M479 714h0M455 619h0M447 644h0M464 723h0M447 713h0M442 648h0M453 730h0M464 726h0M443 609h0M447 622h0M453 616h0M443 605h0M469 627h0M460 722h0M445 719h0M454 594h0M449 717h0M469 725h0M459 728h0M457 728h0M451 599h0M470 706h0M463 705h0M453 722h0M445 718h0M445 689h0M490 716h0M443 716h0M448 597h0M446 696h0M442 594h0M447 699h0M441 710h0M448 638h0M445 595h0M470 726h0M465 727h0M457 729h0M464 707h0M449 721h0M446 594h0M467 693h0M448 635h0M480 707h0M442 700h0M458 726h0M462 625h0M449 688h0M459 725h0M449 720h0M501 711h0M444 625h0M469 724h0M456 641h0M468 688h0M461 723h0M447 703h0M469 725h0M461 728h0M444 701h0M450 610h0M445 727h0M450 635h0M441 618h0M457 680h0M452 609h0M459 725h0M451 726h0M443 717h0M444 594h0M442 682h0M450 594h0M459 708h0M452 684h0M450 687h0M469 688h0M476 716h0M441 726h0M448 637h0M448 731h0M445 594h0M442 668h0M448 618h0M444 680h0M466 719h0M451 606h0M445 730h0M441 713h0M455 634h0M443 618h0M455 682h0M445 594h0M443 606h0M456 707h0M451 715h0M453 638h0M458 692h0M460 712h0M453 728h0M444 712h0M444 715h0M447 677h0M451 680h0M442 721h0M465 657h0M444 730h0M497 596h0M442 645h0M444 612h0M462 614h0M453 696h0M467 727h0M448 650h0M444 640h0M453 690h0M451 714h0M449 594h0M443 711h0M454 696h0M450 700h0M498 712h0M469 726h0M442 704h0M459 729h0M443 623h0M446 692h0M459 728h0M481 718h0M450 688h0M445 676h0M444 729h0M444 730h0M446 670h0M450 631h0M445 661h0M454 707h0M461 689h0M455 617h0M441 645h0M452 638h0M456 683h0M452 634h0M471 723h0M448 685h0M444 729h0M447 708h0M462 703h0M460 727h0M466 725h0M451 699h0M470 724h0M442 730h0M442 731h0M441 692h0M464 715h0M460 681h0M479 717h0M461 722h0M445 718h0M451 613h0M443 628h0M467 706h0M475 676h0M444 609h0M444 669h0M459 728h0M461 727h0M465 692h0M456 729h0M446 721h0M450 705h0M481 722h0M446 685h0M469 727h0M445 679h0M444 706h0M450 594h0M455 628h0M442 730h0M459 656h0M452 730h0M451 683h0M466 704h0M443 722h0M457 614h0M466 719h0M482 706h0M463 708h0M452 605h0M441 727h0M462 691h0M448 721h0M449 614h0M442 624h0M459 724h0M455 623h0M462 632h0M448 628h0M442 653h0M448 730h0M461 690h0M460 668h0M442 688h0M448 622h0M456 606h0M472 716h0M447 659h0M454 627h0M443 594h0M445 678h0M441 628h0M467 686h0M451 728h0M445 731h0M445 657h0M467 726h0M458 715h0M449 721h0M445 610h0M441 691h0M453 594h0M478 698h0M456 711h0M448 651h0M458 721h0M444 670h0M454 647h0M450 703h0M445 719h0M455 686h0M450 661h0M451 719h0M444 712h0M443 731h0M477 718h0M451 643h0M472 717h0M447 723h0M448 646h0M443 594h0M469 706h0M462 660h0M444 730h0M452 689h0M450 722h0M448 668h0M447 731h0M461 726h0M443 674h0M443 722h0M446 640h0M447 729h0M442 728h0M449 614h0M466 693h0M443 620h0M446 730h0M449 727h0M454 723h0M447 675h0M465 690h0M452 594h0M473 701h0M444 605h0M462 725h0M449 708h0M455 721h0M444 717h0M442 714h0M458 715h0M447 620h0M462 714h0M447 692h0M442 629h0M444 659h0M442 695h0M442 642h0M445 700h0M453 630h0M447 681h0M468 704h0M447 621h0M443 594h0M455 597h0M456 722h0M453 725h0M474 722h0M486 694h0M444 712h0M467 635h0M466 726h0M446 724h0M466 712h0M463 651h0M458 725h0M445 646h0M442 632h0M446 594h0M450 727h0M449 676h0M448 671h0M450 688h0M446 629h0M453 594h0M451 723h0M442 614h0M446 594h0M455 673h0M467 727h0M450 695h0M461 717h0M449 613h0M460 704h0M480 720h0M443 613h0M500 704h0M454 720h0M447 730h0M443 614h0M442 729h0M443 653h0M454 598h0M443 692h0M452 636h0M450 600h0M479 713h0M454 681h0M443 657h0M448 649h0M466 721h0M443 725h0M447 595h0M441 632h0M460 719h0M464 727h0M443 603h0M456 695h0M449 643h0M465 686h0M446 698h0M441 654h0M456 666h0M448 655h0M449 628h0M453 708h0M447 729h0M452 720h0M441 598h0M447 609h0M446 729h0M449 600h0M458 702h0M454 714h0M454 702h0M453 633h0M454 714h0M447 595h0M449 599h0M463 693h0M473 715h0M466 668h0M475 725h0M441 653h0M449 639h0M450 721h0M458 718h0M466 632h0M441 632h0M456 711h0M445 670h0M445 723h0M454 707h0M443 707h0M444 622h0M458 710h0M448 731h0M472 726h0M464 717h0M452 712h0M445 706h0M443 609h0M465 727h0M452 685h0M459 687h0M470 727h0M444 721h0M468 679h0M476 722h0M444 637h0M442 606h0M455 728h0M452 667h0M451 655h0M446 700h0M472 710h0M447 727h0M453 715h0M451 675h0M453 618h0M460 722h0M460 710h0M458 700h0M451 647h0M461 722h0M443 594h0M490 719h0M451 712h0M478 724h0M444 644h0M447 602h0M443 712h0M444 677h0M458 717h0M465 726h0M453 608h0M453 725h0M476 678h0M453 695h0M470 721h0M458 684h0M446 617h0M445 703h0M443 597h0M449 721h0M444 657h0M445 661h0M444 716h0M458 726h0M446 709h0M482 705h0M478 684h0M495 715h0M441 662h0M443 727h0M460 624h0M448 622h0M442 615h0M483 722h0M459 696h0M476 720h0M445 626h0M466 723h0M452 640h0M450 629h0M454 720h0M443 693h0M442 617h0M450 718h0M446 594h0M443 594h0M453 628h0M451 624h0M459 727h0M463 614h0M471 712h0M454 700h0M447 664h0M457 673h0M454 703h0M449 660h0M447 632h0M445 645h0M459 716h0M446 597h0M441 628h0M445 690h0M450 599h0M445 594h0M458 724h0M459 700h0M464 713h0M498 715h0M450 627h0M461 663h0M448 600h0M476 723h0M461 714h0M466 683h0M458 711h0M454 702h0M442 594h0M446 691h0M462 723h0M444 630h0M464 712h0M454 692h0M460 716h0M488 691h0M449 715h0M449 718h0M481 721h0M449 617h0M447 606h0M443 671h0M458 698h0M459 625h0M447 613h0M456 638h0M446 730h0M442 693h0M473 709h0M447 626h0M475 725h0M454 728h0M442 628h0M446 710h0M455 719h0M443 605h0M456 707h0M443 626h0M491 718h0M471 717h0M465 696h0M442 714h0M458 727h0M475 698h0M455 658h0M459 724h0M446 646h0M441 706h0M444 708h0M442 700h0M466 714h0M464 712h0M447 729h0M446 720h0M465 709h0M479 723h0M447 727h0M469 722h0M470 686h0M444 648h0M442 706h0M451 709h0M448 676h0M458 608h0M449 724h0M445 634h0M442 701h0M453 701h0M472 677h0M454 631h0M444 594h0M442 623h0M457 665h0M489 719h0M462 696h0M442 598h0M458 701h0M444 594h0M465 727h0M484 671h0M447 729h0M465 697h0M477 724h0M441 705h0M456 720h0M456 719h0M445 722h0M447 604h0M450 730h0M462 727h0M441 611h0M466 653h0M447 637h0M454 611h0M464 653h0M484 715h0M447 725h0M482 706h0M451 604h0M444 594h0M450 660h0M449 708h0M454 650h0M477 723h0M453 671h0M442 610h0M448 601h0M442 632h0M441 633h0M478 724h0M459 718h0M471 726h0M463 728h0M443 715h0M471 723h0M441 720h0M455 633h0M450 624h0M442 729h0M467 714h0M459 722h0M453 709h0M444 620h0M445 722h0M441 694h0M448 637h0M442 729h0M445 665h0M451 708h0M449 717h0M456 729h0M445 653h0M448 698h0M462 722h0M441 604h0M444 722h0M464 726h0M449 700h0M470 690h0M454 685h0M448 695h0M460 712h0M443 720h0M467 702h0M446 628h0M442 623h0M447 722h0M442 609h0M456 634h0M455 691h0M449 616h0M447 594h0M459 702h0M452 711h0M454 691h0M503 713h0M460 728h0M453 694h0M451 730h0M450 594h0M458 719h0M458 618h0M456 655h0M444 647h0M456 640h0M451 622h0M443 722h0M476 689h0M441 655h0M450 663h0M466 716h0M457 608h0M444 674h0M451 625h0M453 693h0M451 684h0M441 715h0M463 699h0M450 611h0M450 614h0M466 727h0M455 719h0M445 657h0M453 641h0M446 730h0M449 680h0M492 714h0M462 727h0M441 614h0M449 633h0M465 698h0M453 669h0M458 699h0M468 670h0M442 729h0M457 696h0M449 722h0M462 719h0M474 721h0M477 712h0M446 669h0M457 729h0M455 615h0M470 670h0M452 699h0M462 683h0M444 608h0M473 725h0M445 718h0M452 712h0M445 664h0M463 714h0M444 723h0M457 615h0M451 627h0M446 668h0M466 710h0M447 727h0M485 718h0M445 699h0M463 689h0M441 594h0M448 725h0M464 722h0M450 635h0M451 720h0M448 728h0M441 599h0M492 716h0M446 725h0M442 708h0M460 728h0M444 600h0M456 707h0M469 701h0M442 594h0M447 594h0M451 681h0M483 719h0M445 700h0M447 635h0M461 617h0M457 645h0M449 657h0M441 722h0M446 667h0M494 696h0M467 727h0M447 599h0M451 608h0M483 721h0M447 714h0M443 594h0M462 725h0M443 716h0M454 721h0M460 682h0M445 684h0M482 719h0M442 693h0M458 649h0M453 723h0M463 679h0M451 730h0M459 627h0M456 699h0M468 721h0M502 711h0M460 722h0M445 634h0M442 728h0M451 728h0M447 643h0M454 699h0M443 692h0M442 705h0M450 633h0M449 611h0M453 727h0M462 717h0M459 645h0M466 684h0M451 673h0M444 639h0M441 728h0M455 699h0M468 721h0M454 594h0M461 697h0M455 716h0M459 662h0M445 728h0M442 601h0M447 723h0M463 712h0M464 725h0M443 647h0M446 694h0M446 697h0M451 715h0M452 709h0M443 641h0M448 730h0M446 603h0M449 693h0M494 717h0M453 680h0M448 710h0M464 687h0M448 693h0M446 639h0M444 725h0M454 629h0M444 725h0M445 713h0M449 641h0M455 707h0M455 706h0M446 660h0M481 716h0M456 701h0M454 714h0M447 595h0M475 660h0M445 669h0M471 716h0M445 597h0M451 673h0M455 727h0M456 677h0M450 594h0M450 665h0M467 716h0M486 719h0M444 654h0M455 653h0M445 730h0M462 696h0M450 594h0M450 621h0M451 730h0M447 689h0M447 617h0M442 595h0M446 694h0M459 594h0M443 723h0M474 707h0M473 722h0M461 631h0M451 594h0M472 722h0M451 621h0M447 663h0M452 721h0M442 722h0M463 613h0M447 724h0M453 727h0M444 726h0M451 594h0M457 729h0M444 594h0M449 594h0M471 708h0M470 723h0M461 694h0M452 721h0M452 594h0M441 724h0M466 727h0M460 728h0M450 720h0M443 613h0M449 701h0M459 698h0M465 682h0M446 605h0M454 613h0M448 629h0M463 673h0M447 704h0M449 642h0M449 669h0M445 631h0M446 594h0M442 600h0M448 672h0M466 721h0M450 718h0M470 726h0M448 661h0M447 615h0M442 723h0" stroke="#ff4310" stroke-width="2.1" stroke-linecap="round" fill="none"/>
<polygon points="220.4,297.0 224.9,297.0 235.6,364.1 234.7,365.6 220.4,365.6" fill="#ff4310" opacity="0.55"/>
<path d="M220.4 297.0H230.7" stroke="#ff4310" stroke-width="1.1" fill="none"/>
<path d="M230.7 297.0H245.4" stroke="#ff4310" stroke-width="1.0" stroke-dasharray="1.1 1.5" fill="none"/>
<rect x="216.0" y="353.6" width="4.3" height="12" fill="#d8d4cc"/>
<path d="M175.1 365.6H261.8" stroke="#707070" stroke-width="1.9"  stroke-dasharray="8.5 5.5" fill="none"/>
<path d="M216.0 285.9V369.9M220.4 285.9V369.9" stroke="#000" stroke-width="1.1" stroke-dasharray="4.5 1.5" fill="none"/>
<rect x="175.1" y="285.9" width="86.7" height="84.0" fill="none" stroke="#000" stroke-width="1.3"/>
<text x="218.50" y="282.50" font-size="5.0" font-weight="bold" text-anchor="middle" fill="#000">T2_vs_T3</text>
<text x="219.20" y="380.30" font-size="5.0" font-weight="bold" text-anchor="middle" fill="#000">log2(FC)</text>
<text x="164.10" y="327.90" font-size="4.8" font-weight="bold" text-anchor="middle" fill="#000" transform="rotate(-90 164.10 327.90)">-log10(FDR)</text>
<text x="173.40" y="368.00" font-size="3.6" font-weight="bold" text-anchor="end" fill="#000">0</text>
<path d="M173.6 365.9h1.5" stroke="#000" stroke-width=".5"/>
<text x="173.40" y="345.03" font-size="3.6" font-weight="bold" text-anchor="end" fill="#000">100</text>
<path d="M173.6 342.9h1.5" stroke="#000" stroke-width=".5"/>
<text x="173.40" y="322.07" font-size="3.6" font-weight="bold" text-anchor="end" fill="#000">200</text>
<path d="M173.6 320.0h1.5" stroke="#000" stroke-width=".5"/>
<text x="173.40" y="299.10" font-size="3.6" font-weight="bold" text-anchor="end" fill="#000">300</text>
<path d="M173.6 297.0h1.5" stroke="#000" stroke-width=".5"/>
<text x="175.00" y="374.60" font-size="3.6" font-weight="bold" text-anchor="middle" fill="#000">-20</text>
<path d="M175.0 369.9v1.3" stroke="#000" stroke-width=".5"/>
<text x="196.60" y="374.60" font-size="3.6" font-weight="bold" text-anchor="middle" fill="#000">-10</text>
<path d="M196.6 369.9v1.3" stroke="#000" stroke-width=".5"/>
<text x="218.20" y="374.60" font-size="3.6" font-weight="bold" text-anchor="middle" fill="#000">0</text>
<path d="M218.2 369.9v1.3" stroke="#000" stroke-width=".5"/>
<text x="239.80" y="374.60" font-size="3.6" font-weight="bold" text-anchor="middle" fill="#000">10</text>
<path d="M239.8 369.9v1.3" stroke="#000" stroke-width=".5"/>
<text x="261.40" y="374.60" font-size="3.6" font-weight="bold" text-anchor="middle" fill="#000">20</text>
<path d="M261.4 369.9v1.3" stroke="#000" stroke-width=".5"/>
<circle cx="266.8" cy="327.2" r=".75" fill="#ff4310"/>
<text x="268.60" y="328.20" font-size="3.2" text-anchor="start" fill="#000">up</text>
<circle cx="266.8" cy="330.5" r=".75" fill="#cfcac0"/>
<text x="268.60" y="331.50" font-size="3.2" text-anchor="start" fill="#000">nosig</text>
<circle cx="266.8" cy="333.8" r=".75" fill="#129a3c"/>
<text x="268.60" y="334.80" font-size="3.2" text-anchor="start" fill="#000">down</text>
<circle cx="121.3" cy="458.8" r="54.6" fill="#afe0c4"/>
<circle cx="176.9" cy="459.3" r="54.7" fill="#ffb0b0"/>
<clipPath id="clip121_458"><circle cx="121.3" cy="458.8" r="54.6"/></clipPath>
<circle cx="176.9" cy="459.3" r="54.7" fill="#c9997f" clip-path="url(#clip121_458)"/>
<circle cx="121.3" cy="458.8" r="54.6" fill="none" stroke="#000" stroke-width="1.3"/>
<circle cx="176.9" cy="459.3" r="54.7" fill="none" stroke="#000" stroke-width="1.3"/>
<path d="M149.42 412.00A54.7 54.7 0 1 1 148.58 506.10A54.6 54.6 0 0 0 149.42 412.00Z" fill="none" stroke="#45282a" stroke-width="4.7" stroke-linejoin="round"/>
<text x="123.50" y="398.70" font-size="8" font-weight="bold" text-anchor="middle" fill="#000">D2_vs_D3</text>
<text x="180.70" y="398.70" font-size="8" font-weight="bold" text-anchor="middle" fill="#000">T2_vs_T3</text>
<text x="96.20" y="461.40" font-size="7.7" text-anchor="middle" fill="#000">1521</text>
<text x="152.20" y="461.40" font-size="7.7" text-anchor="middle" fill="#000">11548</text>
<text x="206.00" y="461.40" font-size="7.7" font-weight="bold" text-anchor="middle" fill="#000">1585</text>
<path d="M83.5 384.6V395.6H97.2" stroke="#000" stroke-width="1.6" fill="none"/>
<path d="M217.6 384.6V395.6H203.8" stroke="#000" stroke-width="1.6" fill="none"/>
<path d="M206.6 449.5V436.8H237.2" stroke="#000" stroke-width="1.6" fill="none"/>
<path d="M262.9 465.2V396.4M262.9 465.2H336.4" stroke="#000" stroke-width=".65" fill="none"/>
<path d="M261.7 397.9L262.9 395.4L264.09999999999997 397.9Z" fill="#000"/>
<text x="300.20" y="390.90" font-size="5.1" font-weight="bold" text-anchor="middle" fill="#000">Only T2_vs_T3</text>
<text x="260.70" y="402.60" font-size="4.3" text-anchor="end" fill="#000">1000</text>
<path d="M261.7 401.3h1.2" stroke="#000" stroke-width=".5"/>
<text x="260.70" y="415.70" font-size="4.3" text-anchor="end" fill="#000">800</text>
<path d="M261.7 414.4h1.2" stroke="#000" stroke-width=".5"/>
<text x="260.70" y="428.50" font-size="4.3" text-anchor="end" fill="#000">600</text>
<path d="M261.7 427.2h1.2" stroke="#000" stroke-width=".5"/>
<text x="260.70" y="441.20" font-size="4.3" text-anchor="end" fill="#000">400</text>
<path d="M261.7 439.9h1.2" stroke="#000" stroke-width=".5"/>
<text x="260.70" y="454.00" font-size="4.3" text-anchor="end" fill="#000">200</text>
<path d="M261.7 452.7h1.2" stroke="#000" stroke-width=".5"/>
<text x="260.70" y="466.50" font-size="4.3" text-anchor="end" fill="#000">0</text>
<path d="M261.7 465.2h1.2" stroke="#000" stroke-width=".5"/>
<rect x="273.7" y="410.9" width="15.9" height="54.3" fill="#ff0000"/>
<text x="281.65" y="407.60" font-size="4.3" text-anchor="middle" fill="#000">858</text>
<text x="281.65" y="472.30" font-size="4.5" text-anchor="middle" fill="#000">up</text>
<rect x="309.9" y="419.2" width="16.4" height="46.0" fill="#0e9a47"/>
<text x="318.10" y="415.90" font-size="4.3" text-anchor="middle" fill="#000">727</text>
<text x="318.10" y="472.30" font-size="4.5" text-anchor="middle" fill="#000">down</text>
<text x="245.80" y="436.90" font-size="4.8" font-weight="bold" text-anchor="middle" fill="#000" transform="rotate(-90 245.80 436.90)">Number of genes</text>
<rect x="341.5" y="428.7" width="2.4" height="2.4" fill="#ff0000"/>
<text x="344.50" y="431.20" font-size="4.4" text-anchor="start" fill="#000">up</text>
<rect x="341.5" y="435.40000000000003" width="2.4" height="2.4" fill="#0e9a47"/>
<text x="344.50" y="437.90" font-size="4.4" text-anchor="start" fill="#000">down</text>
<rect x="515.5" y="20.3" width="90.0" height="201.5" fill="#fff"/>
<path d="M530.2 20.3V221.8M558.6 20.3V221.8M586.9 20.3V221.8M515.5 27.3H605.5M515.5 41.7H605.5M515.5 56.1H605.5M515.5 70.6H605.5M515.5 85.0H605.5M515.5 99.4H605.5M515.5 113.8H605.5M515.5 128.2H605.5M515.5 142.7H605.5M515.5 157.1H605.5M515.5 171.5H605.5M515.5 185.9H605.5M515.5 200.3H605.5M515.5 214.8H605.5" stroke="#c9c9c9" stroke-width=".6" stroke-dasharray="4 2" fill="none"/>
<text x="511.90" y="29.20" font-size="6.1" text-anchor="end" fill="#000">mRNA surveillance pathway</text>
<circle cx="545.1" cy="27.3" r="1.73" fill="#dc3220"/>
<text x="511.90" y="43.62" font-size="6.1" text-anchor="end" fill="#000">Endocytosis</text>
<circle cx="529.7" cy="41.7" r="3.89" fill="#dc3220"/>
<text x="511.90" y="58.04" font-size="6.1" text-anchor="end" fill="#000">RIG-I-like receptor signaling pathway</text>
<circle cx="537.3" cy="56.1" r="1.62" fill="#d65023"/>
<text x="511.90" y="72.46" font-size="6.1" text-anchor="end" fill="#000">Notch signaling pathway</text>
<circle cx="536.3" cy="70.6" r="1.51" fill="#d84622"/>
<text x="511.90" y="86.88" font-size="6.1" text-anchor="end" fill="#000">Phosphonate and phosphinate metabolism</text>
<circle cx="596.0" cy="85.0" r="0.54" fill="#b0722b"/>
<text x="511.90" y="101.30" font-size="6.1" text-anchor="end" fill="#000">Necroptosis</text>
<circle cx="530.6" cy="99.4" r="2.48" fill="#c96b27"/>
<text x="511.90" y="115.72" font-size="6.1" text-anchor="end" fill="#000">Spliceosome</text>
<circle cx="531.5" cy="113.8" r="2.05" fill="#c96b27"/>
<text x="511.90" y="130.14" font-size="6.1" text-anchor="end" fill="#000">Dorso-ventral axis formation</text>
<circle cx="547.0" cy="128.2" r="0.76" fill="#c86e28"/>
<text x="511.90" y="144.56" font-size="6.1" text-anchor="end" fill="#000">Cytosolic DNA-sensing pathway</text>
<circle cx="539.4" cy="142.7" r="0.97" fill="#c86e28"/>
<text x="511.90" y="158.98" font-size="6.1" text-anchor="end" fill="#000">AMPK signaling pathway</text>
<circle cx="530.9" cy="157.1" r="2.05" fill="#b0722b"/>
<text x="511.90" y="173.40" font-size="6.1" text-anchor="end" fill="#000">mTOR signaling pathway</text>
<circle cx="529.1" cy="171.5" r="2.59" fill="#bc7029"/>
<text x="511.90" y="187.82" font-size="6.1" text-anchor="end" fill="#000">Glycosylphosphatidylinositol (GPI)-anchor biosynthesis</text>
<circle cx="552.4" cy="185.9" r="0.54" fill="#b0722b"/>
<text x="511.90" y="202.24" font-size="6.1" text-anchor="end" fill="#000">Oocyte meiosis</text>
<circle cx="531.2" cy="200.3" r="1.73" fill="#7d7831"/>
<text x="511.90" y="216.66" font-size="6.1" text-anchor="end" fill="#000">Longevity regulating pathway</text>
<circle cx="531.8" cy="214.8" r="1.51" fill="#6f7833"/>
<rect x="515.5" y="20.3" width="90.0" height="201.5" fill="none" stroke="#222" stroke-width=".9"/>
<text x="560.50" y="14.50" font-size="7.5" font-weight="bold" text-anchor="middle" fill="#1a1a1a">KEGG Enrichment of T1_vs_T2</text>
<text x="560.50" y="239.70" font-size="7.1" font-weight="bold" text-anchor="middle" fill="#1a1a1a">RichFactor</text>
<text x="530.20" y="228.60" font-size="6.0" text-anchor="middle" fill="#2a2a2a">0.1</text>
<text x="558.60" y="228.60" font-size="6.0" text-anchor="middle" fill="#2a2a2a">0.2</text>
<text x="586.90" y="228.60" font-size="6.0" text-anchor="middle" fill="#2a2a2a">0.3</text>
<text x="611.30" y="25.40" font-size="6.2" text-anchor="start" fill="#222">GeneNumber</text>
<circle cx="615.3" cy="31.2" r="0.55" fill="#555"/>
<text x="622.30" y="33.10" font-size="6.0" text-anchor="start" fill="#333">3</text>
<circle cx="615.3" cy="40.6" r="1.35" fill="#555"/>
<text x="622.30" y="42.55" font-size="6.0" text-anchor="start" fill="#333">15</text>
<circle cx="615.3" cy="50.1" r="2.1" fill="#555"/>
<text x="622.30" y="52.00" font-size="6.0" text-anchor="start" fill="#333">27</text>
<circle cx="615.3" cy="59.5" r="2.8" fill="#555"/>
<text x="622.30" y="61.45" font-size="6.0" text-anchor="start" fill="#333">38</text>
<circle cx="615.3" cy="69.0" r="3.6" fill="#555"/>
<text x="622.30" y="70.90" font-size="6.0" text-anchor="start" fill="#333">50</text>
<text x="611.3" y="83.9" font-size="6.1" fill="#222">-log<tspan font-size="4" dy="1.3">10</tspan><tspan dy="-1.3">(Pvalue)</tspan></text>
<linearGradient id="g20" x1="0" y1="0" x2="0" y2="1"><stop offset="0" stop-color="#df2a20"/><stop offset=".25" stop-color="#d94a22"/><stop offset=".5" stop-color="#c5702a"/><stop offset=".7" stop-color="#9a8536"/><stop offset=".85" stop-color="#5f9245"/><stop offset="1" stop-color="#259a50"/></linearGradient>
<rect x="611.3" y="90.9" width="5.2" height="34.8" fill="url(#g20)"/>
<text x="617.30" y="92.40" font-size="6.0" text-anchor="start" fill="#333">3</text>
<text x="617.30" y="101.20" font-size="6.0" text-anchor="start" fill="#333">2.5</text>
<text x="617.30" y="110.30" font-size="6.0" text-anchor="start" fill="#333">2</text>
<text x="617.30" y="118.90" font-size="6.0" text-anchor="start" fill="#333">1.5</text>
<rect x="516.7" y="290.4" width="88.7" height="203.9" fill="#fff"/>
<path d="M524.5 290.4V494.3M542.5 290.4V494.3M560.5 290.4V494.3M578.5 290.4V494.3M596.4 290.4V494.3M516.7 295.4H605.4M516.7 305.6H605.4M516.7 315.8H605.4M516.7 326.0H605.4M516.7 336.2H605.4M516.7 346.4H605.4M516.7 356.6H605.4M516.7 366.8H605.4M516.7 377.0H605.4M516.7 387.2H605.4M516.7 397.4H605.4M516.7 407.7H605.4M516.7 417.9H605.4M516.7 428.1H605.4M516.7 438.3H605.4M516.7 448.5H605.4M516.7 458.7H605.4M516.7 468.9H605.4M516.7 479.1H605.4M516.7 489.3H605.4" stroke="#c9c9c9" stroke-width=".6" stroke-dasharray="4 2" fill="none"/>
<text x="513.60" y="297.30" font-size="6.1" text-anchor="end" fill="#000">Ribosome</text>
<circle cx="571.8" cy="295.4" r="0.97" fill="#de2820"/>
<text x="513.60" y="307.50" font-size="6.1" text-anchor="end" fill="#000">Oxidative phosphorylation</text>
<circle cx="560.0" cy="305.6" r="0.97" fill="#d84622"/>
<text x="513.60" y="317.71" font-size="6.1" text-anchor="end" fill="#000">Metabolic pathways</text>
<circle cx="530.3" cy="315.8" r="3.67" fill="#d25724"/>
<text x="513.60" y="327.91" font-size="6.1" text-anchor="end" fill="#000">Thermogenesis</text>
<circle cx="541.8" cy="326.0" r="1.19" fill="#d65023"/>
<text x="513.60" y="338.12" font-size="6.1" text-anchor="end" fill="#000">Autophagy - animal</text>
<circle cx="541.2" cy="336.2" r="1.19" fill="#cb6626"/>
<text x="513.60" y="348.32" font-size="6.1" text-anchor="end" fill="#000">AMPK signaling pathway</text>
<circle cx="539.7" cy="346.4" r="0.97" fill="#a4742c"/>
<text x="513.60" y="358.53" font-size="6.1" text-anchor="end" fill="#000">Mineral absorption</text>
<circle cx="550.3" cy="356.6" r="0.70" fill="#98762e"/>
<text x="513.60" y="368.73" font-size="6.1" text-anchor="end" fill="#000">Longevity regulating pathway - multiple species</text>
<circle cx="545.7" cy="366.8" r="0.81" fill="#98762e"/>
<text x="513.60" y="378.94" font-size="6.1" text-anchor="end" fill="#000">Hedgehog signaling pathway</text>
<circle cx="548.8" cy="377.0" r="0.70" fill="#98762e"/>
<text x="513.60" y="389.14" font-size="6.1" text-anchor="end" fill="#000">Retinol metabolism</text>
<circle cx="545.9" cy="387.2" r="0.70" fill="#8c7830"/>
<text x="513.60" y="399.35" font-size="6.1" text-anchor="end" fill="#000">ABC transporters</text>
<circle cx="546.0" cy="397.4" r="0.70" fill="#7d7831"/>
<text x="513.60" y="409.55" font-size="6.1" text-anchor="end" fill="#000">Biotin metabolism</text>
<circle cx="596.3" cy="407.7" r="0.54" fill="#7d7831"/>
<text x="513.60" y="419.76" font-size="6.1" text-anchor="end" fill="#000">Renin-angiotensin system</text>
<circle cx="572.1" cy="417.9" r="0.65" fill="#7d7831"/>
<text x="513.60" y="429.96" font-size="6.1" text-anchor="end" fill="#000">Lysosome</text>
<circle cx="536.0" cy="428.1" r="0.97" fill="#617835"/>
<text x="513.60" y="440.17" font-size="6.1" text-anchor="end" fill="#000">Axon regeneration</text>
<circle cx="537.6" cy="438.3" r="0.86" fill="#617835"/>
<text x="513.60" y="450.37" font-size="6.1" text-anchor="end" fill="#000">Metabolism of xenobiotics by cytochrome P450</text>
<circle cx="549.4" cy="448.5" r="0.65" fill="#617835"/>
<text x="513.60" y="460.58" font-size="6.1" text-anchor="end" fill="#000">Pyrimidine metabolism</text>
<circle cx="543.9" cy="458.7" r="0.81" fill="#527836"/>
<text x="513.60" y="470.78" font-size="6.1" text-anchor="end" fill="#000">Glyoxylate and dicarboxylate metabolism</text>
<circle cx="551.2" cy="468.9" r="0.65" fill="#527836"/>
<text x="513.60" y="480.99" font-size="6.1" text-anchor="end" fill="#000">Mismatch repair</text>
<circle cx="563.9" cy="479.1" r="0.65" fill="#527836"/>
<text x="513.60" y="491.19" font-size="6.1" text-anchor="end" fill="#000">Fatty acid biosynthesis</text>
<circle cx="561.8" cy="489.3" r="0.65" fill="#447838"/>
<rect x="516.7" y="290.4" width="88.7" height="203.9" fill="none" stroke="#222" stroke-width=".9"/>
<text x="561.05" y="284.80" font-size="7.5" font-weight="bold" text-anchor="middle" fill="#1a1a1a">KEGG Enrichment of T2_vs_T3</text>
<text x="561.05" y="510.30" font-size="7.1" font-weight="bold" text-anchor="middle" fill="#1a1a1a">RichFactor</text>
<text x="524.50" y="501.90" font-size="6.0" text-anchor="middle" fill="#2a2a2a">0.05</text>
<text x="542.70" y="501.90" font-size="6.0" text-anchor="middle" fill="#2a2a2a">0.10</text>
<text x="560.90" y="501.90" font-size="6.0" text-anchor="middle" fill="#2a2a2a">0.15</text>
<text x="579.10" y="501.90" font-size="6.0" text-anchor="middle" fill="#2a2a2a">0.20</text>
<text x="596.60" y="501.90" font-size="6.0" text-anchor="middle" fill="#2a2a2a">0.25</text>
<text x="611.20" y="296.20" font-size="6.2" text-anchor="start" fill="#222">GeneNumber</text>
<circle cx="615.2" cy="302.0" r="0.55" fill="#555"/>
<text x="622.20" y="303.90" font-size="6.0" text-anchor="start" fill="#333">3</text>
<circle cx="615.2" cy="310.9" r="1.4" fill="#555"/>
<text x="622.20" y="312.75" font-size="6.0" text-anchor="start" fill="#333">42</text>
<circle cx="615.2" cy="319.7" r="2.1" fill="#555"/>
<text x="622.20" y="321.60" font-size="6.0" text-anchor="start" fill="#333">81</text>
<circle cx="615.2" cy="328.6" r="2.8" fill="#555"/>
<text x="622.20" y="330.45" font-size="6.0" text-anchor="start" fill="#333">120</text>
<circle cx="615.2" cy="337.4" r="3.6" fill="#555"/>
<text x="622.20" y="339.30" font-size="6.0" text-anchor="start" fill="#333">159</text>
<text x="611.2" y="354.1" font-size="6.1" fill="#222">-log<tspan font-size="4" dy="1.3">10</tspan><tspan dy="-1.3">(Pvalue)</tspan></text>
<linearGradient id="g290" x1="0" y1="0" x2="0" y2="1"><stop offset="0" stop-color="#df2a20"/><stop offset=".25" stop-color="#d94a22"/><stop offset=".5" stop-color="#c5702a"/><stop offset=".7" stop-color="#9a8536"/><stop offset=".85" stop-color="#5f9245"/><stop offset="1" stop-color="#259a50"/></linearGradient>
<rect x="611.2" y="358.9" width="5.2" height="34.7" fill="url(#g290)"/>
<text x="617.20" y="361.40" font-size="6.0" text-anchor="start" fill="#333">8</text>
<text x="617.20" y="371.40" font-size="6.0" text-anchor="start" fill="#333">6</text>
<text x="617.20" y="381.10" font-size="6.0" text-anchor="start" fill="#333">4</text>
<text x="617.20" y="390.40" font-size="6.0" text-anchor="start" fill="#333">2</text>
<path d="M798.52 20.91A108.90 108.90 0 0 1 817.96 22.96L816.86 28.55A103.20 103.20 0 0 0 798.43 26.61Z" fill="#e6bc2e"/>
<path d="M800.97 23.83A106.05 106.05 0 0 1 814.95 25.30" stroke="#fff" stroke-opacity=".62" stroke-width="1.6" stroke-dasharray=".7 .4" fill="none"/>
<path d="M821.12 23.63A108.90 108.90 0 0 1 839.71 29.67L837.47 34.91A103.20 103.20 0 0 0 819.85 29.18Z" fill="#e6bc2e"/>
<path d="M822.91 26.99A106.05 106.05 0 0 1 836.28 31.33" stroke="#fff" stroke-opacity=".62" stroke-width="1.6" stroke-dasharray=".7 .4" fill="none"/>
<path d="M842.66 30.98A108.90 108.90 0 0 1 859.60 40.76L856.31 45.42A103.20 103.20 0 0 0 840.27 36.16Z" fill="#e6bc2e"/>
<path d="M843.72 34.65A106.05 106.05 0 0 1 855.90 41.67" stroke="#fff" stroke-opacity=".62" stroke-width="1.6" stroke-dasharray=".7 .4" fill="none"/>
<path d="M862.21 42.66A108.90 108.90 0 0 1 876.74 55.74L872.56 59.62A103.20 103.20 0 0 0 858.79 47.22Z" fill="#e6bc2e"/>
<path d="M862.48 46.46A106.05 106.05 0 0 1 872.93 55.87" stroke="#fff" stroke-opacity=".62" stroke-width="1.6" stroke-dasharray=".7 .4" fill="none"/>
<path d="M878.90 58.14A108.90 108.90 0 0 1 890.39 73.96L885.50 76.88A103.20 103.20 0 0 0 874.61 61.89Z" fill="#e6bc2e"/>
<path d="M878.38 61.92A106.05 106.05 0 0 1 886.64 73.29" stroke="#fff" stroke-opacity=".62" stroke-width="1.6" stroke-dasharray=".7 .4" fill="none"/>
<path d="M892.01 76.76A108.90 108.90 0 0 1 899.96 94.62L894.57 96.46A103.20 103.20 0 0 0 887.03 79.53Z" fill="#e6bc2e"/>
<path d="M890.71 80.34A106.05 106.05 0 0 1 896.43 93.18" stroke="#fff" stroke-opacity=".62" stroke-width="1.6" stroke-dasharray=".7 .4" fill="none"/>
<path d="M900.96 97.69A108.90 108.90 0 0 1 905.02 116.81L899.36 117.49A103.20 103.20 0 0 0 895.51 99.37Z" fill="#e6bc2e"/>
<path d="M898.94 100.92A106.05 106.05 0 0 1 901.87 114.67" stroke="#fff" stroke-opacity=".62" stroke-width="1.6" stroke-dasharray=".7 .4" fill="none"/>
<path d="M905.36 120.02A108.90 108.90 0 0 1 905.36 139.58L899.68 139.06A103.20 103.20 0 0 0 899.68 120.54Z" fill="#e6bc2e"/>
<path d="M902.72 122.77A106.05 106.05 0 0 1 902.72 136.83" stroke="#fff" stroke-opacity=".62" stroke-width="1.6" stroke-dasharray=".7 .4" fill="none"/>
<path d="M905.02 142.79A108.90 108.90 0 0 1 900.96 161.91L895.51 160.23A103.20 103.20 0 0 0 899.36 142.11Z" fill="#e6bc2e"/>
<path d="M901.87 144.93A106.05 106.05 0 0 1 898.94 158.68" stroke="#fff" stroke-opacity=".62" stroke-width="1.6" stroke-dasharray=".7 .4" fill="none"/>
<path d="M899.96 164.98A108.90 108.90 0 0 1 892.01 182.84L887.03 180.07A103.20 103.20 0 0 0 894.57 163.14Z" fill="#e6bc2e"/>
<path d="M896.43 166.42A106.05 106.05 0 0 1 890.71 179.26" stroke="#fff" stroke-opacity=".62" stroke-width="1.6" stroke-dasharray=".7 .4" fill="none"/>
<path d="M890.39 185.64A108.90 108.90 0 0 1 878.90 201.46L874.61 197.71A103.20 103.20 0 0 0 885.50 182.72Z" fill="#da4485"/>
<path d="M886.64 186.31A106.05 106.05 0 0 1 878.38 197.68" stroke="#fff" stroke-opacity=".62" stroke-width="1.6" stroke-dasharray=".7 .4" fill="none"/>
<path d="M876.74 203.86A108.90 108.90 0 0 1 862.21 216.94L858.79 212.38A103.20 103.20 0 0 0 872.56 199.98Z" fill="#da4485"/>
<path d="M872.93 203.73A106.05 106.05 0 0 1 862.48 213.14" stroke="#fff" stroke-opacity=".62" stroke-width="1.6" stroke-dasharray=".7 .4" fill="none"/>
<path d="M859.60 218.84A108.90 108.90 0 0 1 842.66 228.62L840.27 223.44A103.20 103.20 0 0 0 856.31 214.18Z" fill="#da4485"/>
<path d="M855.90 217.93A106.05 106.05 0 0 1 843.72 224.95" stroke="#fff" stroke-opacity=".62" stroke-width="1.6" stroke-dasharray=".7 .4" fill="none"/>
<path d="M839.71 229.93A108.90 108.90 0 0 1 821.12 235.97L819.85 230.42A103.20 103.20 0 0 0 837.47 224.69Z" fill="#da4485"/>
<path d="M836.28 228.27A106.05 106.05 0 0 1 822.91 232.61" stroke="#fff" stroke-opacity=".62" stroke-width="1.6" stroke-dasharray=".7 .4" fill="none"/>
<path d="M817.96 236.64A108.90 108.90 0 0 1 798.52 238.69L798.43 232.99A103.20 103.20 0 0 0 816.86 231.05Z" fill="#da4485"/>
<path d="M814.95 234.30A106.05 106.05 0 0 1 800.97 235.77" stroke="#fff" stroke-opacity=".62" stroke-width="1.6" stroke-dasharray=".7 .4" fill="none"/>
<path d="M795.28 238.69A108.90 108.90 0 0 1 775.84 236.64L776.94 231.05A103.20 103.20 0 0 0 795.37 232.99Z" fill="#da4485"/>
<path d="M792.83 235.77A106.05 106.05 0 0 1 778.85 234.30" stroke="#fff" stroke-opacity=".62" stroke-width="1.6" stroke-dasharray=".7 .4" fill="none"/>
<path d="M772.68 235.97A108.90 108.90 0 0 1 754.09 229.93L756.33 224.69A103.20 103.20 0 0 0 773.95 230.42Z" fill="#da4485"/>
<path d="M770.89 232.61A106.05 106.05 0 0 1 757.52 228.27" stroke="#fff" stroke-opacity=".62" stroke-width="1.6" stroke-dasharray=".7 .4" fill="none"/>
<path d="M751.14 228.62A108.90 108.90 0 0 1 734.20 218.84L737.49 214.18A103.20 103.20 0 0 0 753.53 223.44Z" fill="#da4485"/>
<path d="M750.08 224.95A106.05 106.05 0 0 1 737.90 217.93" stroke="#fff" stroke-opacity=".62" stroke-width="1.6" stroke-dasharray=".7 .4" fill="none"/>
<path d="M731.59 216.94A108.90 108.90 0 0 1 717.06 203.86L721.24 199.98A103.20 103.20 0 0 0 735.01 212.38Z" fill="#da4485"/>
<path d="M731.32 213.14A106.05 106.05 0 0 1 720.87 203.73" stroke="#fff" stroke-opacity=".62" stroke-width="1.6" stroke-dasharray=".7 .4" fill="none"/>
<path d="M714.90 201.46A108.90 108.90 0 0 1 703.41 185.64L708.30 182.72A103.20 103.20 0 0 0 719.19 197.71Z" fill="#da4485"/>
<path d="M715.42 197.68A106.05 106.05 0 0 1 707.16 186.31" stroke="#fff" stroke-opacity=".62" stroke-width="1.6" stroke-dasharray=".7 .4" fill="none"/>
<path d="M701.79 182.84A108.90 108.90 0 0 1 693.84 164.98L699.23 163.14A103.20 103.20 0 0 0 706.77 180.07Z" fill="#8c3a7c"/>
<path d="M703.09 179.26A106.05 106.05 0 0 1 697.37 166.42" stroke="#fff" stroke-opacity=".62" stroke-width="1.6" stroke-dasharray=".7 .4" fill="none"/>
<path d="M692.84 161.91A108.90 108.90 0 0 1 688.78 142.79L694.44 142.11A103.20 103.20 0 0 0 698.29 160.23Z" fill="#8c3a7c"/>
<path d="M694.86 158.68A106.05 106.05 0 0 1 691.93 144.93" stroke="#fff" stroke-opacity=".62" stroke-width="1.6" stroke-dasharray=".7 .4" fill="none"/>
<path d="M688.44 139.58A108.90 108.90 0 0 1 688.44 120.02L694.12 120.54A103.20 103.20 0 0 0 694.12 139.06Z" fill="#8c3a7c"/>
<path d="M691.08 136.83A106.05 106.05 0 0 1 691.08 122.77" stroke="#fff" stroke-opacity=".62" stroke-width="1.6" stroke-dasharray=".7 .4" fill="none"/>
<path d="M688.78 116.81A108.90 108.90 0 0 1 692.84 97.69L698.29 99.37A103.20 103.20 0 0 0 694.44 117.49Z" fill="#8c3a7c"/>
<path d="M691.93 114.67A106.05 106.05 0 0 1 694.86 100.92" stroke="#fff" stroke-opacity=".62" stroke-width="1.6" stroke-dasharray=".7 .4" fill="none"/>
<path d="M693.84 94.62A108.90 108.90 0 0 1 701.79 76.76L706.77 79.53A103.20 103.20 0 0 0 699.23 96.46Z" fill="#8c3a7c"/>
<path d="M697.37 93.18A106.05 106.05 0 0 1 703.09 80.34" stroke="#fff" stroke-opacity=".62" stroke-width="1.6" stroke-dasharray=".7 .4" fill="none"/>
<path d="M703.41 73.96A108.90 108.90 0 0 1 714.90 58.14L719.19 61.89A103.20 103.20 0 0 0 708.30 76.88Z" fill="#8c3a7c"/>
<path d="M707.16 73.29A106.05 106.05 0 0 1 715.42 61.92" stroke="#fff" stroke-opacity=".62" stroke-width="1.6" stroke-dasharray=".7 .4" fill="none"/>
<path d="M717.06 55.74A108.90 108.90 0 0 1 731.59 42.66L735.01 47.22A103.20 103.20 0 0 0 721.24 59.62Z" fill="#8c3a7c"/>
<path d="M720.87 55.87A106.05 106.05 0 0 1 731.32 46.46" stroke="#fff" stroke-opacity=".62" stroke-width="1.6" stroke-dasharray=".7 .4" fill="none"/>
<path d="M734.20 40.76A108.90 108.90 0 0 1 751.14 30.98L753.53 36.16A103.20 103.20 0 0 0 737.49 45.42Z" fill="#8c3a7c"/>
<path d="M737.90 41.67A106.05 106.05 0 0 1 750.08 34.65" stroke="#fff" stroke-opacity=".62" stroke-width="1.6" stroke-dasharray=".7 .4" fill="none"/>
<path d="M754.09 29.67A108.90 108.90 0 0 1 772.68 23.63L773.95 29.18A103.20 103.20 0 0 0 756.33 34.91Z" fill="#8c3a7c"/>
<path d="M757.52 31.33A106.05 106.05 0 0 1 770.89 26.99" stroke="#fff" stroke-opacity=".62" stroke-width="1.6" stroke-dasharray=".7 .4" fill="none"/>
<path d="M775.84 22.96A108.90 108.90 0 0 1 795.28 20.91L795.37 26.61A103.20 103.20 0 0 0 776.94 28.55Z" fill="#8c3a7c"/>
<path d="M778.85 25.30A106.05 106.05 0 0 1 792.83 23.83" stroke="#fff" stroke-opacity=".62" stroke-width="1.6" stroke-dasharray=".7 .4" fill="none"/>
<path d="M797.75 40.80A89.00 89.00 0 0 1 814.57 42.57L803.71 96.18A34.30 34.30 0 0 0 797.23 95.50ZM816.24 42.93A89.00 89.00 0 0 1 832.32 48.15L810.55 98.33A34.30 34.30 0 0 0 804.35 96.32ZM833.88 48.85A89.00 89.00 0 0 1 848.52 57.30L816.79 101.86A34.30 34.30 0 0 0 811.15 98.60ZM849.90 58.30A89.00 89.00 0 0 1 862.47 69.62L822.17 106.61A34.30 34.30 0 0 0 817.33 102.25ZM863.61 70.89A89.00 89.00 0 0 1 873.55 84.56L826.44 112.37A34.30 34.30 0 0 0 822.61 107.09ZM874.40 86.04A89.00 89.00 0 0 1 881.28 101.49L829.42 118.89A34.30 34.30 0 0 0 826.77 112.94ZM881.80 103.11A89.00 89.00 0 0 1 885.32 119.65L830.98 125.89A34.30 34.30 0 0 0 829.62 119.51ZM885.50 121.35A89.00 89.00 0 0 1 885.50 138.25L831.04 133.06A34.30 34.30 0 0 0 831.04 126.54ZM885.32 139.95A89.00 89.00 0 0 1 881.80 156.49L829.62 140.09A34.30 34.30 0 0 0 830.98 133.71ZM881.28 158.11A89.00 89.00 0 0 1 874.40 173.56L826.77 146.66A34.30 34.30 0 0 0 829.42 140.71ZM873.55 175.04A89.00 89.00 0 0 1 863.61 188.71L822.61 152.51A34.30 34.30 0 0 0 826.44 147.23ZM862.47 189.98A89.00 89.00 0 0 1 849.90 201.30L817.33 157.35A34.30 34.30 0 0 0 822.17 152.99ZM848.52 202.30A89.00 89.00 0 0 1 833.88 210.75L811.15 161.00A34.30 34.30 0 0 0 816.79 157.74ZM832.32 211.45A89.00 89.00 0 0 1 816.24 216.67L804.35 163.28A34.30 34.30 0 0 0 810.55 161.27ZM814.57 217.03A89.00 89.00 0 0 1 797.75 218.80L797.23 164.10A34.30 34.30 0 0 0 803.71 163.42ZM796.05 218.80A89.00 89.00 0 0 1 779.23 217.03L790.09 163.42A34.30 34.30 0 0 0 796.57 164.10ZM777.56 216.67A89.00 89.00 0 0 1 761.48 211.45L783.25 161.27A34.30 34.30 0 0 0 789.45 163.28ZM759.92 210.75A89.00 89.00 0 0 1 745.28 202.30L777.01 157.74A34.30 34.30 0 0 0 782.65 161.00ZM743.90 201.30A89.00 89.00 0 0 1 731.33 189.98L771.63 152.99A34.30 34.30 0 0 0 776.47 157.35ZM730.19 188.71A89.00 89.00 0 0 1 720.25 175.04L767.36 147.23A34.30 34.30 0 0 0 771.19 152.51ZM719.40 173.56A89.00 89.00 0 0 1 712.52 158.11L764.38 140.71A34.30 34.30 0 0 0 767.03 146.66ZM712.00 156.49A89.00 89.00 0 0 1 708.48 139.95L762.82 133.71A34.30 34.30 0 0 0 764.18 140.09ZM708.30 138.25A89.00 89.00 0 0 1 708.30 121.35L762.76 126.54A34.30 34.30 0 0 0 762.76 133.06ZM708.48 119.65A89.00 89.00 0 0 1 712.00 103.11L764.18 119.51A34.30 34.30 0 0 0 762.82 125.89ZM712.52 101.49A89.00 89.00 0 0 1 719.40 86.04L767.03 112.94A34.30 34.30 0 0 0 764.38 118.89ZM720.25 84.56A89.00 89.00 0 0 1 730.19 70.89L771.19 107.09A34.30 34.30 0 0 0 767.36 112.37ZM731.33 69.62A89.00 89.00 0 0 1 743.90 58.30L776.47 102.25A34.30 34.30 0 0 0 771.63 106.61ZM745.28 57.30A89.00 89.00 0 0 1 759.92 48.85L782.65 98.60A34.30 34.30 0 0 0 777.01 101.86ZM761.48 48.15A89.00 89.00 0 0 1 777.56 42.93L789.45 96.32A34.30 34.30 0 0 0 783.25 98.33ZM779.23 42.57A89.00 89.00 0 0 1 796.05 40.80L796.57 95.50A34.30 34.30 0 0 0 790.09 96.18Z" fill="#f8f7f7"/>
<path d="M798.01 90.05A39.77 39.77 0 0 1 804.08 90.68M798.16 84.58A45.24 45.24 0 0 1 805.07 85.30M798.32 79.11A50.71 50.71 0 0 1 806.05 79.92M798.47 73.64A56.18 56.18 0 0 1 807.04 74.54M798.62 68.17A61.65 61.65 0 0 1 808.03 69.16M798.77 62.71A67.12 67.12 0 0 1 809.02 63.78M798.93 57.24A72.59 72.59 0 0 1 810.00 58.40M799.08 51.77A78.06 78.06 0 0 1 810.99 53.02M799.23 46.30A83.53 83.53 0 0 1 811.98 47.64M806.25 91.15A39.77 39.77 0 0 1 812.06 93.03M807.54 85.83A45.24 45.24 0 0 1 814.14 87.97M808.82 80.51A50.71 50.71 0 0 1 816.22 82.92M810.11 75.20A56.18 56.18 0 0 1 818.31 77.86M811.40 69.88A61.65 61.65 0 0 1 820.39 72.80M812.68 64.56A67.12 67.12 0 0 1 822.48 67.74M813.97 59.25A72.59 72.59 0 0 1 824.56 62.69M815.26 53.93A78.06 78.06 0 0 1 826.65 57.63M816.54 48.61A83.53 83.53 0 0 1 828.73 52.57M814.08 93.93A39.77 39.77 0 0 1 819.37 96.99M816.45 89.00A45.24 45.24 0 0 1 822.46 92.47M818.81 84.07A50.71 50.71 0 0 1 825.55 87.96M821.17 79.14A56.18 56.18 0 0 1 828.64 83.45M823.54 74.20A61.65 61.65 0 0 1 831.73 78.93M825.90 69.27A67.12 67.12 0 0 1 834.82 74.42M828.27 64.34A72.59 72.59 0 0 1 837.91 69.91M830.63 59.40A78.06 78.06 0 0 1 841.00 65.39M832.99 54.47A83.53 83.53 0 0 1 844.09 60.88M821.17 98.29A39.77 39.77 0 0 1 825.70 102.37M824.50 93.96A45.24 45.24 0 0 1 829.66 98.60M827.84 89.62A50.71 50.71 0 0 1 833.62 94.83M831.18 85.29A56.18 56.18 0 0 1 837.58 91.06M834.52 80.96A61.65 61.65 0 0 1 841.55 87.28M837.85 76.62A67.12 67.12 0 0 1 845.51 83.51M841.19 72.29A72.59 72.59 0 0 1 849.47 79.74M844.53 67.95A78.06 78.06 0 0 1 853.43 75.97M847.87 63.62A83.53 83.53 0 0 1 857.39 72.20M827.19 104.02A39.77 39.77 0 0 1 830.77 108.96M831.35 100.48A45.24 45.24 0 0 1 835.43 106.09M835.52 96.93A50.71 50.71 0 0 1 840.09 103.23M839.68 93.39A56.18 56.18 0 0 1 844.75 100.36M843.85 89.84A61.65 61.65 0 0 1 849.41 97.50M848.01 86.30A67.12 67.12 0 0 1 854.07 94.63M852.18 82.75A72.59 72.59 0 0 1 858.73 91.76M856.35 79.21A78.06 78.06 0 0 1 863.39 88.90M860.51 75.66A83.53 83.53 0 0 1 868.04 86.03M831.88 110.88A39.77 39.77 0 0 1 834.37 116.46M836.70 108.28A45.24 45.24 0 0 1 839.52 114.62M841.51 105.68A50.71 50.71 0 0 1 844.67 112.79M846.32 103.08A56.18 56.18 0 0 1 849.82 110.95M851.13 100.48A61.65 61.65 0 0 1 854.98 109.12M855.94 97.88A67.12 67.12 0 0 1 860.13 107.28M860.75 95.27A72.59 72.59 0 0 1 865.28 105.45M865.57 92.67A78.06 78.06 0 0 1 870.44 103.61M870.38 90.07A83.53 83.53 0 0 1 875.59 101.78M835.05 118.57A39.77 39.77 0 0 1 836.32 124.54M840.30 117.03A45.24 45.24 0 0 1 841.74 123.82M845.55 115.48A50.71 50.71 0 0 1 847.16 123.09M850.79 113.94A56.18 56.18 0 0 1 852.59 122.37M856.04 112.39A61.65 61.65 0 0 1 858.01 121.65M861.29 110.85A67.12 67.12 0 0 1 863.43 120.92M866.54 109.30A72.59 72.59 0 0 1 868.85 120.20M871.78 107.76A78.06 78.06 0 0 1 874.27 119.48M877.03 106.22A83.53 83.53 0 0 1 879.70 118.75M836.55 126.75A39.77 39.77 0 0 1 836.55 132.85M842.01 126.33A45.24 45.24 0 0 1 842.01 133.27M847.46 125.91A50.71 50.71 0 0 1 847.46 133.69M852.91 125.49A56.18 56.18 0 0 1 852.91 134.11M858.37 125.07A61.65 61.65 0 0 1 858.37 134.53M863.82 124.65A67.12 67.12 0 0 1 863.82 134.95M869.28 124.23A72.59 72.59 0 0 1 869.28 135.37M874.73 123.81A78.06 78.06 0 0 1 874.73 135.79M880.18 123.39A83.53 83.53 0 0 1 880.18 136.21M836.32 135.06A39.77 39.77 0 0 1 835.05 141.03M841.74 135.78A45.24 45.24 0 0 1 840.30 142.57M847.16 136.51A50.71 50.71 0 0 1 845.55 144.12M852.59 137.23A56.18 56.18 0 0 1 850.79 145.66M858.01 137.95A61.65 61.65 0 0 1 856.04 147.21M863.43 138.68A67.12 67.12 0 0 1 861.29 148.75M868.85 139.40A72.59 72.59 0 0 1 866.54 150.30M874.27 140.12A78.06 78.06 0 0 1 871.78 151.84M879.70 140.85A83.53 83.53 0 0 1 877.03 153.38M834.37 143.14A39.77 39.77 0 0 1 831.88 148.72M839.52 144.98A45.24 45.24 0 0 1 836.70 151.32M844.67 146.81A50.71 50.71 0 0 1 841.51 153.92M849.82 148.65A56.18 56.18 0 0 1 846.32 156.52M854.98 150.48A61.65 61.65 0 0 1 851.13 159.12M860.13 152.32A67.12 67.12 0 0 1 855.94 161.72M865.28 154.15A72.59 72.59 0 0 1 860.75 164.33M870.44 155.99A78.06 78.06 0 0 1 865.57 166.93M875.59 157.82A83.53 83.53 0 0 1 870.38 169.53M830.77 150.64A39.77 39.77 0 0 1 827.19 155.58M835.43 153.51A45.24 45.24 0 0 1 831.35 159.12M840.09 156.37A50.71 50.71 0 0 1 835.52 162.67M844.75 159.24A56.18 56.18 0 0 1 839.68 166.21M849.41 162.10A61.65 61.65 0 0 1 843.85 169.76M854.07 164.97A67.12 67.12 0 0 1 848.01 173.30M858.73 167.84A72.59 72.59 0 0 1 852.18 176.85M863.39 170.70A78.06 78.06 0 0 1 856.35 180.39M868.04 173.57A83.53 83.53 0 0 1 860.51 183.94M825.70 157.23A39.77 39.77 0 0 1 821.17 161.31M829.66 161.00A45.24 45.24 0 0 1 824.50 165.64M833.62 164.77A50.71 50.71 0 0 1 827.84 169.98M837.58 168.54A56.18 56.18 0 0 1 831.18 174.31M841.55 172.32A61.65 61.65 0 0 1 834.52 178.64M845.51 176.09A67.12 67.12 0 0 1 837.85 182.98M849.47 179.86A72.59 72.59 0 0 1 841.19 187.31M853.43 183.63A78.06 78.06 0 0 1 844.53 191.65M857.39 187.40A83.53 83.53 0 0 1 847.87 195.98M819.37 162.61A39.77 39.77 0 0 1 814.08 165.67M822.46 167.13A45.24 45.24 0 0 1 816.45 170.60M825.55 171.64A50.71 50.71 0 0 1 818.81 175.53M828.64 176.15A56.18 56.18 0 0 1 821.17 180.46M831.73 180.67A61.65 61.65 0 0 1 823.54 185.40M834.82 185.18A67.12 67.12 0 0 1 825.90 190.33M837.91 189.69A72.59 72.59 0 0 1 828.27 195.26M841.00 194.21A78.06 78.06 0 0 1 830.63 200.20M844.09 198.72A83.53 83.53 0 0 1 832.99 205.13M812.06 166.57A39.77 39.77 0 0 1 806.25 168.45M814.14 171.63A45.24 45.24 0 0 1 807.54 173.77M816.22 176.68A50.71 50.71 0 0 1 808.82 179.09M818.31 181.74A56.18 56.18 0 0 1 810.11 184.40M820.39 186.80A61.65 61.65 0 0 1 811.40 189.72M822.48 191.86A67.12 67.12 0 0 1 812.68 195.04M824.56 196.91A72.59 72.59 0 0 1 813.97 200.35M826.65 201.97A78.06 78.06 0 0 1 815.26 205.67M828.73 207.03A83.53 83.53 0 0 1 816.54 210.99M804.08 168.92A39.77 39.77 0 0 1 798.01 169.55M805.07 174.30A45.24 45.24 0 0 1 798.16 175.02M806.05 179.68A50.71 50.71 0 0 1 798.32 180.49M807.04 185.06A56.18 56.18 0 0 1 798.47 185.96M808.03 190.44A61.65 61.65 0 0 1 798.62 191.43M809.02 195.82A67.12 67.12 0 0 1 798.77 196.89M810.00 201.20A72.59 72.59 0 0 1 798.93 202.36M810.99 206.58A78.06 78.06 0 0 1 799.08 207.83M811.98 211.96A83.53 83.53 0 0 1 799.23 213.30M795.79 169.55A39.77 39.77 0 0 1 789.72 168.92M795.64 175.02A45.24 45.24 0 0 1 788.73 174.30M795.48 180.49A50.71 50.71 0 0 1 787.75 179.68M795.33 185.96A56.18 56.18 0 0 1 786.76 185.06M795.18 191.43A61.65 61.65 0 0 1 785.77 190.44M795.03 196.89A67.12 67.12 0 0 1 784.78 195.82M794.87 202.36A72.59 72.59 0 0 1 783.80 201.20M794.72 207.83A78.06 78.06 0 0 1 782.81 206.58M794.57 213.30A83.53 83.53 0 0 1 781.82 211.96M787.55 168.45A39.77 39.77 0 0 1 781.74 166.57M786.26 173.77A45.24 45.24 0 0 1 779.66 171.63M784.98 179.09A50.71 50.71 0 0 1 777.58 176.68M783.69 184.40A56.18 56.18 0 0 1 775.49 181.74M782.40 189.72A61.65 61.65 0 0 1 773.41 186.80M781.12 195.04A67.12 67.12 0 0 1 771.32 191.86M779.83 200.35A72.59 72.59 0 0 1 769.24 196.91M778.54 205.67A78.06 78.06 0 0 1 767.15 201.97M777.26 210.99A83.53 83.53 0 0 1 765.07 207.03M779.72 165.67A39.77 39.77 0 0 1 774.43 162.61M777.35 170.60A45.24 45.24 0 0 1 771.34 167.13M774.99 175.53A50.71 50.71 0 0 1 768.25 171.64M772.63 180.46A56.18 56.18 0 0 1 765.16 176.15M770.26 185.40A61.65 61.65 0 0 1 762.07 180.67M767.90 190.33A67.12 67.12 0 0 1 758.98 185.18M765.53 195.26A72.59 72.59 0 0 1 755.89 189.69M763.17 200.20A78.06 78.06 0 0 1 752.80 194.21M760.81 205.13A83.53 83.53 0 0 1 749.71 198.72M772.63 161.31A39.77 39.77 0 0 1 768.10 157.23M769.30 165.64A45.24 45.24 0 0 1 764.14 161.00M765.96 169.98A50.71 50.71 0 0 1 760.18 164.77M762.62 174.31A56.18 56.18 0 0 1 756.22 168.54M759.28 178.64A61.65 61.65 0 0 1 752.25 172.32M755.95 182.98A67.12 67.12 0 0 1 748.29 176.09M752.61 187.31A72.59 72.59 0 0 1 744.33 179.86M749.27 191.65A78.06 78.06 0 0 1 740.37 183.63M745.93 195.98A83.53 83.53 0 0 1 736.41 187.40M766.61 155.58A39.77 39.77 0 0 1 763.03 150.64M762.45 159.12A45.24 45.24 0 0 1 758.37 153.51M758.28 162.67A50.71 50.71 0 0 1 753.71 156.37M754.12 166.21A56.18 56.18 0 0 1 749.05 159.24M749.95 169.76A61.65 61.65 0 0 1 744.39 162.10M745.79 173.30A67.12 67.12 0 0 1 739.73 164.97M741.62 176.85A72.59 72.59 0 0 1 735.07 167.84M737.45 180.39A78.06 78.06 0 0 1 730.41 170.70M733.29 183.94A83.53 83.53 0 0 1 725.76 173.57M761.92 148.72A39.77 39.77 0 0 1 759.43 143.14M757.10 151.32A45.24 45.24 0 0 1 754.28 144.98M752.29 153.92A50.71 50.71 0 0 1 749.13 146.81M747.48 156.52A56.18 56.18 0 0 1 743.98 148.65M742.67 159.12A61.65 61.65 0 0 1 738.82 150.48M737.86 161.72A67.12 67.12 0 0 1 733.67 152.32M733.05 164.33A72.59 72.59 0 0 1 728.52 154.15M728.23 166.93A78.06 78.06 0 0 1 723.36 155.99M723.42 169.53A83.53 83.53 0 0 1 718.21 157.82M758.75 141.03A39.77 39.77 0 0 1 757.48 135.06M753.50 142.57A45.24 45.24 0 0 1 752.06 135.78M748.25 144.12A50.71 50.71 0 0 1 746.64 136.51M743.01 145.66A56.18 56.18 0 0 1 741.21 137.23M737.76 147.21A61.65 61.65 0 0 1 735.79 137.95M732.51 148.75A67.12 67.12 0 0 1 730.37 138.68M727.26 150.30A72.59 72.59 0 0 1 724.95 139.40M722.02 151.84A78.06 78.06 0 0 1 719.53 140.12M716.77 153.38A83.53 83.53 0 0 1 714.10 140.85M757.25 132.85A39.77 39.77 0 0 1 757.25 126.75M751.79 133.27A45.24 45.24 0 0 1 751.79 126.33M746.34 133.69A50.71 50.71 0 0 1 746.34 125.91M740.89 134.11A56.18 56.18 0 0 1 740.89 125.49M735.43 134.53A61.65 61.65 0 0 1 735.43 125.07M729.98 134.95A67.12 67.12 0 0 1 729.98 124.65M724.52 135.37A72.59 72.59 0 0 1 724.52 124.23M719.07 135.79A78.06 78.06 0 0 1 719.07 123.81M713.62 136.21A83.53 83.53 0 0 1 713.62 123.39M757.48 124.54A39.77 39.77 0 0 1 758.75 118.57M752.06 123.82A45.24 45.24 0 0 1 753.50 117.03M746.64 123.09A50.71 50.71 0 0 1 748.25 115.48M741.21 122.37A56.18 56.18 0 0 1 743.01 113.94M735.79 121.65A61.65 61.65 0 0 1 737.76 112.39M730.37 120.92A67.12 67.12 0 0 1 732.51 110.85M724.95 120.20A72.59 72.59 0 0 1 727.26 109.30M719.53 119.48A78.06 78.06 0 0 1 722.02 107.76M714.10 118.75A83.53 83.53 0 0 1 716.77 106.22M759.43 116.46A39.77 39.77 0 0 1 761.92 110.88M754.28 114.62A45.24 45.24 0 0 1 757.10 108.28M749.13 112.79A50.71 50.71 0 0 1 752.29 105.68M743.98 110.95A56.18 56.18 0 0 1 747.48 103.08M738.82 109.12A61.65 61.65 0 0 1 742.67 100.48M733.67 107.28A67.12 67.12 0 0 1 737.86 97.88M728.52 105.45A72.59 72.59 0 0 1 733.05 95.27M723.36 103.61A78.06 78.06 0 0 1 728.23 92.67M718.21 101.78A83.53 83.53 0 0 1 723.42 90.07M763.03 108.96A39.77 39.77 0 0 1 766.61 104.02M758.37 106.09A45.24 45.24 0 0 1 762.45 100.48M753.71 103.23A50.71 50.71 0 0 1 758.28 96.93M749.05 100.36A56.18 56.18 0 0 1 754.12 93.39M744.39 97.50A61.65 61.65 0 0 1 749.95 89.84M739.73 94.63A67.12 67.12 0 0 1 745.79 86.30M735.07 91.76A72.59 72.59 0 0 1 741.62 82.75M730.41 88.90A78.06 78.06 0 0 1 737.45 79.21M725.76 86.03A83.53 83.53 0 0 1 733.29 75.66M768.10 102.37A39.77 39.77 0 0 1 772.63 98.29M764.14 98.60A45.24 45.24 0 0 1 769.30 93.96M760.18 94.83A50.71 50.71 0 0 1 765.96 89.62M756.22 91.06A56.18 56.18 0 0 1 762.62 85.29M752.25 87.28A61.65 61.65 0 0 1 759.28 80.96M748.29 83.51A67.12 67.12 0 0 1 755.95 76.62M744.33 79.74A72.59 72.59 0 0 1 752.61 72.29M740.37 75.97A78.06 78.06 0 0 1 749.27 67.95M736.41 72.20A83.53 83.53 0 0 1 745.93 63.62M774.43 96.99A39.77 39.77 0 0 1 779.72 93.93M771.34 92.47A45.24 45.24 0 0 1 777.35 89.00M768.25 87.96A50.71 50.71 0 0 1 774.99 84.07M765.16 83.45A56.18 56.18 0 0 1 772.63 79.14M762.07 78.93A61.65 61.65 0 0 1 770.26 74.20M758.98 74.42A67.12 67.12 0 0 1 767.90 69.27M755.89 69.91A72.59 72.59 0 0 1 765.53 64.34M752.80 65.39A78.06 78.06 0 0 1 763.17 59.40M749.71 60.88A83.53 83.53 0 0 1 760.81 54.47M781.74 93.03A39.77 39.77 0 0 1 787.55 91.15M779.66 87.97A45.24 45.24 0 0 1 786.26 85.83M777.58 82.92A50.71 50.71 0 0 1 784.98 80.51M775.49 77.86A56.18 56.18 0 0 1 783.69 75.20M773.41 72.80A61.65 61.65 0 0 1 782.40 69.88M771.32 67.74A67.12 67.12 0 0 1 781.12 64.56M769.24 62.69A72.59 72.59 0 0 1 779.83 59.25M767.15 57.63A78.06 78.06 0 0 1 778.54 53.93M765.07 52.57A83.53 83.53 0 0 1 777.26 48.61M789.72 90.68A39.77 39.77 0 0 1 795.79 90.05M788.73 85.30A45.24 45.24 0 0 1 795.64 84.58M787.75 79.92A50.71 50.71 0 0 1 795.48 79.11M786.76 74.54A56.18 56.18 0 0 1 795.33 73.64M785.77 69.16A61.65 61.65 0 0 1 795.18 68.17M784.78 63.78A67.12 67.12 0 0 1 795.03 62.71M783.80 58.40A72.59 72.59 0 0 1 794.87 57.24M782.81 53.02A78.06 78.06 0 0 1 794.72 51.77M781.82 47.64A83.53 83.53 0 0 1 794.57 46.30" stroke="#c6c4c4" stroke-width=".7" fill="none"/>
<path d="M797.75 40.80A89.00 89.00 0 0 1 814.57 42.57L803.71 96.18A34.30 34.30 0 0 0 797.23 95.50Z" fill="#e6bc2e"/>
<path d="M799.08 33.82A96.00 96.00 0 0 1 808.50 34.50L808.08 37.98A92.50 92.50 0 0 0 799.00 37.32Z" fill="#e02a20"/>
<path d="M808.50 34.50A96.00 96.00 0 0 1 814.72 35.47L814.07 38.91A92.50 92.50 0 0 0 808.08 37.98Z" fill="#1e9e44"/>
<rect x="803.37" y="38.87" width="1" height=".8" fill="#666" opacity=".55"/>
<rect x="810.32" y="39.67" width="1" height=".8" fill="#666" opacity=".55"/>
<path d="M799.74 28.24A101.60 101.60 0 0 1 801.51 28.30L801.38 31.20A98.70 98.70 0 0 0 799.66 31.14Z" fill="#cf2f2a"/>
<path d="M816.24 42.93A89.00 89.00 0 0 1 832.32 48.15L810.55 98.33A34.30 34.30 0 0 0 804.35 96.32Z" fill="#e6bc2e"/>
<path d="M818.98 36.37A96.00 96.00 0 0 1 827.76 38.90L826.64 42.21A92.50 92.50 0 0 0 818.18 39.78Z" fill="#e02a20"/>
<path d="M827.76 38.90A96.00 96.00 0 0 1 833.95 41.24L832.60 44.47A92.50 92.50 0 0 0 826.64 42.21Z" fill="#1e9e44"/>
<rect x="821.88" y="42.25" width="1" height=".8" fill="#666" opacity=".55"/>
<rect x="828.53" y="44.48" width="1" height=".8" fill="#666" opacity=".55"/>
<path d="M820.79 31.05A101.60 101.60 0 0 1 822.51 31.48L821.78 34.29A98.70 98.70 0 0 0 820.11 33.87Z" fill="#cf2f2a"/>
<path d="M833.88 48.85A89.00 89.00 0 0 1 848.52 57.30L816.79 101.86A34.30 34.30 0 0 0 811.15 98.60Z" fill="#e6bc2e"/>
<path d="M837.93 43.01A96.00 96.00 0 0 1 845.58 47.06L843.81 50.07A92.50 92.50 0 0 0 836.43 46.17Z" fill="#e02a20"/>
<path d="M845.58 47.06A96.00 96.00 0 0 1 851.55 50.87L849.56 53.75A92.50 92.50 0 0 0 843.81 50.07Z" fill="#1e9e44"/>
<rect x="839.23" y="49.34" width="1" height=".8" fill="#666" opacity=".55"/>
<rect x="845.30" y="52.89" width="1" height=".8" fill="#666" opacity=".55"/>
<path d="M840.80 38.17A101.60 101.60 0 0 1 842.39 38.95L841.09 41.55A98.70 98.70 0 0 0 839.55 40.79Z" fill="#cf2f2a"/>
<path d="M849.90 58.30A89.00 89.00 0 0 1 862.47 69.62L822.17 106.61A34.30 34.30 0 0 0 817.33 102.25Z" fill="#e6bc2e"/>
<path d="M855.07 53.43A96.00 96.00 0 0 1 861.72 58.99L859.36 61.57A92.50 92.50 0 0 0 852.95 56.22Z" fill="#e02a20"/>
<path d="M861.72 58.99A96.00 96.00 0 0 1 866.77 63.96L864.22 66.36A92.50 92.50 0 0 0 859.36 61.57Z" fill="#1e9e44"/>
<rect x="854.94" y="59.99" width="1" height=".8" fill="#666" opacity=".55"/>
<rect x="860.14" y="64.73" width="1" height=".8" fill="#666" opacity=".55"/>
<path d="M858.89 49.30A101.60 101.60 0 0 1 860.29 50.40L858.48 52.66A98.70 98.70 0 0 0 857.12 51.60Z" fill="#cf2f2a"/>
<path d="M863.61 70.89A89.00 89.00 0 0 1 873.55 84.56L826.44 112.37A34.30 34.30 0 0 0 822.61 107.09Z" fill="#e6bc2e"/>
<path d="M869.68 67.20A96.00 96.00 0 0 1 875.03 74.01L872.18 76.05A92.50 92.50 0 0 0 867.03 69.48Z" fill="#e02a20"/>
<path d="M875.03 74.01A96.00 96.00 0 0 1 878.93 79.93L875.94 81.74A92.50 92.50 0 0 0 872.18 76.05Z" fill="#1e9e44"/>
<rect x="868.09" y="73.68" width="1" height=".8" fill="#666" opacity=".55"/>
<rect x="872.19" y="79.40" width="1" height=".8" fill="#666" opacity=".55"/>
<path d="M874.27 63.95A101.60 101.60 0 0 1 875.41 65.31L873.17 67.15A98.70 98.70 0 0 0 872.06 65.83Z" fill="#cf2f2a"/>
<path d="M874.40 86.04A89.00 89.00 0 0 1 881.28 101.49L829.42 118.89A34.30 34.30 0 0 0 826.77 112.94Z" fill="#e6bc2e"/>
<path d="M881.11 83.70A96.00 96.00 0 0 1 884.60 90.75L881.40 92.18A92.50 92.50 0 0 0 878.04 85.38Z" fill="#e02a20"/>
<path d="M884.60 90.75A96.00 96.00 0 0 1 887.50 98.07L884.20 99.23A92.50 92.50 0 0 0 881.40 92.18Z" fill="#1e9e44"/>
<rect x="877.93" y="89.43" width="1" height=".8" fill="#666" opacity=".55"/>
<rect x="880.79" y="95.90" width="1" height=".8" fill="#666" opacity=".55"/>
<path d="M886.27 81.48A101.60 101.60 0 0 1 887.10 83.04L884.53 84.38A98.70 98.70 0 0 0 883.72 82.86Z" fill="#cf2f2a"/>
<path d="M881.80 103.11A89.00 89.00 0 0 1 885.32 119.65L830.98 125.89A34.30 34.30 0 0 0 829.62 119.51Z" fill="#e6bc2e"/>
<path d="M888.85 102.21A96.00 96.00 0 0 1 890.87 110.15L887.44 110.87A92.50 92.50 0 0 0 885.50 103.22Z" fill="#e02a20"/>
<path d="M890.87 110.15A96.00 96.00 0 0 1 892.12 117.60L888.65 118.05A92.50 92.50 0 0 0 887.44 110.87Z" fill="#1e9e44"/>
<rect x="884.50" y="107.42" width="1" height=".8" fill="#666" opacity=".55"/>
<rect x="885.94" y="114.33" width="1" height=".8" fill="#666" opacity=".55"/>
<path d="M894.37 101.11A101.60 101.60 0 0 1 894.85 102.82L892.06 103.59A98.70 98.70 0 0 0 891.58 101.93Z" fill="#cf2f2a"/>
<path d="M861.61 123.63A65.00 65.00 0 0 1 861.61 135.97L831.04 133.06A34.30 34.30 0 0 0 831.04 126.54Z" fill="#e6bc2e"/>
<path d="M892.58 121.93A96.00 96.00 0 0 1 892.90 129.01L889.40 129.04A92.50 92.50 0 0 0 889.09 122.22Z" fill="#e02a20"/>
<path d="M892.90 129.01A96.00 96.00 0 0 1 892.58 137.67L889.09 137.38A92.50 92.50 0 0 0 889.40 129.04Z" fill="#1e9e44"/>
<rect x="887.12" y="125.64" width="1" height=".8" fill="#666" opacity=".55"/>
<rect x="887.14" y="132.75" width="1" height=".8" fill="#666" opacity=".55"/>
<path d="M898.20 122.01A101.60 101.60 0 0 1 898.37 124.66L895.47 124.81A98.70 98.70 0 0 0 895.31 122.23Z" fill="#e4604e"/>
<path d="M841.51 134.92A44.90 44.90 0 0 1 839.73 143.26L829.62 140.09A34.30 34.30 0 0 0 830.98 133.71Z" fill="#e6bc2e"/>
<path d="M892.12 142.00A96.00 96.00 0 0 1 890.80 149.76L887.38 149.03A92.50 92.50 0 0 0 888.65 141.55Z" fill="#e02a20"/>
<path d="M890.80 149.76A96.00 96.00 0 0 1 888.85 157.39L885.50 156.38A92.50 92.50 0 0 0 887.38 149.03Z" fill="#1e9e44"/>
<rect x="885.85" y="144.99" width="1" height=".8" fill="#666" opacity=".55"/>
<rect x="884.37" y="151.90" width="1" height=".8" fill="#666" opacity=".55"/>
<path d="M897.61 143.24A101.60 101.60 0 0 1 897.08 146.74L894.22 146.26A98.70 98.70 0 0 0 894.73 142.85Z" fill="#f19a80"/>
<path d="M834.44 142.40A39.60 39.60 0 0 1 831.38 149.27L826.77 146.66A34.30 34.30 0 0 0 829.42 140.71Z" fill="#e6bc2e"/>
<path d="M887.50 161.53A96.00 96.00 0 0 1 886.42 164.48L883.15 163.22A92.50 92.50 0 0 0 884.20 160.37Z" fill="#e02a20"/>
<path d="M886.42 164.48A96.00 96.00 0 0 1 881.11 175.90L878.04 174.22A92.50 92.50 0 0 0 883.15 163.22Z" fill="#1e9e44"/>
<rect x="881.54" y="160.95" width="1" height=".8" fill="#666" opacity=".55"/>
<rect x="878.73" y="167.69" width="1" height=".8" fill="#666" opacity=".55"/>
<path d="M892.61 163.88A101.60 101.60 0 0 1 890.35 169.66L887.69 168.52A98.70 98.70 0 0 0 889.88 162.91Z" fill="#f19a80"/>
<path d="M854.94 164.06A67.40 67.40 0 0 1 847.42 174.42L822.61 152.51A34.30 34.30 0 0 0 826.44 147.23Z" fill="#da4485"/>
<path d="M878.93 179.67A96.00 96.00 0 0 1 874.57 186.23L871.73 184.17A92.50 92.50 0 0 0 875.94 177.86Z" fill="#e02a20"/>
<path d="M874.57 186.23A96.00 96.00 0 0 1 869.68 192.40L867.03 190.12A92.50 92.50 0 0 0 871.73 184.17Z" fill="#1e9e44"/>
<rect x="871.78" y="180.02" width="1" height=".8" fill="#666" opacity=".55"/>
<rect x="867.61" y="185.74" width="1" height=".8" fill="#666" opacity=".55"/>
<path d="M883.44 183.04A101.60 101.60 0 0 1 882.01 185.28L879.58 183.70A98.70 98.70 0 0 0 880.97 181.52Z" fill="#f19a80"/>
<path d="M838.30 167.80A56.20 56.20 0 0 1 830.37 174.95L817.33 157.35A34.30 34.30 0 0 0 822.17 152.99Z" fill="#da4485"/>
<path d="M866.77 195.64A96.00 96.00 0 0 1 861.72 200.61L859.36 198.03A92.50 92.50 0 0 0 864.22 193.24Z" fill="#e02a20"/>
<path d="M861.72 200.61A96.00 96.00 0 0 1 855.07 206.17L852.95 203.38A92.50 92.50 0 0 0 859.36 198.03Z" fill="#1e9e44"/>
<rect x="859.90" y="194.30" width="1" height=".8" fill="#666" opacity=".55"/>
<rect x="854.63" y="199.07" width="1" height=".8" fill="#666" opacity=".55"/>
<path d="M870.48 199.87A101.60 101.60 0 0 1 868.62 201.77L866.57 199.71A98.70 98.70 0 0 0 868.38 197.87Z" fill="#f19a80"/>
<path d="M826.36 171.18A50.80 50.80 0 0 1 818.01 176.01L811.15 161.00A34.30 34.30 0 0 0 816.79 157.74Z" fill="#da4485"/>
<path d="M851.55 208.73A96.00 96.00 0 0 1 844.90 212.94L843.15 209.91A92.50 92.50 0 0 0 849.56 205.85Z" fill="#e02a20"/>
<path d="M844.90 212.94A96.00 96.00 0 0 1 837.93 216.59L836.43 213.43A92.50 92.50 0 0 0 843.15 209.91Z" fill="#1e9e44"/>
<rect x="844.67" y="206.31" width="1" height=".8" fill="#666" opacity=".55"/>
<rect x="838.54" y="209.83" width="1" height=".8" fill="#666" opacity=".55"/>
<path d="M854.30 213.63A101.60 101.60 0 0 1 852.09 215.11L850.51 212.67A98.70 98.70 0 0 0 852.66 211.24Z" fill="#f19a80"/>
<path d="M815.76 173.29A47.40 47.40 0 0 1 807.20 176.07L804.35 163.28A34.30 34.30 0 0 0 810.55 161.27Z" fill="#da4485"/>
<path d="M833.95 218.36A96.00 96.00 0 0 1 819.44 223.12L818.62 219.71A92.50 92.50 0 0 0 832.60 215.13Z" fill="#e02a20"/>
<path d="M819.44 223.12A96.00 96.00 0 0 1 818.98 223.23L818.18 219.82A92.50 92.50 0 0 0 818.62 219.71Z" fill="#1e9e44"/>
<rect x="823.98" y="215.91" width="1" height=".8" fill="#666" opacity=".55"/>
<rect x="817.51" y="217.71" width="1" height=".8" fill="#666" opacity=".55"/>
<path d="M835.62 223.73A101.60 101.60 0 0 1 831.48 225.33L830.50 222.61A98.70 98.70 0 0 0 834.51 221.05Z" fill="#f19a80"/>
<path d="M806.31 176.26A47.40 47.40 0 0 1 797.36 177.20L797.23 164.10A34.30 34.30 0 0 0 803.71 163.42Z" fill="#da4485"/>
<path d="M814.72 224.13A96.00 96.00 0 0 1 799.55 225.76L799.45 222.26A92.50 92.50 0 0 0 814.07 220.69Z" fill="#e02a20"/>
<path d="M799.55 225.76A96.00 96.00 0 0 1 799.08 225.78L799.00 222.28A92.50 92.50 0 0 0 799.45 222.26Z" fill="#1e9e44"/>
<rect x="805.39" y="219.75" width="1" height=".8" fill="#666" opacity=".55"/>
<rect x="798.68" y="220.17" width="1" height=".8" fill="#666" opacity=".55"/>
<path d="M815.24 229.73A101.60 101.60 0 0 1 810.86 230.44L810.47 227.56A98.70 98.70 0 0 0 814.72 226.88Z" fill="#f19a80"/>
<path d="M796.48 173.50A43.70 43.70 0 0 1 788.22 172.63L790.09 163.42A34.30 34.30 0 0 0 796.57 164.10Z" fill="#da4485"/>
<path d="M794.72 225.78A96.00 96.00 0 0 1 782.96 224.78L783.47 221.32A92.50 92.50 0 0 0 794.80 222.28Z" fill="#e02a20"/>
<path d="M782.96 224.78A96.00 96.00 0 0 1 779.08 224.13L779.73 220.69A92.50 92.50 0 0 0 783.47 221.32Z" fill="#1e9e44"/>
<rect x="788.21" y="219.83" width="1" height=".8" fill="#666" opacity=".55"/>
<rect x="781.37" y="218.95" width="1" height=".8" fill="#666" opacity=".55"/>
<path d="M794.06 231.36A101.60 101.60 0 0 1 788.75 231.07L788.98 228.18A98.70 98.70 0 0 0 794.14 228.46Z" fill="#f19a80"/>
<path d="M787.99 169.82A41.00 41.00 0 0 1 780.58 167.41L783.25 161.27A34.30 34.30 0 0 0 789.45 163.28Z" fill="#da4485"/>
<path d="M774.82 223.23A96.00 96.00 0 0 1 769.49 221.80L770.49 218.45A92.50 92.50 0 0 0 775.62 219.82Z" fill="#e02a20"/>
<path d="M769.49 221.80A96.00 96.00 0 0 1 759.85 218.36L761.20 215.13A92.50 92.50 0 0 0 770.49 218.45Z" fill="#1e9e44"/>
<rect x="772.73" y="217.06" width="1" height=".8" fill="#666" opacity=".55"/>
<rect x="765.87" y="214.91" width="1" height=".8" fill="#666" opacity=".55"/>
<path d="M773.01 228.55A101.60 101.60 0 0 1 767.03 226.91L767.88 224.14A98.70 98.70 0 0 0 773.69 225.73Z" fill="#f19a80"/>
<path d="M780.07 166.64A40.50 40.50 0 0 1 773.41 162.79L777.01 157.74A34.30 34.30 0 0 0 782.65 161.00Z" fill="#da4485"/>
<path d="M755.87 216.59A96.00 96.00 0 0 1 750.96 214.09L752.64 211.02A92.50 92.50 0 0 0 757.37 213.43Z" fill="#e02a20"/>
<path d="M750.96 214.09A96.00 96.00 0 0 1 742.25 208.73L744.24 205.85A92.50 92.50 0 0 0 752.64 211.02Z" fill="#1e9e44"/>
<rect x="755.02" y="210.22" width="1" height=".8" fill="#666" opacity=".55"/>
<rect x="748.76" y="206.70" width="1" height=".8" fill="#666" opacity=".55"/>
<path d="M753.00 221.43A101.60 101.60 0 0 1 745.95 217.70L747.40 215.19A98.70 98.70 0 0 0 754.25 218.81Z" fill="#f19a80"/>
<path d="M773.14 161.85A39.90 39.90 0 0 1 767.51 156.78L771.63 152.99A34.30 34.30 0 0 0 776.47 157.35Z" fill="#da4485"/>
<path d="M738.73 206.17A96.00 96.00 0 0 1 731.50 200.08L733.89 197.52A92.50 92.50 0 0 0 740.85 203.38Z" fill="#e02a20"/>
<path d="M731.50 200.08A96.00 96.00 0 0 1 727.03 195.64L729.58 193.24A92.50 92.50 0 0 0 733.89 197.52Z" fill="#1e9e44"/>
<rect x="737.55" y="198.55" width="1" height=".8" fill="#666" opacity=".55"/>
<rect x="732.40" y="193.81" width="1" height=".8" fill="#666" opacity=".55"/>
<path d="M734.91 210.30A101.60 101.60 0 0 1 728.13 204.59L730.09 202.45A98.70 98.70 0 0 0 736.68 208.00Z" fill="#f19a80"/>
<path d="M767.97 155.35A38.60 38.60 0 0 1 763.66 149.42L767.36 147.23A34.30 34.30 0 0 0 771.19 152.51Z" fill="#da4485"/>
<path d="M724.12 192.40A96.00 96.00 0 0 1 716.55 182.34L719.48 180.42A92.50 92.50 0 0 0 726.77 190.12Z" fill="#e02a20"/>
<path d="M716.55 182.34A96.00 96.00 0 0 1 714.87 179.67L717.86 177.86A92.50 92.50 0 0 0 719.48 180.42Z" fill="#1e9e44"/>
<rect x="723.47" y="183.49" width="1" height=".8" fill="#666" opacity=".55"/>
<rect x="719.60" y="177.84" width="1" height=".8" fill="#666" opacity=".55"/>
<path d="M719.53 195.65A101.60 101.60 0 0 1 713.57 187.93L715.95 186.27A98.70 98.70 0 0 0 721.74 193.77Z" fill="#f19a80"/>
<path d="M740.65 161.56A64.60 64.60 0 0 1 735.66 150.35L764.38 140.71A34.30 34.30 0 0 0 767.03 146.66Z" fill="#8c3a7c"/>
<path d="M712.69 175.90A96.00 96.00 0 0 1 707.10 163.75L710.38 162.51A92.50 92.50 0 0 0 715.76 174.22Z" fill="#e02a20"/>
<path d="M707.10 163.75A96.00 96.00 0 0 1 706.30 161.53L709.60 160.37A92.50 92.50 0 0 0 710.38 162.51Z" fill="#1e9e44"/>
<rect x="713.65" y="166.77" width="1" height=".8" fill="#666" opacity=".55"/>
<rect x="711.08" y="160.46" width="1" height=".8" fill="#666" opacity=".55"/>
<path d="M707.53 178.12A101.60 101.60 0 0 1 705.90 174.97L708.49 173.69A98.70 98.70 0 0 0 710.08 176.74Z" fill="#f19a80"/>
<path d="M737.94 148.33A61.80 61.80 0 0 1 735.50 136.85L762.82 133.71A34.30 34.30 0 0 0 764.18 140.09Z" fill="#8c3a7c"/>
<path d="M704.95 157.39A96.00 96.00 0 0 1 701.78 142.78L705.25 142.31A92.50 92.50 0 0 0 708.30 156.38Z" fill="#e02a20"/>
<path d="M701.78 142.78A96.00 96.00 0 0 1 701.68 142.00L705.15 141.55A92.50 92.50 0 0 0 705.25 142.31Z" fill="#1e9e44"/>
<rect x="707.52" y="147.95" width="1" height=".8" fill="#666" opacity=".55"/>
<rect x="706.38" y="141.31" width="1" height=".8" fill="#666" opacity=".55"/>
<path d="M699.43 158.49A101.60 101.60 0 0 1 698.15 153.69L700.97 153.01A98.70 98.70 0 0 0 702.22 157.67Z" fill="#f19a80"/>
<path d="M747.13 134.55A50.00 50.00 0 0 1 747.13 125.05L762.76 126.54A34.30 34.30 0 0 0 762.76 133.06Z" fill="#8c3a7c"/>
<path d="M701.22 137.67A96.00 96.00 0 0 1 700.90 129.01L704.40 129.04A92.50 92.50 0 0 0 704.71 137.38Z" fill="#e02a20"/>
<path d="M700.90 129.01A96.00 96.00 0 0 1 701.22 121.93L704.71 122.22A92.50 92.50 0 0 0 704.40 129.04Z" fill="#1e9e44"/>
<rect x="705.65" y="132.34" width="1" height=".8" fill="#666" opacity=".55"/>
<rect x="705.69" y="125.30" width="1" height=".8" fill="#666" opacity=".55"/>
<path d="M695.60 137.59A101.60 101.60 0 0 1 695.33 132.28L698.23 132.21A98.70 98.70 0 0 0 698.49 137.37Z" fill="#f19a80"/>
<path d="M747.62 124.14A49.60 49.60 0 0 1 749.58 114.93L764.18 119.51A34.30 34.30 0 0 0 762.82 125.89Z" fill="#8c3a7c"/>
<path d="M701.68 117.60A96.00 96.00 0 0 1 703.34 108.30L706.75 109.09A92.50 92.50 0 0 0 705.15 118.05Z" fill="#e02a20"/>
<path d="M703.34 108.30A96.00 96.00 0 0 1 704.95 102.21L708.30 103.22A92.50 92.50 0 0 0 706.75 109.09Z" fill="#1e9e44"/>
<rect x="707.09" y="113.01" width="1" height=".8" fill="#666" opacity=".55"/>
<rect x="708.62" y="106.17" width="1" height=".8" fill="#666" opacity=".55"/>
<path d="M696.19 116.36A101.60 101.60 0 0 1 697.03 111.11L699.88 111.64A98.70 98.70 0 0 0 699.07 116.75Z" fill="#f19a80"/>
<path d="M749.97 114.05A49.50 49.50 0 0 1 753.80 105.46L767.03 112.94A34.30 34.30 0 0 0 764.38 118.89Z" fill="#8c3a7c"/>
<path d="M706.30 98.07A96.00 96.00 0 0 1 710.87 87.19L714.01 88.74A92.50 92.50 0 0 0 709.60 99.23Z" fill="#e02a20"/>
<path d="M710.87 87.19A96.00 96.00 0 0 1 712.69 83.70L715.76 85.38A92.50 92.50 0 0 0 714.01 88.74Z" fill="#1e9e44"/>
<rect x="712.93" y="93.66" width="1" height=".8" fill="#666" opacity=".55"/>
<rect x="715.88" y="87.44" width="1" height=".8" fill="#666" opacity=".55"/>
<path d="M701.19 95.72A101.60 101.60 0 0 1 703.10 90.76L705.78 91.87A98.70 98.70 0 0 0 703.92 96.69Z" fill="#f19a80"/>
<path d="M757.37 106.47A45.90 45.90 0 0 1 762.50 99.42L771.19 107.09A34.30 34.30 0 0 0 767.36 112.37Z" fill="#8c3a7c"/>
<path d="M714.87 79.93A96.00 96.00 0 0 1 720.17 72.11L722.97 74.21A92.50 92.50 0 0 0 717.86 81.74Z" fill="#e02a20"/>
<path d="M720.17 72.11A96.00 96.00 0 0 1 724.12 67.20L726.77 69.48A92.50 92.50 0 0 0 722.97 74.21Z" fill="#1e9e44"/>
<rect x="721.48" y="78.10" width="1" height=".8" fill="#666" opacity=".55"/>
<rect x="725.66" y="72.48" width="1" height=".8" fill="#666" opacity=".55"/>
<path d="M710.36 76.56A101.60 101.60 0 0 1 714.29 70.66L716.65 72.34A98.70 98.70 0 0 0 712.83 78.08Z" fill="#f19a80"/>
<path d="M763.45 99.10A45.40 45.40 0 0 1 769.86 93.33L776.47 102.25A34.30 34.30 0 0 0 771.63 106.61Z" fill="#8c3a7c"/>
<path d="M727.03 63.96A96.00 96.00 0 0 1 734.44 56.90L736.72 59.56A92.50 92.50 0 0 0 729.58 66.36Z" fill="#e02a20"/>
<path d="M734.44 56.90A96.00 96.00 0 0 1 738.73 53.43L740.85 56.22A92.50 92.50 0 0 0 736.72 59.56Z" fill="#1e9e44"/>
<rect x="734.08" y="63.36" width="1" height=".8" fill="#666" opacity=".55"/>
<rect x="739.33" y="58.78" width="1" height=".8" fill="#666" opacity=".55"/>
<path d="M723.32 59.73A101.60 101.60 0 0 1 728.39 54.77L730.35 56.91A98.70 98.70 0 0 0 725.42 61.73Z" fill="#f19a80"/>
<path d="M772.02 94.85A42.90 42.90 0 0 1 779.08 90.78L782.65 98.60A34.30 34.30 0 0 0 777.01 101.86Z" fill="#8c3a7c"/>
<path d="M742.25 50.87A96.00 96.00 0 0 1 751.65 45.13L753.30 48.22A92.50 92.50 0 0 0 744.24 53.75Z" fill="#e02a20"/>
<path d="M751.65 45.13A96.00 96.00 0 0 1 755.87 43.01L757.37 46.17A92.50 92.50 0 0 0 753.30 48.22Z" fill="#1e9e44"/>
<rect x="749.52" y="51.64" width="1" height=".8" fill="#666" opacity=".55"/>
<rect x="755.59" y="48.29" width="1" height=".8" fill="#666" opacity=".55"/>
<path d="M739.50 45.97A101.60 101.60 0 0 1 745.79 41.99L747.25 44.50A98.70 98.70 0 0 0 741.14 48.36Z" fill="#f19a80"/>
<path d="M780.31 91.54A41.70 41.70 0 0 1 787.84 89.10L789.45 96.32A34.30 34.30 0 0 0 783.25 98.33Z" fill="#8c3a7c"/>
<path d="M759.85 41.24A96.00 96.00 0 0 1 771.76 37.15L772.68 40.53A92.50 92.50 0 0 0 761.20 44.47Z" fill="#e02a20"/>
<path d="M771.76 37.15A96.00 96.00 0 0 1 774.82 36.37L775.62 39.78A92.50 92.50 0 0 0 772.68 40.53Z" fill="#1e9e44"/>
<rect x="767.49" y="43.32" width="1" height=".8" fill="#666" opacity=".55"/>
<rect x="774.06" y="41.39" width="1" height=".8" fill="#666" opacity=".55"/>
<path d="M758.18 35.87A101.60 101.60 0 0 1 765.67 33.12L766.56 35.88A98.70 98.70 0 0 0 759.29 38.55Z" fill="#f19a80"/>
<path d="M788.70 89.32A41.30 41.30 0 0 1 796.50 88.50L796.57 95.50A34.30 34.30 0 0 0 790.09 96.18Z" fill="#8c3a7c"/>
<path d="M779.08 35.47A96.00 96.00 0 0 1 790.79 33.99L791.01 37.49A92.50 92.50 0 0 0 779.73 38.91Z" fill="#e02a20"/>
<path d="M790.79 33.99A96.00 96.00 0 0 1 794.72 33.82L794.80 37.32A92.50 92.50 0 0 0 791.01 37.49Z" fill="#1e9e44"/>
<rect x="785.61" y="39.24" width="1" height=".8" fill="#666" opacity=".55"/>
<rect x="792.48" y="38.68" width="1" height=".8" fill="#666" opacity=".55"/>
<path d="M778.56 29.87A101.60 101.60 0 0 1 787.34 28.65L787.61 31.54A98.70 98.70 0 0 0 779.08 32.72Z" fill="#f19a80"/>
<circle cx="796.9" cy="129.8" r="34.0" fill="#fff"/>
<text x="798.50" y="14.10" font-size="7.5" font-weight="bold" text-anchor="middle" fill="#1a1a1a">GO Enrichment of T1_vs_T2</text>
<rect x="769.0" y="116.5" width="12.3" height="5.5" fill="#8a8a8a"/>
<text x="775.20" y="120.50" font-size="4" text-anchor="middle" fill="#333">100</text>
<text x="783.80" y="121.00" font-size="5.4" text-anchor="start" fill="#111">Number of Genes</text>
<rect x="769.0" y="125.4" width="12.3" height="5.5" fill="#e3241c"/>
<text x="783.80" y="129.90" font-size="5.4" text-anchor="start" fill="#111">Up-regulated</text>
<rect x="769.0" y="134.3" width="12.3" height="5.5" fill="#1b9c3e"/>
<text x="783.80" y="138.80" font-size="5.4" text-anchor="start" fill="#111">Down-regulated</text>
<rect x="769.0" y="143.2" width="12.3" height="5.5" fill="#868686"/>
<text x="783.80" y="147.70" font-size="5.4" text-anchor="start" fill="#111">Rich Factor(0-1.0)</text>
<rect x="913.1" y="64.9" width="2.8" height="2.8" fill="#e6bc2e"/>
<text x="916.80" y="67.80" font-size="4.9" text-anchor="start" fill="#222">Molecular Function</text>
<rect x="913.1" y="69.5" width="2.8" height="2.8" fill="#da4485"/>
<text x="916.80" y="72.40" font-size="4.9" text-anchor="start" fill="#222">Cellular Component</text>
<rect x="913.1" y="74.1" width="2.8" height="2.8" fill="#8c3a7c"/>
<text x="916.80" y="77.00" font-size="4.9" text-anchor="start" fill="#222">Biological Progress</text>
<text x="914.60" y="89.20" font-size="4.9" text-anchor="start" fill="#222">-log10(Pvalue)</text>
<circle cx="914.3" cy="93.5" r="1.15" fill="#fdeee8"/>
<text x="916.80" y="95.10" font-size="4.9" text-anchor="start" fill="#222">[0,1.3]</text>
<circle cx="914.3" cy="98.2" r="1.15" fill="#f8c9b4"/>
<text x="916.80" y="99.77" font-size="4.9" text-anchor="start" fill="#222">[1.3,2]</text>
<circle cx="914.3" cy="102.8" r="1.15" fill="#f19a80"/>
<text x="916.80" y="104.44" font-size="4.9" text-anchor="start" fill="#222">[2,5]</text>
<circle cx="914.3" cy="107.5" r="1.15" fill="#e4604e"/>
<text x="916.80" y="109.11" font-size="4.9" text-anchor="start" fill="#222">[5,10]</text>
<circle cx="914.3" cy="112.2" r="1.15" fill="#cf2f2a"/>
<text x="916.80" y="113.78" font-size="4.9" text-anchor="start" fill="#222">[10,15]</text>
<circle cx="914.3" cy="116.8" r="1.15" fill="#a8161c"/>
<text x="916.80" y="118.45" font-size="4.9" text-anchor="start" fill="#222">[15,20]</text>
<circle cx="914.3" cy="121.5" r="1.15" fill="#5a0f17"/>
<text x="916.80" y="123.12" font-size="4.9" text-anchor="start" fill="#222">&gt;20</text>
<path d="M797.28 292.01A106.30 106.30 0 0 1 816.26 294.01L815.17 299.50A100.70 100.70 0 0 0 797.19 297.61Z" fill="#e6bc2e"/>
<path d="M799.67 294.88A103.50 103.50 0 0 1 813.32 296.31" stroke="#fff" stroke-opacity=".62" stroke-width="1.6" stroke-dasharray=".7 .4" fill="none"/>
<path d="M819.34 294.66A106.30 106.30 0 0 1 837.49 300.56L835.29 305.71A100.70 100.70 0 0 0 818.10 300.12Z" fill="#e6bc2e"/>
<path d="M821.09 297.96A103.50 103.50 0 0 1 834.14 302.20" stroke="#fff" stroke-opacity=".62" stroke-width="1.6" stroke-dasharray=".7 .4" fill="none"/>
<path d="M840.37 301.84A106.30 106.30 0 0 1 856.90 311.38L853.67 315.96A100.70 100.70 0 0 0 838.02 306.92Z" fill="#e6bc2e"/>
<path d="M841.40 305.43A103.50 103.50 0 0 1 853.28 312.29" stroke="#fff" stroke-opacity=".62" stroke-width="1.6" stroke-dasharray=".7 .4" fill="none"/>
<path d="M859.45 313.24A106.30 106.30 0 0 1 873.63 326.01L869.53 329.82A100.70 100.70 0 0 0 856.09 317.72Z" fill="#e6bc2e"/>
<path d="M859.71 316.96A103.50 103.50 0 0 1 869.90 326.14" stroke="#fff" stroke-opacity=".62" stroke-width="1.6" stroke-dasharray=".7 .4" fill="none"/>
<path d="M875.74 328.35A106.30 106.30 0 0 1 886.96 343.79L882.15 346.66A100.70 100.70 0 0 0 871.53 332.04Z" fill="#e6bc2e"/>
<path d="M875.22 332.05A103.50 103.50 0 0 1 883.28 343.15" stroke="#fff" stroke-opacity=".62" stroke-width="1.6" stroke-dasharray=".7 .4" fill="none"/>
<path d="M888.54 346.52A106.30 106.30 0 0 1 896.30 363.96L891.00 365.76A100.70 100.70 0 0 0 883.65 349.25Z" fill="#e6bc2e"/>
<path d="M887.25 350.03A103.50 103.50 0 0 1 892.83 362.56" stroke="#fff" stroke-opacity=".62" stroke-width="1.6" stroke-dasharray=".7 .4" fill="none"/>
<path d="M897.27 366.95A106.30 106.30 0 0 1 901.24 385.62L895.68 386.29A100.70 100.70 0 0 0 891.92 368.61Z" fill="#e6bc2e"/>
<path d="M895.29 370.12A103.50 103.50 0 0 1 898.14 383.54" stroke="#fff" stroke-opacity=".62" stroke-width="1.6" stroke-dasharray=".7 .4" fill="none"/>
<path d="M901.57 388.76A106.30 106.30 0 0 1 901.57 407.84L895.99 407.34A100.70 100.70 0 0 0 895.99 389.26Z" fill="#e6bc2e"/>
<path d="M898.97 391.44A103.50 103.50 0 0 1 898.97 405.16" stroke="#fff" stroke-opacity=".62" stroke-width="1.6" stroke-dasharray=".7 .4" fill="none"/>
<path d="M901.24 410.98A106.30 106.30 0 0 1 897.27 429.65L891.92 427.99A100.70 100.70 0 0 0 895.68 410.31Z" fill="#e6bc2e"/>
<path d="M898.14 413.06A103.50 103.50 0 0 1 895.29 426.48" stroke="#fff" stroke-opacity=".62" stroke-width="1.6" stroke-dasharray=".7 .4" fill="none"/>
<path d="M896.30 432.64A106.30 106.30 0 0 1 888.54 450.08L883.65 447.35A100.70 100.70 0 0 0 891.00 430.84Z" fill="#e6bc2e"/>
<path d="M892.83 434.04A103.50 103.50 0 0 1 887.25 446.57" stroke="#fff" stroke-opacity=".62" stroke-width="1.6" stroke-dasharray=".7 .4" fill="none"/>
<path d="M886.96 452.81A106.30 106.30 0 0 1 875.74 468.25L871.53 464.56A100.70 100.70 0 0 0 882.15 449.94Z" fill="#da4485"/>
<path d="M883.28 453.45A103.50 103.50 0 0 1 875.22 464.55" stroke="#fff" stroke-opacity=".62" stroke-width="1.6" stroke-dasharray=".7 .4" fill="none"/>
<path d="M873.63 470.59A106.30 106.30 0 0 1 859.45 483.36L856.09 478.88A100.70 100.70 0 0 0 869.53 466.78Z" fill="#da4485"/>
<path d="M869.90 470.46A103.50 103.50 0 0 1 859.71 479.64" stroke="#fff" stroke-opacity=".62" stroke-width="1.6" stroke-dasharray=".7 .4" fill="none"/>
<path d="M856.90 485.22A106.30 106.30 0 0 1 840.37 494.76L838.02 489.68A100.70 100.70 0 0 0 853.67 480.64Z" fill="#da4485"/>
<path d="M853.28 484.31A103.50 103.50 0 0 1 841.40 491.17" stroke="#fff" stroke-opacity=".62" stroke-width="1.6" stroke-dasharray=".7 .4" fill="none"/>
<path d="M837.49 496.04A106.30 106.30 0 0 1 819.34 501.94L818.10 496.48A100.70 100.70 0 0 0 835.29 490.89Z" fill="#da4485"/>
<path d="M834.14 494.40A103.50 103.50 0 0 1 821.09 498.64" stroke="#fff" stroke-opacity=".62" stroke-width="1.6" stroke-dasharray=".7 .4" fill="none"/>
<path d="M816.26 502.59A106.30 106.30 0 0 1 797.28 504.59L797.19 498.99A100.70 100.70 0 0 0 815.17 497.10Z" fill="#da4485"/>
<path d="M813.32 500.29A103.50 103.50 0 0 1 799.67 501.72" stroke="#fff" stroke-opacity=".62" stroke-width="1.6" stroke-dasharray=".7 .4" fill="none"/>
<path d="M794.12 504.59A106.30 106.30 0 0 1 775.14 502.59L776.23 497.10A100.70 100.70 0 0 0 794.21 498.99Z" fill="#da4485"/>
<path d="M791.73 501.72A103.50 103.50 0 0 1 778.08 500.29" stroke="#fff" stroke-opacity=".62" stroke-width="1.6" stroke-dasharray=".7 .4" fill="none"/>
<path d="M772.06 501.94A106.30 106.30 0 0 1 753.91 496.04L756.11 490.89A100.70 100.70 0 0 0 773.30 496.48Z" fill="#da4485"/>
<path d="M770.31 498.64A103.50 103.50 0 0 1 757.26 494.40" stroke="#fff" stroke-opacity=".62" stroke-width="1.6" stroke-dasharray=".7 .4" fill="none"/>
<path d="M751.03 494.76A106.30 106.30 0 0 1 734.50 485.22L737.73 480.64A100.70 100.70 0 0 0 753.38 489.68Z" fill="#da4485"/>
<path d="M750.00 491.17A103.50 103.50 0 0 1 738.12 484.31" stroke="#fff" stroke-opacity=".62" stroke-width="1.6" stroke-dasharray=".7 .4" fill="none"/>
<path d="M731.95 483.36A106.30 106.30 0 0 1 717.77 470.59L721.87 466.78A100.70 100.70 0 0 0 735.31 478.88Z" fill="#da4485"/>
<path d="M731.69 479.64A103.50 103.50 0 0 1 721.50 470.46" stroke="#fff" stroke-opacity=".62" stroke-width="1.6" stroke-dasharray=".7 .4" fill="none"/>
<path d="M715.66 468.25A106.30 106.30 0 0 1 704.44 452.81L709.25 449.94A100.70 100.70 0 0 0 719.87 464.56Z" fill="#da4485"/>
<path d="M716.18 464.55A103.50 103.50 0 0 1 708.12 453.45" stroke="#fff" stroke-opacity=".62" stroke-width="1.6" stroke-dasharray=".7 .4" fill="none"/>
<path d="M702.86 450.08A106.30 106.30 0 0 1 695.10 432.64L700.40 430.84A100.70 100.70 0 0 0 707.75 447.35Z" fill="#8c3a7c"/>
<path d="M704.15 446.57A103.50 103.50 0 0 1 698.57 434.04" stroke="#fff" stroke-opacity=".62" stroke-width="1.6" stroke-dasharray=".7 .4" fill="none"/>
<path d="M694.13 429.65A106.30 106.30 0 0 1 690.16 410.98L695.72 410.31A100.70 100.70 0 0 0 699.48 427.99Z" fill="#8c3a7c"/>
<path d="M696.11 426.48A103.50 103.50 0 0 1 693.26 413.06" stroke="#fff" stroke-opacity=".62" stroke-width="1.6" stroke-dasharray=".7 .4" fill="none"/>
<path d="M689.83 407.84A106.30 106.30 0 0 1 689.83 388.76L695.41 389.26A100.70 100.70 0 0 0 695.41 407.34Z" fill="#8c3a7c"/>
<path d="M692.43 405.16A103.50 103.50 0 0 1 692.43 391.44" stroke="#fff" stroke-opacity=".62" stroke-width="1.6" stroke-dasharray=".7 .4" fill="none"/>
<path d="M690.16 385.62A106.30 106.30 0 0 1 694.13 366.95L699.48 368.61A100.70 100.70 0 0 0 695.72 386.29Z" fill="#8c3a7c"/>
<path d="M693.26 383.54A103.50 103.50 0 0 1 696.11 370.12" stroke="#fff" stroke-opacity=".62" stroke-width="1.6" stroke-dasharray=".7 .4" fill="none"/>
<path d="M695.10 363.96A106.30 106.30 0 0 1 702.86 346.52L707.75 349.25A100.70 100.70 0 0 0 700.40 365.76Z" fill="#8c3a7c"/>
<path d="M698.57 362.56A103.50 103.50 0 0 1 704.15 350.03" stroke="#fff" stroke-opacity=".62" stroke-width="1.6" stroke-dasharray=".7 .4" fill="none"/>
<path d="M704.44 343.79A106.30 106.30 0 0 1 715.66 328.35L719.87 332.04A100.70 100.70 0 0 0 709.25 346.66Z" fill="#8c3a7c"/>
<path d="M708.12 343.15A103.50 103.50 0 0 1 716.18 332.05" stroke="#fff" stroke-opacity=".62" stroke-width="1.6" stroke-dasharray=".7 .4" fill="none"/>
<path d="M717.77 326.01A106.30 106.30 0 0 1 731.95 313.24L735.31 317.72A100.70 100.70 0 0 0 721.87 329.82Z" fill="#8c3a7c"/>
<path d="M721.50 326.14A103.50 103.50 0 0 1 731.69 316.96" stroke="#fff" stroke-opacity=".62" stroke-width="1.6" stroke-dasharray=".7 .4" fill="none"/>
<path d="M734.50 311.38A106.30 106.30 0 0 1 751.03 301.84L753.38 306.92A100.70 100.70 0 0 0 737.73 315.96Z" fill="#8c3a7c"/>
<path d="M738.12 312.29A103.50 103.50 0 0 1 750.00 305.43" stroke="#fff" stroke-opacity=".62" stroke-width="1.6" stroke-dasharray=".7 .4" fill="none"/>
<path d="M753.91 300.56A106.30 106.30 0 0 1 772.06 294.66L773.30 300.12A100.70 100.70 0 0 0 756.11 305.71Z" fill="#8c3a7c"/>
<path d="M757.26 302.20A103.50 103.50 0 0 1 770.31 297.96" stroke="#fff" stroke-opacity=".62" stroke-width="1.6" stroke-dasharray=".7 .4" fill="none"/>
<path d="M775.14 294.01A106.30 106.30 0 0 1 794.12 292.01L794.21 297.61A100.70 100.70 0 0 0 776.23 299.50Z" fill="#8c3a7c"/>
<path d="M778.08 296.31A103.50 103.50 0 0 1 791.73 294.88" stroke="#fff" stroke-opacity=".62" stroke-width="1.6" stroke-dasharray=".7 .4" fill="none"/>
<path d="M796.53 311.80A86.50 86.50 0 0 1 812.87 313.52L802.27 365.86A33.10 33.10 0 0 0 796.02 365.20ZM814.50 313.87A86.50 86.50 0 0 1 830.12 318.94L808.87 367.93A33.10 33.10 0 0 0 802.89 365.99ZM831.64 319.62A86.50 86.50 0 0 1 845.87 327.84L814.90 371.34A33.10 33.10 0 0 0 809.45 368.19ZM847.21 328.81A86.50 86.50 0 0 1 859.42 339.81L820.08 375.92A33.10 33.10 0 0 0 815.41 371.71ZM860.53 341.04A86.50 86.50 0 0 1 870.19 354.33L824.21 381.48A33.10 33.10 0 0 0 820.51 376.39ZM871.02 355.77A86.50 86.50 0 0 1 877.71 370.78L827.08 387.77A33.10 33.10 0 0 0 824.52 382.03ZM878.22 372.36A86.50 86.50 0 0 1 881.64 388.43L828.58 394.52A33.10 33.10 0 0 0 827.28 388.37ZM881.81 390.08A86.50 86.50 0 0 1 881.81 406.52L828.65 401.44A33.10 33.10 0 0 0 828.65 395.16ZM881.64 408.17A86.50 86.50 0 0 1 878.22 424.24L827.28 408.23A33.10 33.10 0 0 0 828.58 402.08ZM877.71 425.82A86.50 86.50 0 0 1 871.02 440.83L824.52 414.57A33.10 33.10 0 0 0 827.08 408.83ZM870.19 442.27A86.50 86.50 0 0 1 860.53 455.56L820.51 420.21A33.10 33.10 0 0 0 824.21 415.12ZM859.42 456.79A86.50 86.50 0 0 1 847.21 467.79L815.41 424.89A33.10 33.10 0 0 0 820.08 420.68ZM845.87 468.76A86.50 86.50 0 0 1 831.64 476.98L809.45 428.41A33.10 33.10 0 0 0 814.90 425.26ZM830.12 477.66A86.50 86.50 0 0 1 814.50 482.73L802.89 430.61A33.10 33.10 0 0 0 808.87 428.67ZM812.87 483.08A86.50 86.50 0 0 1 796.53 484.80L796.02 431.40A33.10 33.10 0 0 0 802.27 430.74ZM794.87 484.80A86.50 86.50 0 0 1 778.53 483.08L789.13 430.74A33.10 33.10 0 0 0 795.38 431.40ZM776.90 482.73A86.50 86.50 0 0 1 761.28 477.66L782.53 428.67A33.10 33.10 0 0 0 788.51 430.61ZM759.76 476.98A86.50 86.50 0 0 1 745.53 468.76L776.50 425.26A33.10 33.10 0 0 0 781.95 428.41ZM744.19 467.79A86.50 86.50 0 0 1 731.98 456.79L771.32 420.68A33.10 33.10 0 0 0 775.99 424.89ZM730.87 455.56A86.50 86.50 0 0 1 721.21 442.27L767.19 415.12A33.10 33.10 0 0 0 770.89 420.21ZM720.38 440.83A86.50 86.50 0 0 1 713.69 425.82L764.32 408.83A33.10 33.10 0 0 0 766.88 414.57ZM713.18 424.24A86.50 86.50 0 0 1 709.76 408.17L762.82 402.08A33.10 33.10 0 0 0 764.12 408.23ZM709.59 406.52A86.50 86.50 0 0 1 709.59 390.08L762.75 395.16A33.10 33.10 0 0 0 762.75 401.44ZM709.76 388.43A86.50 86.50 0 0 1 713.18 372.36L764.12 388.37A33.10 33.10 0 0 0 762.82 394.52ZM713.69 370.78A86.50 86.50 0 0 1 720.38 355.77L766.88 382.03A33.10 33.10 0 0 0 764.32 387.77ZM721.21 354.33A86.50 86.50 0 0 1 730.87 341.04L770.89 376.39A33.10 33.10 0 0 0 767.19 381.48ZM731.98 339.81A86.50 86.50 0 0 1 744.19 328.81L775.99 371.71A33.10 33.10 0 0 0 771.32 375.92ZM745.53 327.84A86.50 86.50 0 0 1 759.76 319.62L781.95 368.19A33.10 33.10 0 0 0 776.50 371.34ZM761.28 318.94A86.50 86.50 0 0 1 776.90 313.87L788.51 365.99A33.10 33.10 0 0 0 782.53 367.93ZM778.53 313.52A86.50 86.50 0 0 1 794.87 311.80L795.38 365.20A33.10 33.10 0 0 0 789.13 365.86Z" fill="#f8f7f7"/>
<path d="M796.84 357.59A40.73 40.73 0 0 1 803.05 358.24M797.05 349.96A48.36 48.36 0 0 1 804.43 350.74M797.26 342.34A55.99 55.99 0 0 1 805.81 343.23M797.48 334.71A63.61 63.61 0 0 1 807.18 335.73M797.69 327.08A71.24 71.24 0 0 1 808.56 328.23M797.90 319.46A78.87 78.87 0 0 1 809.94 320.72M805.28 358.71A40.73 40.73 0 0 1 811.22 360.64M807.07 351.30A48.36 48.36 0 0 1 814.13 353.59M808.86 343.88A55.99 55.99 0 0 1 817.03 346.54M810.66 336.47A63.61 63.61 0 0 1 819.94 339.49M812.45 329.05A71.24 71.24 0 0 1 822.85 332.43M814.25 321.64A78.87 78.87 0 0 1 825.76 325.38M813.30 361.57A40.73 40.73 0 0 1 818.71 364.69M816.59 354.69A48.36 48.36 0 0 1 823.02 358.40M819.89 347.81A55.99 55.99 0 0 1 827.33 352.11M823.19 340.93A63.61 63.61 0 0 1 831.64 345.81M826.48 334.05A71.24 71.24 0 0 1 835.95 339.52M829.78 327.17A78.87 78.87 0 0 1 840.26 333.22M820.55 366.03A40.73 40.73 0 0 1 825.19 370.21M825.20 359.99A48.36 48.36 0 0 1 830.72 364.95M829.86 353.94A55.99 55.99 0 0 1 836.24 359.69M834.51 347.90A63.61 63.61 0 0 1 841.77 354.43M839.17 341.86A71.24 71.24 0 0 1 847.29 349.17M843.82 335.81A78.87 78.87 0 0 1 852.82 343.91M826.72 371.90A40.73 40.73 0 0 1 830.39 376.96M832.53 366.96A48.36 48.36 0 0 1 836.89 372.96M838.34 362.01A55.99 55.99 0 0 1 843.38 368.96M844.14 357.07A63.61 63.61 0 0 1 849.88 364.97M849.95 352.13A71.24 71.24 0 0 1 856.38 360.97M855.76 347.18A78.87 78.87 0 0 1 862.88 356.97M831.53 378.93A40.73 40.73 0 0 1 834.07 384.64M838.24 375.30A48.36 48.36 0 0 1 841.26 382.08M844.95 371.67A55.99 55.99 0 0 1 848.44 379.52M851.66 368.04A63.61 63.61 0 0 1 855.63 376.96M858.37 364.42A71.24 71.24 0 0 1 862.81 374.40M865.08 360.79A78.87 78.87 0 0 1 870.00 371.84M834.77 386.80A40.73 40.73 0 0 1 836.07 392.91M842.09 384.65A48.36 48.36 0 0 1 843.63 391.90M849.41 382.49A55.99 55.99 0 0 1 851.19 390.90M856.73 380.34A63.61 63.61 0 0 1 858.76 389.89M864.04 378.19A71.24 71.24 0 0 1 866.32 388.88M871.36 376.03A78.87 78.87 0 0 1 873.88 387.87M836.31 395.18A40.73 40.73 0 0 1 836.31 401.42M843.91 394.59A48.36 48.36 0 0 1 843.91 402.01M851.52 394.00A55.99 55.99 0 0 1 851.52 402.60M859.13 393.42A63.61 63.61 0 0 1 859.13 403.18M866.73 392.83A71.24 71.24 0 0 1 866.73 403.77M874.34 392.25A78.87 78.87 0 0 1 874.34 404.35M836.07 403.69A40.73 40.73 0 0 1 834.77 409.80M843.63 404.70A48.36 48.36 0 0 1 842.09 411.95M851.19 405.70A55.99 55.99 0 0 1 849.41 414.11M858.76 406.71A63.61 63.61 0 0 1 856.73 416.26M866.32 407.72A71.24 71.24 0 0 1 864.04 418.41M873.88 408.73A78.87 78.87 0 0 1 871.36 420.57M834.07 411.96A40.73 40.73 0 0 1 831.53 417.67M841.26 414.52A48.36 48.36 0 0 1 838.24 421.30M848.44 417.08A55.99 55.99 0 0 1 844.95 424.93M855.63 419.64A63.61 63.61 0 0 1 851.66 428.56M862.81 422.20A71.24 71.24 0 0 1 858.37 432.18M870.00 424.76A78.87 78.87 0 0 1 865.08 435.81M830.39 419.64A40.73 40.73 0 0 1 826.72 424.70M836.89 423.64A48.36 48.36 0 0 1 832.53 429.64M843.38 427.64A55.99 55.99 0 0 1 838.34 434.59M849.88 431.63A63.61 63.61 0 0 1 844.14 439.53M856.38 435.63A71.24 71.24 0 0 1 849.95 444.47M862.88 439.63A78.87 78.87 0 0 1 855.76 449.42M825.19 426.39A40.73 40.73 0 0 1 820.55 430.57M830.72 431.65A48.36 48.36 0 0 1 825.20 436.61M836.24 436.91A55.99 55.99 0 0 1 829.86 442.66M841.77 442.17A63.61 63.61 0 0 1 834.51 448.70M847.29 447.43A71.24 71.24 0 0 1 839.17 454.74M852.82 452.69A78.87 78.87 0 0 1 843.82 460.79M818.71 431.91A40.73 40.73 0 0 1 813.30 435.03M823.02 438.20A48.36 48.36 0 0 1 816.59 441.91M827.33 444.49A55.99 55.99 0 0 1 819.89 448.79M831.64 450.79A63.61 63.61 0 0 1 823.19 455.67M835.95 457.08A71.24 71.24 0 0 1 826.48 462.55M840.26 463.38A78.87 78.87 0 0 1 829.78 469.43M811.22 435.96A40.73 40.73 0 0 1 805.28 437.89M814.13 443.01A48.36 48.36 0 0 1 807.07 445.30M817.03 450.06A55.99 55.99 0 0 1 808.86 452.72M819.94 457.11A63.61 63.61 0 0 1 810.66 460.13M822.85 464.17A71.24 71.24 0 0 1 812.45 467.55M825.76 471.22A78.87 78.87 0 0 1 814.25 474.96M803.05 438.36A40.73 40.73 0 0 1 796.84 439.01M804.43 445.86A48.36 48.36 0 0 1 797.05 446.64M805.81 453.37A55.99 55.99 0 0 1 797.26 454.26M807.18 460.87A63.61 63.61 0 0 1 797.48 461.89M808.56 468.37A71.24 71.24 0 0 1 797.69 469.52M809.94 475.88A78.87 78.87 0 0 1 797.90 477.14M794.56 439.01A40.73 40.73 0 0 1 788.35 438.36M794.35 446.64A48.36 48.36 0 0 1 786.97 445.86M794.14 454.26A55.99 55.99 0 0 1 785.59 453.37M793.92 461.89A63.61 63.61 0 0 1 784.22 460.87M793.71 469.52A71.24 71.24 0 0 1 782.84 468.37M793.50 477.14A78.87 78.87 0 0 1 781.46 475.88M786.12 437.89A40.73 40.73 0 0 1 780.18 435.96M784.33 445.30A48.36 48.36 0 0 1 777.27 443.01M782.54 452.72A55.99 55.99 0 0 1 774.37 450.06M780.74 460.13A63.61 63.61 0 0 1 771.46 457.11M778.95 467.55A71.24 71.24 0 0 1 768.55 464.17M777.15 474.96A78.87 78.87 0 0 1 765.64 471.22M778.10 435.03A40.73 40.73 0 0 1 772.69 431.91M774.81 441.91A48.36 48.36 0 0 1 768.38 438.20M771.51 448.79A55.99 55.99 0 0 1 764.07 444.49M768.21 455.67A63.61 63.61 0 0 1 759.76 450.79M764.92 462.55A71.24 71.24 0 0 1 755.45 457.08M761.62 469.43A78.87 78.87 0 0 1 751.14 463.38M770.85 430.57A40.73 40.73 0 0 1 766.21 426.39M766.20 436.61A48.36 48.36 0 0 1 760.68 431.65M761.54 442.66A55.99 55.99 0 0 1 755.16 436.91M756.89 448.70A63.61 63.61 0 0 1 749.63 442.17M752.23 454.74A71.24 71.24 0 0 1 744.11 447.43M747.58 460.79A78.87 78.87 0 0 1 738.58 452.69M764.68 424.70A40.73 40.73 0 0 1 761.01 419.64M758.87 429.64A48.36 48.36 0 0 1 754.51 423.64M753.06 434.59A55.99 55.99 0 0 1 748.02 427.64M747.26 439.53A63.61 63.61 0 0 1 741.52 431.63M741.45 444.47A71.24 71.24 0 0 1 735.02 435.63M735.64 449.42A78.87 78.87 0 0 1 728.52 439.63M759.87 417.67A40.73 40.73 0 0 1 757.33 411.96M753.16 421.30A48.36 48.36 0 0 1 750.14 414.52M746.45 424.93A55.99 55.99 0 0 1 742.96 417.08M739.74 428.56A63.61 63.61 0 0 1 735.77 419.64M733.03 432.18A71.24 71.24 0 0 1 728.59 422.20M726.32 435.81A78.87 78.87 0 0 1 721.40 424.76M756.63 409.80A40.73 40.73 0 0 1 755.33 403.69M749.31 411.95A48.36 48.36 0 0 1 747.77 404.70M741.99 414.11A55.99 55.99 0 0 1 740.21 405.70M734.67 416.26A63.61 63.61 0 0 1 732.64 406.71M727.36 418.41A71.24 71.24 0 0 1 725.08 407.72M720.04 420.57A78.87 78.87 0 0 1 717.52 408.73M755.09 401.42A40.73 40.73 0 0 1 755.09 395.18M747.49 402.01A48.36 48.36 0 0 1 747.49 394.59M739.88 402.60A55.99 55.99 0 0 1 739.88 394.00M732.27 403.18A63.61 63.61 0 0 1 732.27 393.42M724.67 403.77A71.24 71.24 0 0 1 724.67 392.83M717.06 404.35A78.87 78.87 0 0 1 717.06 392.25M755.33 392.91A40.73 40.73 0 0 1 756.63 386.80M747.77 391.90A48.36 48.36 0 0 1 749.31 384.65M740.21 390.90A55.99 55.99 0 0 1 741.99 382.49M732.64 389.89A63.61 63.61 0 0 1 734.67 380.34M725.08 388.88A71.24 71.24 0 0 1 727.36 378.19M717.52 387.87A78.87 78.87 0 0 1 720.04 376.03M757.33 384.64A40.73 40.73 0 0 1 759.87 378.93M750.14 382.08A48.36 48.36 0 0 1 753.16 375.30M742.96 379.52A55.99 55.99 0 0 1 746.45 371.67M735.77 376.96A63.61 63.61 0 0 1 739.74 368.04M728.59 374.40A71.24 71.24 0 0 1 733.03 364.42M721.40 371.84A78.87 78.87 0 0 1 726.32 360.79M761.01 376.96A40.73 40.73 0 0 1 764.68 371.90M754.51 372.96A48.36 48.36 0 0 1 758.87 366.96M748.02 368.96A55.99 55.99 0 0 1 753.06 362.01M741.52 364.97A63.61 63.61 0 0 1 747.26 357.07M735.02 360.97A71.24 71.24 0 0 1 741.45 352.13M728.52 356.97A78.87 78.87 0 0 1 735.64 347.18M766.21 370.21A40.73 40.73 0 0 1 770.85 366.03M760.68 364.95A48.36 48.36 0 0 1 766.20 359.99M755.16 359.69A55.99 55.99 0 0 1 761.54 353.94M749.63 354.43A63.61 63.61 0 0 1 756.89 347.90M744.11 349.17A71.24 71.24 0 0 1 752.23 341.86M738.58 343.91A78.87 78.87 0 0 1 747.58 335.81M772.69 364.69A40.73 40.73 0 0 1 778.10 361.57M768.38 358.40A48.36 48.36 0 0 1 774.81 354.69M764.07 352.11A55.99 55.99 0 0 1 771.51 347.81M759.76 345.81A63.61 63.61 0 0 1 768.21 340.93M755.45 339.52A71.24 71.24 0 0 1 764.92 334.05M751.14 333.22A78.87 78.87 0 0 1 761.62 327.17M780.18 360.64A40.73 40.73 0 0 1 786.12 358.71M777.27 353.59A48.36 48.36 0 0 1 784.33 351.30M774.37 346.54A55.99 55.99 0 0 1 782.54 343.88M771.46 339.49A63.61 63.61 0 0 1 780.74 336.47M768.55 332.43A71.24 71.24 0 0 1 778.95 329.05M765.64 325.38A78.87 78.87 0 0 1 777.15 321.64M788.35 358.24A40.73 40.73 0 0 1 794.56 357.59M786.97 350.74A48.36 48.36 0 0 1 794.35 349.96M785.59 343.23A55.99 55.99 0 0 1 794.14 342.34M784.22 335.73A63.61 63.61 0 0 1 793.92 334.71M782.84 328.23A71.24 71.24 0 0 1 793.71 327.08M781.46 320.72A78.87 78.87 0 0 1 793.50 319.46" stroke="#c6c4c4" stroke-width=".7" fill="none"/>
<path d="M796.51 313.80A84.50 84.50 0 0 1 812.47 315.48L802.27 365.86A33.10 33.10 0 0 0 796.02 365.20Z" fill="#e6bc2e"/>
<path d="M797.82 304.92A93.40 93.40 0 0 1 810.78 306.13L810.20 309.68A89.80 89.80 0 0 0 797.74 308.52Z" fill="#e02a20"/>
<path d="M810.78 306.13A93.40 93.40 0 0 1 813.04 306.52L812.37 310.06A89.80 89.80 0 0 0 810.20 309.68Z" fill="#1e9e44"/>
<rect x="803.95" y="310.19" width="1" height=".8" fill="#666" opacity=".55"/>
<rect x="810.50" y="311.10" width="1" height=".8" fill="#666" opacity=".55"/>
<path d="M798.44 300.34A98.00 98.00 0 0 1 800.15 300.40L800.03 303.00A95.40 95.40 0 0 0 798.36 302.94Z" fill="#cf2f2a"/>
<path d="M814.06 315.82A84.50 84.50 0 0 1 829.33 320.78L808.87 367.93A33.10 33.10 0 0 0 802.89 365.99Z" fill="#e6bc2e"/>
<path d="M817.19 307.41A93.40 93.40 0 0 1 825.29 309.71L824.15 313.13A89.80 89.80 0 0 0 816.36 310.91Z" fill="#e02a20"/>
<path d="M825.29 309.71A93.40 93.40 0 0 1 831.74 312.13L830.35 315.46A89.80 89.80 0 0 0 824.15 313.13Z" fill="#1e9e44"/>
<rect x="819.71" y="313.23" width="1" height=".8" fill="#666" opacity=".55"/>
<rect x="826.19" y="315.39" width="1" height=".8" fill="#666" opacity=".55"/>
<path d="M818.74 303.05A98.00 98.00 0 0 1 820.40 303.46L819.75 305.98A95.40 95.40 0 0 0 818.13 305.57Z" fill="#cf2f2a"/>
<path d="M830.81 321.44A84.50 84.50 0 0 1 844.71 329.46L814.90 371.34A33.10 33.10 0 0 0 809.45 368.19Z" fill="#e6bc2e"/>
<path d="M835.62 313.86A93.40 93.40 0 0 1 848.49 321.25L846.46 324.22A89.80 89.80 0 0 0 834.08 317.11Z" fill="#e02a20"/>
<path d="M848.49 321.25A93.40 93.40 0 0 1 848.87 321.51L846.82 324.47A89.80 89.80 0 0 0 846.46 324.22Z" fill="#1e9e44"/>
<rect x="839.69" y="321.81" width="1" height=".8" fill="#666" opacity=".55"/>
<rect x="845.20" y="325.31" width="1" height=".8" fill="#666" opacity=".55"/>
<path d="M838.04 309.92A98.00 98.00 0 0 1 839.58 310.67L838.42 313.00A95.40 95.40 0 0 0 836.92 312.27Z" fill="#cf2f2a"/>
<path d="M846.02 330.42A84.50 84.50 0 0 1 857.95 341.16L820.08 375.92A33.10 33.10 0 0 0 815.41 371.71Z" fill="#e6bc2e"/>
<path d="M852.30 324.00A93.40 93.40 0 0 1 863.36 333.91L860.75 336.39A89.80 89.80 0 0 0 850.12 326.87Z" fill="#e02a20"/>
<path d="M863.36 333.91A93.40 93.40 0 0 1 863.67 334.24L861.05 336.71A89.80 89.80 0 0 0 860.75 336.39Z" fill="#1e9e44"/>
<rect x="854.54" y="332.72" width="1" height=".8" fill="#666" opacity=".55"/>
<rect x="859.20" y="337.29" width="1" height=".8" fill="#666" opacity=".55"/>
<path d="M855.49 320.66A98.00 98.00 0 0 1 856.84 321.71L855.22 323.74A95.40 95.40 0 0 0 853.91 322.72Z" fill="#cf2f2a"/>
<path d="M859.04 342.36A84.50 84.50 0 0 1 868.47 355.35L824.21 381.48A33.10 33.10 0 0 0 820.51 376.39Z" fill="#e6bc2e"/>
<path d="M866.51 337.39A93.40 93.40 0 0 1 866.81 337.74L864.07 340.08A89.80 89.80 0 0 0 863.78 339.74Z" fill="#e02a20"/>
<path d="M866.81 337.74A93.40 93.40 0 0 1 875.51 349.78L872.43 351.65A89.80 89.80 0 0 0 864.07 340.08Z" fill="#1e9e44"/>
<rect x="862.18" y="340.60" width="1" height=".8" fill="#666" opacity=".55"/>
<rect x="866.63" y="346.27" width="1" height=".8" fill="#666" opacity=".55"/>
<path d="M870.33 334.78A98.00 98.00 0 0 1 871.43 336.10L869.42 337.75A95.40 95.40 0 0 0 868.35 336.47Z" fill="#cf2f2a"/>
<path d="M869.28 356.75A84.50 84.50 0 0 1 875.81 371.42L827.08 387.77A33.10 33.10 0 0 0 824.52 382.03Z" fill="#e6bc2e"/>
<path d="M877.63 353.45A93.40 93.40 0 0 1 877.85 353.85L874.68 355.56A89.80 89.80 0 0 0 874.47 355.18Z" fill="#e02a20"/>
<path d="M877.85 353.85A93.40 93.40 0 0 1 883.85 367.43L880.45 368.62A89.80 89.80 0 0 0 874.68 355.56Z" fill="#1e9e44"/>
<rect x="872.63" y="355.78" width="1" height=".8" fill="#666" opacity=".55"/>
<rect x="875.81" y="362.25" width="1" height=".8" fill="#666" opacity=".55"/>
<path d="M881.91 351.69A98.00 98.00 0 0 1 882.71 353.20L880.40 354.40A95.40 95.40 0 0 0 879.62 352.93Z" fill="#cf2f2a"/>
<path d="M844.07 383.10A50.70 50.70 0 0 1 846.07 392.52L828.58 394.52A33.10 33.10 0 0 0 827.28 388.37Z" fill="#e6bc2e"/>
<path d="M885.16 371.46A93.40 93.40 0 0 1 886.90 378.13L883.38 378.91A89.80 89.80 0 0 0 881.71 372.50Z" fill="#e02a20"/>
<path d="M886.90 378.13A93.40 93.40 0 0 1 888.34 386.43L884.77 386.89A89.80 89.80 0 0 0 883.38 378.91Z" fill="#1e9e44"/>
<rect x="880.58" y="376.02" width="1" height=".8" fill="#666" opacity=".55"/>
<rect x="882.03" y="382.77" width="1" height=".8" fill="#666" opacity=".55"/>
<path d="M889.71 370.63A98.00 98.00 0 0 1 890.62 373.93L888.10 374.57A95.40 95.40 0 0 0 887.22 371.36Z" fill="#e4604e"/>
<path d="M840.80 394.00A45.30 45.30 0 0 1 840.80 402.60L828.65 401.44A33.10 33.10 0 0 0 828.65 395.16Z" fill="#e6bc2e"/>
<path d="M888.79 390.65A93.40 93.40 0 0 1 889.07 400.60L885.47 400.51A89.80 89.80 0 0 0 885.20 390.94Z" fill="#e02a20"/>
<path d="M889.07 400.60A93.40 93.40 0 0 1 888.79 405.95L885.20 405.66A89.80 89.80 0 0 0 885.47 400.51Z" fill="#1e9e44"/>
<rect x="883.32" y="395.84" width="1" height=".8" fill="#666" opacity=".55"/>
<rect x="883.22" y="402.60" width="1" height=".8" fill="#666" opacity=".55"/>
<path d="M893.41 390.78A98.00 98.00 0 0 1 893.65 395.05L891.05 395.14A95.40 95.40 0 0 0 890.82 390.98Z" fill="#e4604e"/>
<path d="M835.44 402.86A40.00 40.00 0 0 1 833.86 410.29L827.28 408.23A33.10 33.10 0 0 0 828.58 402.08Z" fill="#e6bc2e"/>
<path d="M888.34 410.17A93.40 93.40 0 0 1 887.22 416.97L883.69 416.25A89.80 89.80 0 0 0 884.77 409.71Z" fill="#e02a20"/>
<path d="M887.22 416.97A93.40 93.40 0 0 1 885.16 425.14L881.71 424.10A89.80 89.80 0 0 0 883.69 416.25Z" fill="#1e9e44"/>
<rect x="882.10" y="412.64" width="1" height=".8" fill="#666" opacity=".55"/>
<rect x="880.68" y="419.39" width="1" height=".8" fill="#666" opacity=".55"/>
<path d="M892.84 411.26A98.00 98.00 0 0 1 892.03 416.33L889.47 415.85A95.40 95.40 0 0 0 890.26 410.92Z" fill="#f19a80"/>
<path d="M831.73 410.39A38.00 38.00 0 0 1 828.79 416.98L824.52 414.57A33.10 33.10 0 0 0 827.08 408.83Z" fill="#e6bc2e"/>
<path d="M883.85 429.17A93.40 93.40 0 0 1 881.03 436.29L877.74 434.82A89.80 89.80 0 0 0 880.45 427.98Z" fill="#e02a20"/>
<path d="M881.03 436.29A93.40 93.40 0 0 1 877.63 443.15L874.47 441.42A89.80 89.80 0 0 0 877.74 434.82Z" fill="#1e9e44"/>
<rect x="876.99" y="430.75" width="1" height=".8" fill="#666" opacity=".55"/>
<rect x="874.18" y="437.02" width="1" height=".8" fill="#666" opacity=".55"/>
<path d="M888.02 431.17A98.00 98.00 0 0 1 886.50 435.17L884.09 434.19A95.40 95.40 0 0 0 885.57 430.30Z" fill="#f19a80"/>
<path d="M862.36 437.64A77.40 77.40 0 0 1 853.71 449.54L820.51 420.21A33.10 33.10 0 0 0 824.21 415.12Z" fill="#da4485"/>
<path d="M875.51 446.82A93.40 93.40 0 0 1 874.29 448.77L871.26 446.83A89.80 89.80 0 0 0 872.43 444.95Z" fill="#e02a20"/>
<path d="M874.29 448.77A93.40 93.40 0 0 1 866.51 459.21L863.78 456.86A89.80 89.80 0 0 0 871.26 446.83Z" fill="#1e9e44"/>
<rect x="869.89" y="444.71" width="1" height=".8" fill="#666" opacity=".55"/>
<rect x="865.86" y="450.58" width="1" height=".8" fill="#666" opacity=".55"/>
<path d="M879.17 449.65A98.00 98.00 0 0 1 876.85 453.24L874.70 451.78A95.40 95.40 0 0 0 876.95 448.29Z" fill="#f19a80"/>
<path d="M847.05 445.43A69.70 69.70 0 0 1 837.21 454.29L815.41 424.89A33.10 33.10 0 0 0 820.08 420.68Z" fill="#da4485"/>
<path d="M863.67 462.36A93.40 93.40 0 0 1 857.05 468.73L854.69 466.01A89.80 89.80 0 0 0 861.05 459.89Z" fill="#e02a20"/>
<path d="M857.05 468.73A93.40 93.40 0 0 1 852.30 472.60L850.12 469.73A89.80 89.80 0 0 0 854.69 466.01Z" fill="#1e9e44"/>
<rect x="855.98" y="461.73" width="1" height=".8" fill="#666" opacity=".55"/>
<rect x="850.88" y="466.22" width="1" height=".8" fill="#666" opacity=".55"/>
<path d="M866.67 465.88A98.00 98.00 0 0 1 864.88 467.72L863.04 465.88A95.40 95.40 0 0 0 864.79 464.09Z" fill="#f19a80"/>
<path d="M818.61 430.48A39.50 39.50 0 0 1 812.11 434.23L809.45 428.41A33.10 33.10 0 0 0 814.90 425.26Z" fill="#da4485"/>
<path d="M848.87 475.09A93.40 93.40 0 0 1 839.72 480.68L838.02 477.50A89.80 89.80 0 0 0 846.82 472.13Z" fill="#e02a20"/>
<path d="M839.72 480.68A93.40 93.40 0 0 1 835.62 482.74L834.08 479.49A89.80 89.80 0 0 0 838.02 477.50Z" fill="#1e9e44"/>
<rect x="840.70" y="473.39" width="1" height=".8" fill="#666" opacity=".55"/>
<rect x="834.82" y="476.64" width="1" height=".8" fill="#666" opacity=".55"/>
<path d="M851.07 479.16A98.00 98.00 0 0 1 846.76 481.95L845.40 479.73A95.40 95.40 0 0 0 849.60 477.02Z" fill="#f19a80"/>
<path d="M811.54 434.81A39.80 39.80 0 0 1 804.35 437.15L802.89 430.61A33.10 33.10 0 0 0 808.87 428.67Z" fill="#da4485"/>
<path d="M831.74 484.47A93.40 93.40 0 0 1 823.10 487.59L822.04 484.15A89.80 89.80 0 0 0 830.35 481.14Z" fill="#e02a20"/>
<path d="M823.10 487.59A93.40 93.40 0 0 1 817.19 489.19L816.36 485.69A89.80 89.80 0 0 0 822.04 484.15Z" fill="#1e9e44"/>
<rect x="824.76" y="480.93" width="1" height=".8" fill="#666" opacity=".55"/>
<rect x="818.28" y="482.97" width="1" height=".8" fill="#666" opacity=".55"/>
<path d="M833.04 488.91A98.00 98.00 0 0 1 828.25 490.74L827.39 488.28A95.40 95.40 0 0 0 832.05 486.50Z" fill="#f19a80"/>
<path d="M803.66 437.60A40.10 40.10 0 0 1 796.08 438.40L796.02 431.40A33.10 33.10 0 0 0 802.27 430.74Z" fill="#da4485"/>
<path d="M813.04 490.08A93.40 93.40 0 0 1 801.65 491.51L801.42 487.92A89.80 89.80 0 0 0 812.37 486.54Z" fill="#e02a20"/>
<path d="M801.65 491.51A93.40 93.40 0 0 1 797.82 491.68L797.74 488.08A89.80 89.80 0 0 0 801.42 487.92Z" fill="#1e9e44"/>
<rect x="805.67" y="485.42" width="1" height=".8" fill="#666" opacity=".55"/>
<rect x="799.01" y="485.96" width="1" height=".8" fill="#666" opacity=".55"/>
<path d="M813.39 494.69A98.00 98.00 0 0 1 806.62 495.69L806.33 493.11A95.40 95.40 0 0 0 812.92 492.13Z" fill="#f19a80"/>
<path d="M795.31 438.60A40.30 40.30 0 0 1 787.70 437.80L789.13 430.74A33.10 33.10 0 0 0 795.38 431.40Z" fill="#da4485"/>
<path d="M793.58 491.68A93.40 93.40 0 0 1 783.65 490.92L784.12 487.35A89.80 89.80 0 0 0 793.66 488.08Z" fill="#e02a20"/>
<path d="M783.65 490.92A93.40 93.40 0 0 1 778.36 490.08L779.03 486.54A89.80 89.80 0 0 0 784.12 487.35Z" fill="#1e9e44"/>
<rect x="788.04" y="485.75" width="1" height=".8" fill="#666" opacity=".55"/>
<rect x="781.33" y="484.94" width="1" height=".8" fill="#666" opacity=".55"/>
<path d="M792.96 496.26A98.00 98.00 0 0 1 785.29 495.75L785.56 493.16A95.40 95.40 0 0 0 793.04 493.66Z" fill="#f19a80"/>
<path d="M786.90 437.83A40.50 40.50 0 0 1 779.58 435.46L782.53 428.67A33.10 33.10 0 0 0 788.51 430.61Z" fill="#da4485"/>
<path d="M774.21 489.19A93.40 93.40 0 0 1 766.11 486.89L767.25 483.47A89.80 89.80 0 0 0 775.04 485.69Z" fill="#e02a20"/>
<path d="M766.11 486.89A93.40 93.40 0 0 1 759.66 484.47L761.05 481.14A89.80 89.80 0 0 0 767.25 483.47Z" fill="#1e9e44"/>
<rect x="770.69" y="482.57" width="1" height=".8" fill="#666" opacity=".55"/>
<rect x="764.21" y="480.41" width="1" height=".8" fill="#666" opacity=".55"/>
<path d="M772.66 493.55A98.00 98.00 0 0 1 765.25 491.45L766.06 488.98A95.40 95.40 0 0 0 773.27 491.03Z" fill="#f19a80"/>
<path d="M779.00 434.87A40.20 40.20 0 0 1 772.38 431.05L776.50 425.26A33.10 33.10 0 0 0 781.95 428.41Z" fill="#da4485"/>
<path d="M755.78 482.74A93.40 93.40 0 0 1 747.68 478.41L749.53 475.32A89.80 89.80 0 0 0 757.32 479.49Z" fill="#e02a20"/>
<path d="M747.68 478.41A93.40 93.40 0 0 1 742.53 475.09L744.58 472.13A89.80 89.80 0 0 0 749.53 475.32Z" fill="#1e9e44"/>
<rect x="753.28" y="475.43" width="1" height=".8" fill="#666" opacity=".55"/>
<rect x="747.43" y="471.97" width="1" height=".8" fill="#666" opacity=".55"/>
<path d="M753.36 486.68A98.00 98.00 0 0 1 745.81 482.65L747.14 480.41A95.40 95.40 0 0 0 754.48 484.33Z" fill="#f19a80"/>
<path d="M771.70 430.67A40.30 40.30 0 0 1 766.01 425.55L771.32 420.68A33.10 33.10 0 0 0 775.99 424.89Z" fill="#da4485"/>
<path d="M739.10 472.60A93.40 93.40 0 0 1 733.20 467.71L735.61 465.03A89.80 89.80 0 0 0 741.28 469.73Z" fill="#e02a20"/>
<path d="M733.20 467.71A93.40 93.40 0 0 1 727.73 462.36L730.35 459.89A89.80 89.80 0 0 0 735.61 465.03Z" fill="#1e9e44"/>
<rect x="738.68" y="465.53" width="1" height=".8" fill="#666" opacity=".55"/>
<rect x="733.59" y="460.93" width="1" height=".8" fill="#666" opacity=".55"/>
<path d="M735.91 475.94A98.00 98.00 0 0 1 729.37 470.44L731.13 468.52A95.40 95.40 0 0 0 737.49 473.88Z" fill="#f19a80"/>
<path d="M765.64 424.84A40.10 40.10 0 0 1 761.17 418.68L767.19 415.12A33.10 33.10 0 0 0 770.89 420.21Z" fill="#da4485"/>
<path d="M724.89 459.21A93.40 93.40 0 0 1 718.81 451.32L721.77 449.28A89.80 89.80 0 0 0 727.62 456.86Z" fill="#e02a20"/>
<path d="M718.81 451.32A93.40 93.40 0 0 1 715.89 446.82L718.97 444.95A89.80 89.80 0 0 0 721.77 449.28Z" fill="#1e9e44"/>
<rect x="725.12" y="451.36" width="1" height=".8" fill="#666" opacity=".55"/>
<rect x="721.23" y="445.83" width="1" height=".8" fill="#666" opacity=".55"/>
<path d="M721.07 461.82A98.00 98.00 0 0 1 714.84 453.67L716.98 452.20A95.40 95.40 0 0 0 723.05 460.13Z" fill="#f19a80"/>
<path d="M742.23 428.49A61.40 61.40 0 0 1 737.49 417.83L764.32 408.83A33.10 33.10 0 0 0 766.88 414.57Z" fill="#8c3a7c"/>
<path d="M713.77 443.15A93.40 93.40 0 0 1 709.76 434.88L713.08 433.47A89.80 89.80 0 0 0 716.93 441.42Z" fill="#e02a20"/>
<path d="M709.76 434.88A93.40 93.40 0 0 1 707.55 429.17L710.95 427.98A89.80 89.80 0 0 0 713.08 433.47Z" fill="#1e9e44"/>
<rect x="715.71" y="435.98" width="1" height=".8" fill="#666" opacity=".55"/>
<rect x="713.01" y="429.75" width="1" height=".8" fill="#666" opacity=".55"/>
<path d="M709.49 444.91A98.00 98.00 0 0 1 708.30 442.64L710.62 441.46A95.40 95.40 0 0 0 711.78 443.67Z" fill="#f19a80"/>
<path d="M737.22 416.68A61.30 61.30 0 0 1 734.80 405.29L762.82 402.08A33.10 33.10 0 0 0 764.12 408.23Z" fill="#8c3a7c"/>
<path d="M706.24 425.14A93.40 93.40 0 0 1 704.50 418.47L708.02 417.69A89.80 89.80 0 0 0 709.69 424.10Z" fill="#e02a20"/>
<path d="M704.50 418.47A93.40 93.40 0 0 1 703.06 410.17L706.63 409.71A89.80 89.80 0 0 0 708.02 417.69Z" fill="#1e9e44"/>
<rect x="709.82" y="419.78" width="1" height=".8" fill="#666" opacity=".55"/>
<rect x="708.37" y="413.03" width="1" height=".8" fill="#666" opacity=".55"/>
<path d="M701.69 425.97A98.00 98.00 0 0 1 701.00 423.50L703.51 422.83A95.40 95.40 0 0 0 704.18 425.24Z" fill="#f19a80"/>
<path d="M734.78 404.11A61.20 61.20 0 0 1 734.78 392.49L762.75 395.16A33.10 33.10 0 0 0 762.75 401.44Z" fill="#8c3a7c"/>
<path d="M702.61 405.95A93.40 93.40 0 0 1 702.30 397.53L705.90 397.56A89.80 89.80 0 0 0 706.20 405.66Z" fill="#e02a20"/>
<path d="M702.30 397.53A93.40 93.40 0 0 1 702.61 390.65L706.20 390.94A89.80 89.80 0 0 0 705.90 397.56Z" fill="#1e9e44"/>
<rect x="707.11" y="400.76" width="1" height=".8" fill="#666" opacity=".55"/>
<rect x="707.15" y="393.92" width="1" height=".8" fill="#666" opacity=".55"/>
<path d="M697.99 405.82A98.00 98.00 0 0 1 697.83 403.26L700.42 403.13A95.40 95.40 0 0 0 700.58 405.62Z" fill="#f19a80"/>
<path d="M736.09 391.46A60.00 60.00 0 0 1 738.46 380.31L764.12 388.37A33.10 33.10 0 0 0 762.82 394.52Z" fill="#8c3a7c"/>
<path d="M703.06 386.43A93.40 93.40 0 0 1 706.02 372.20L709.48 373.20A89.80 89.80 0 0 0 706.63 386.89Z" fill="#e02a20"/>
<path d="M706.02 372.20A93.40 93.40 0 0 1 706.24 371.46L709.69 372.50A89.80 89.80 0 0 0 709.48 373.20Z" fill="#1e9e44"/>
<rect x="709.05" y="379.26" width="1" height=".8" fill="#666" opacity=".55"/>
<rect x="710.67" y="372.92" width="1" height=".8" fill="#666" opacity=".55"/>
<path d="M698.56 385.34A98.00 98.00 0 0 1 698.93 382.80L701.50 383.21A95.40 95.40 0 0 0 701.14 385.68Z" fill="#f19a80"/>
<path d="M739.95 379.59A58.80 58.80 0 0 1 744.50 369.39L766.88 382.03A33.10 33.10 0 0 0 764.32 387.77Z" fill="#8c3a7c"/>
<path d="M707.55 367.43A93.40 93.40 0 0 1 712.70 355.48L715.89 357.13A89.80 89.80 0 0 0 710.95 368.62Z" fill="#e02a20"/>
<path d="M712.70 355.48A93.40 93.40 0 0 1 713.77 353.45L716.93 355.18A89.80 89.80 0 0 0 715.89 357.13Z" fill="#1e9e44"/>
<rect x="714.49" y="362.48" width="1" height=".8" fill="#666" opacity=".55"/>
<rect x="717.37" y="356.53" width="1" height=".8" fill="#666" opacity=".55"/>
<path d="M703.38 365.43A98.00 98.00 0 0 1 704.27 363.02L706.70 363.96A95.40 95.40 0 0 0 705.83 366.30Z" fill="#f19a80"/>
<path d="M746.61 369.33A57.00 57.00 0 0 1 752.98 360.57L770.89 376.39A33.10 33.10 0 0 0 767.19 381.48Z" fill="#8c3a7c"/>
<path d="M715.89 349.78A93.40 93.40 0 0 1 718.81 345.28L721.77 347.32A89.80 89.80 0 0 0 718.97 351.65Z" fill="#e02a20"/>
<path d="M718.81 345.28A93.40 93.40 0 0 1 724.89 337.39L727.62 339.74A89.80 89.80 0 0 0 721.77 347.32Z" fill="#1e9e44"/>
<rect x="721.37" y="349.75" width="1" height=".8" fill="#666" opacity=".55"/>
<rect x="725.41" y="344.07" width="1" height=".8" fill="#666" opacity=".55"/>
<path d="M712.23 346.95A98.00 98.00 0 0 1 714.07 344.07L716.24 345.51A95.40 95.40 0 0 0 714.45 348.31Z" fill="#f19a80"/>
<path d="M755.55 361.45A54.50 54.50 0 0 1 763.24 354.52L775.99 371.71A33.10 33.10 0 0 0 771.32 375.92Z" fill="#8c3a7c"/>
<path d="M727.73 334.24A93.40 93.40 0 0 1 733.77 328.38L736.16 331.07A89.80 89.80 0 0 0 730.35 336.71Z" fill="#e02a20"/>
<path d="M733.77 328.38A93.40 93.40 0 0 1 739.10 324.00L741.28 326.87A89.80 89.80 0 0 0 736.16 331.07Z" fill="#1e9e44"/>
<rect x="734.13" y="334.34" width="1" height=".8" fill="#666" opacity=".55"/>
<rect x="739.24" y="329.81" width="1" height=".8" fill="#666" opacity=".55"/>
<path d="M724.73 330.72A98.00 98.00 0 0 1 727.13 328.28L728.95 330.14A95.40 95.40 0 0 0 726.61 332.51Z" fill="#f19a80"/>
<path d="M765.83 356.35A51.50 51.50 0 0 1 774.30 351.46L781.95 368.19A33.10 33.10 0 0 0 776.50 371.34Z" fill="#8c3a7c"/>
<path d="M742.53 321.51A93.40 93.40 0 0 1 747.02 318.59L748.90 321.66A89.80 89.80 0 0 0 744.58 324.47Z" fill="#e02a20"/>
<path d="M747.02 318.59A93.40 93.40 0 0 1 755.78 313.86L757.32 317.11A89.80 89.80 0 0 0 748.90 321.66Z" fill="#1e9e44"/>
<rect x="747.34" y="323.89" width="1" height=".8" fill="#666" opacity=".55"/>
<rect x="753.34" y="320.33" width="1" height=".8" fill="#666" opacity=".55"/>
<path d="M740.33 317.44A98.00 98.00 0 0 1 743.91 315.10L745.29 317.31A95.40 95.40 0 0 0 741.80 319.58Z" fill="#f19a80"/>
<path d="M776.52 354.08A48.20 48.20 0 0 1 785.23 351.25L788.51 365.99A33.10 33.10 0 0 0 782.53 367.93Z" fill="#8c3a7c"/>
<path d="M759.66 312.13A93.40 93.40 0 0 1 767.57 309.24L768.65 312.67A89.80 89.80 0 0 0 761.05 315.46Z" fill="#e02a20"/>
<path d="M767.57 309.24A93.40 93.40 0 0 1 774.21 307.41L775.04 310.91A89.80 89.80 0 0 0 768.65 312.67Z" fill="#1e9e44"/>
<rect x="765.26" y="315.00" width="1" height=".8" fill="#666" opacity=".55"/>
<rect x="771.77" y="312.93" width="1" height=".8" fill="#666" opacity=".55"/>
<path d="M758.36 307.69A98.00 98.00 0 0 1 762.34 306.15L763.23 308.60A95.40 95.40 0 0 0 759.35 310.10Z" fill="#f19a80"/>
<path d="M786.81 354.39A44.80 44.80 0 0 1 795.27 353.50L795.38 365.20A33.10 33.10 0 0 0 789.13 365.86Z" fill="#8c3a7c"/>
<path d="M778.36 306.52A93.40 93.40 0 0 1 789.75 305.09L789.98 308.68A89.80 89.80 0 0 0 779.03 310.06Z" fill="#e02a20"/>
<path d="M789.75 305.09A93.40 93.40 0 0 1 793.58 304.92L793.66 308.52A89.80 89.80 0 0 0 789.98 308.68Z" fill="#1e9e44"/>
<rect x="784.73" y="310.38" width="1" height=".8" fill="#666" opacity=".55"/>
<rect x="791.39" y="309.84" width="1" height=".8" fill="#666" opacity=".55"/>
<path d="M778.01 301.91A98.00 98.00 0 0 1 783.08 301.12L783.41 303.69A95.40 95.40 0 0 0 778.48 304.47Z" fill="#f19a80"/>
<circle cx="795.7" cy="398.3" r="32.8" fill="#fff"/>
<text x="795.80" y="285.30" font-size="7.4" font-weight="bold" text-anchor="middle" fill="#1a1a1a">GO Enrichment of T2_vs_T3</text>
<rect x="767.9" y="384.8" width="12.3" height="4.8" fill="#8a8a8a"/>
<text x="774.10" y="388.50" font-size="4" text-anchor="middle" fill="#333">100</text>
<text x="782.70" y="389.00" font-size="5.4" text-anchor="start" fill="#111">Number of Genes</text>
<rect x="767.9" y="393.4" width="12.3" height="4.8" fill="#e3241c"/>
<text x="782.70" y="397.65" font-size="5.4" text-anchor="start" fill="#111">Up-regulated</text>
<rect x="767.9" y="402.1" width="12.3" height="4.8" fill="#1b9c3e"/>
<text x="782.70" y="406.30" font-size="5.4" text-anchor="start" fill="#111">Down-regulated</text>
<rect x="767.9" y="410.8" width="12.3" height="4.8" fill="#868686"/>
<text x="782.70" y="414.95" font-size="5.4" text-anchor="start" fill="#111">Rich Factor(0-0.7)</text>
<rect x="909.1" y="334.9" width="2.8" height="2.8" fill="#e6bc2e"/>
<text x="912.80" y="337.80" font-size="4.9" text-anchor="start" fill="#222">Molecular Function</text>
<rect x="909.1" y="339.5" width="2.8" height="2.8" fill="#da4485"/>
<text x="912.80" y="342.40" font-size="4.9" text-anchor="start" fill="#222">Cellular Component</text>
<rect x="909.1" y="344.1" width="2.8" height="2.8" fill="#8c3a7c"/>
<text x="912.80" y="347.00" font-size="4.9" text-anchor="start" fill="#222">Biological Process</text>
<text x="910.50" y="358.50" font-size="4.9" text-anchor="start" fill="#222">-log10(Pvalue)</text>
<circle cx="910.2" cy="362.8" r="1.15" fill="#fdeee8"/>
<text x="912.70" y="364.40" font-size="4.9" text-anchor="start" fill="#222">[0,1.3]</text>
<circle cx="910.2" cy="367.3" r="1.15" fill="#f8c9b4"/>
<text x="912.70" y="368.93" font-size="4.9" text-anchor="start" fill="#222">[1.3,2]</text>
<circle cx="910.2" cy="371.9" r="1.15" fill="#f19a80"/>
<text x="912.70" y="373.46" font-size="4.9" text-anchor="start" fill="#222">[2,5]</text>
<circle cx="910.2" cy="376.4" r="1.15" fill="#e4604e"/>
<text x="912.70" y="377.99" font-size="4.9" text-anchor="start" fill="#222">[5,10]</text>
<circle cx="910.2" cy="380.9" r="1.15" fill="#cf2f2a"/>
<text x="912.70" y="382.52" font-size="4.9" text-anchor="start" fill="#222">[10,15]</text>
<circle cx="910.2" cy="385.4" r="1.15" fill="#a8161c"/>
<text x="912.70" y="387.05" font-size="4.9" text-anchor="start" fill="#222">[15,20]</text>
<circle cx="910.2" cy="390.0" r="1.15" fill="#5a0f17"/>
<text x="912.70" y="391.58" font-size="4.9" text-anchor="start" fill="#222">&gt;20</text>
</svg>
</body></html>
